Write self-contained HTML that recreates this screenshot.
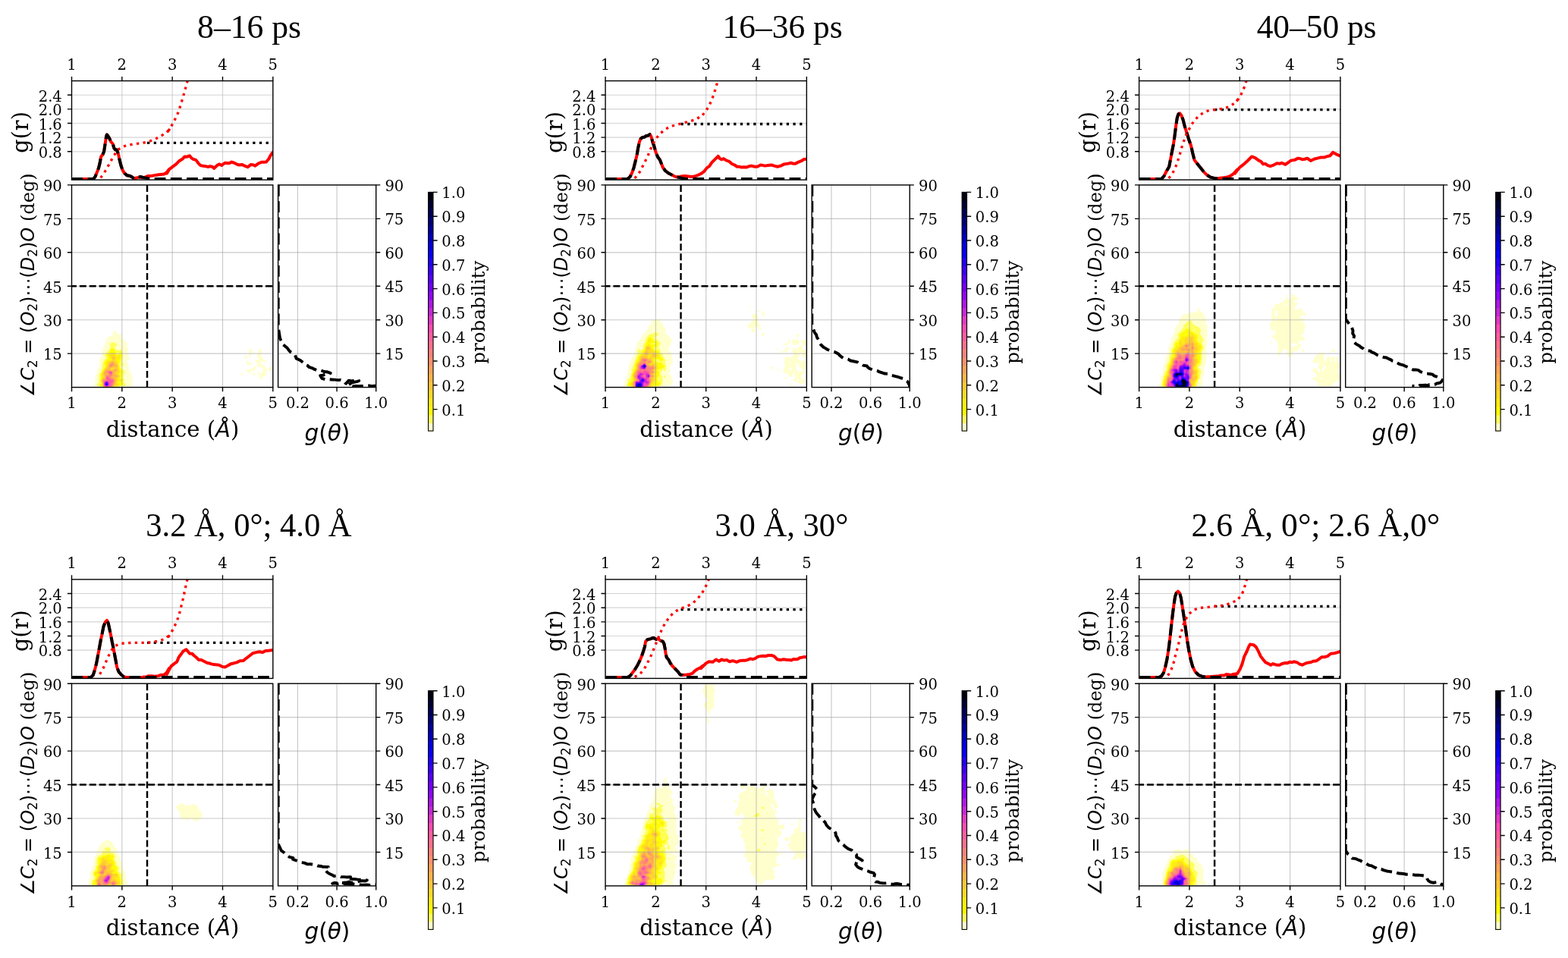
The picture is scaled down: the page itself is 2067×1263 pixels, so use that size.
<!DOCTYPE html><html><head><meta charset="utf-8"><style>html,body{margin:0;padding:0;background:#fff;}svg{display:block;}</style></head><body><svg width="2067" height="1263" viewBox="0 0 2067 1263"><rect width="100%" height="100%" fill="#fff"/><g transform="translate(0,0)"><clipPath id="ct00"><rect x="94.5" y="106.6" width="265.3" height="130.5"/></clipPath><clipPath id="cm00"><rect x="94.5" y="243.9" width="265.3" height="266.7"/></clipPath><clipPath id="cr00"><rect x="366.6" y="243.9" width="129.1" height="266.7"/></clipPath></g><g transform="translate(0,0)"><path d="M160.82 106.6V237.1M227.15 106.6V237.1M293.48 106.6V237.1" stroke="#b0b0b0" stroke-opacity="0.55" stroke-width="1.15" fill="none"/><path d="M94.5 199.81H359.8M94.5 181.17H359.8M94.5 162.53H359.8M94.5 143.89H359.8M94.5 125.24H359.8" stroke="#b0b0b0" stroke-opacity="0.55" stroke-width="1.15" fill="none"/><g clip-path="url(#ct00)" fill="none" stroke-linejoin="round"><polyline points="94.43,236.12 123.25,235.9 125.47,233.02 127.69,227.47 129.9,221.93 131.57,215.28 133.23,206.41 135.45,203.64 137.11,199.76 138.77,188.68 140.1,179.81 140.99,177.59 142.32,179.26 144.32,182.58 145.98,186.46 148.75,189.79 150.41,195.33 152.07,197.55 154.07,197.55 155.95,203.09 157.62,210.85 159.28,217.5 161.5,224.15 164.27,228.58 167.59,231.35 171.47,231.91 174.24,233.57 177.02,235.46 178.68,234.68 181.45,234.13 184.22,233.57 186.99,233.96 189.76,234.35 192.53,232.99 195.3,231.91 198.08,232.08 200.85,231.69 203.62,231.12 206.39,230.8 209.16,230.18 211.93,229.91 216.37,229.47 219.69,227.47 223.02,223.04 220,228.59 223.33,223.05 227.76,219.72 232.19,216.4 236.63,211.96 241.06,209.19 243.28,206.42 246.61,206.64 249.93,205.31 252.15,208.08 254.37,209.75 258.25,210.86 261.57,215.29 264.34,218.06 267.67,218.84 270.99,219.17 274.32,219.95 277.09,219.32 279.86,219.72 282.08,221.94 286.51,217.73 289.29,216.4 292.06,218.06 296.49,214.74 299.26,214.9 302.03,215.29 305.36,213.63 308.69,214.74 313.12,216.95 315.89,217.56 318.66,216.95 323.1,218.84 326.42,220.28 330.86,216.95 334.18,217.51 336.4,218.62 340.83,215.29 345.27,213.63 348.04,213.86 350.81,213.63 354.14,209.75 356.35,205.31 359.12,201.43 361.34,199.22" stroke="#ff0000" stroke-width="4.0"/><polyline points="94.43,236.12 123.25,235.9 125.47,233.02 127.69,227.47 129.9,221.93 131.57,215.28 133.23,206.41 135.45,203.64 137.11,199.76 138.77,188.68 140.1,179.81 140.99,177.59 142.32,179.26 144.32,182.58 145.98,186.46 148.75,189.79 150.41,195.33 152.07,197.55 154.07,197.55 155.95,203.09 157.62,210.85 159.28,217.5 161.5,224.15 164.27,228.58 167.59,231.35 171.47,231.91 174.24,233.57 177.02,235.46 182,233.57 185.33,233.02 189.76,234.13 195.3,235.23 200.85,236.12 362.8,236.12" stroke="#000" stroke-width="4.0" stroke-dasharray="14.8 6.4"/><line x1="193.99" y1="188.35" x2="361.8" y2="188.35" stroke="#000" stroke-width="3.3" stroke-dasharray="3.3 5.4"/><polyline points="132.68,234.35 137.66,227.47 142.1,219.71 145.98,212.51 150.41,204.75 155.4,197.55 162.05,193.11 170.92,190.89 178.68,189.56 187.55,188.68 196.41,186.46 204.17,183.69 211.93,179.26 219.14,175.38 224.68,168.73 220,175.38 224.43,168.73 228.87,160.97 232.75,153.21 236.07,145.45 238.29,137.47 241.06,129.04 243.28,120.51 245.72,112.19 247.16,106.65 248.27,102.22" stroke="#ff0000" stroke-width="3.3" stroke-dasharray="3.3 5.4"/></g><rect x="94.5" y="106.6" width="265.3" height="130.5" fill="none" stroke="#000" stroke-width="1.4"/><path d="M94.5 106.6v-5.6M160.82 106.6v-5.6M227.15 106.6v-5.6M293.48 106.6v-5.6M359.8 106.6v-5.6M94.5 199.81h-5.6M94.5 181.17h-5.6M94.5 162.53h-5.6M94.5 143.89h-5.6M94.5 125.24h-5.6" stroke="#000" stroke-width="1.4"/><text transform="translate(94.5,92) scale(0.94,1)" font-family="'DejaVu Serif', serif" font-size="20.8" text-anchor="middle">1</text><text transform="translate(160.82,92) scale(0.94,1)" font-family="'DejaVu Serif', serif" font-size="20.8" text-anchor="middle">2</text><text transform="translate(227.15,92) scale(0.94,1)" font-family="'DejaVu Serif', serif" font-size="20.8" text-anchor="middle">3</text><text transform="translate(293.48,92) scale(0.94,1)" font-family="'DejaVu Serif', serif" font-size="20.8" text-anchor="middle">4</text><text transform="translate(359.8,92) scale(0.94,1)" font-family="'DejaVu Serif', serif" font-size="20.8" text-anchor="middle">5</text><text transform="translate(81.8,208.11) scale(0.94,1)" font-family="'DejaVu Serif', serif" font-size="20.8" text-anchor="end">0.8</text><text transform="translate(81.8,189.47) scale(0.94,1)" font-family="'DejaVu Serif', serif" font-size="20.8" text-anchor="end">1.2</text><text transform="translate(81.8,170.83) scale(0.94,1)" font-family="'DejaVu Serif', serif" font-size="20.8" text-anchor="end">1.6</text><text transform="translate(81.8,152.19) scale(0.94,1)" font-family="'DejaVu Serif', serif" font-size="20.8" text-anchor="end">2.0</text><text transform="translate(81.8,133.54) scale(0.94,1)" font-family="'DejaVu Serif', serif" font-size="20.8" text-anchor="end">2.4</text><text transform="translate(37.0,174.5) rotate(-90)" font-family="'DejaVu Serif', serif" font-size="29" text-anchor="middle">g(r)</text><g clip-path="url(#cm00)"><path d="M125 509.3L127.7 509.3L130.3 509.3L133 509.3L135.6 509.3L138.3 509.3L140.9 509.3L143.6 509.3L146.2 509.3L148.9 509.3L151.5 509.3L154.2 509.3L156.8 509.3L159.5 509.3L162.2 509.3L164.8 509.3L167.5 509.3L170.1 509.3L172.8 509.3L175.4 509.3L175.5 509.3L175.4 509.1L174 506.6L174.5 503.9L174.6 501.3L174.5 498.6L173.8 495.9L173 493.3L172.8 491.4L172.4 490.6L170.1 488.4L170 487.9L169.8 485.3L170 482.6L168.5 479.9L167.8 477.3L167.5 474.6L170.1 474.2L172.5 471.9L170.1 470.8L169.3 469.3L169.1 466.6L168 463.9L169.3 461.3L168.6 458.6L167.5 456.4L166.8 455.9L167.5 454.7L168 453.3L167.5 452.6L165.9 450.6L164.8 448.6L162.9 447.9L162.2 447.7L160.4 445.3L160.7 442.6L159.5 440.7L156.8 440.6L154.2 440.2L153.6 439.9L153.8 437.3L151.5 435.5L149.8 437.3L148.9 439.1L148.2 439.9L148.2 442.6L146.2 442.7L143.6 443.1L141.8 445.3L140.9 447L140.3 447.9L139.3 450.6L138.6 453.3L138.3 454.4L137.2 455.9L135.7 458.6L135.6 459L135.3 461.3L135.1 463.9L133.4 466.6L133.6 469.3L133 470.7L132.2 471.9L130.9 474.6L131.6 477.3L131.1 479.9L131 482.6L130.3 484.3L129.3 485.3L127.9 487.9L127.9 490.6L127.7 491.8L126.9 493.3L126.4 495.9L125.3 498.6L125.3 501.3L125.3 503.9L125 505.3L124.2 506.6L124 509.3ZM331.9 509.3L332.9 509.3L331.9 509L331.7 509.3ZM334.6 501.1L334.9 498.6L334.6 497.3L334.2 498.6ZM342.6 500L345.2 499.6L346 498.6L347.7 495.9L347.9 495.4L350.5 495L351.6 493.3L351.5 490.6L352.4 487.9L351 485.3L350.5 485L349.2 482.6L347.9 480.2L345.2 481.5L343.8 479.9L343.9 477.3L345.2 476.1L347.8 477.3L347.9 477.6L350.5 478.3L351.5 477.3L350.5 474.7L347.9 475.9L347.8 474.6L346.6 471.9L345.2 470.6L343.6 469.3L344.1 466.6L345.1 463.9L344 461.3L342.6 459.1L340.3 461.3L340.3 463.9L340.9 466.6L339.9 466.7L338.1 469.3L339.9 471.2L341.2 471.9L340.3 474.6L339.9 475.3L339.2 474.6L337.2 473.7L336.3 474.6L337.1 477.3L337.2 477.6L339.9 479.6L340.1 479.9L339.9 480.3L337.4 482.6L339.9 483.5L342.6 484.6L345.2 484L346.9 485.3L345.7 487.9L347 490.6L345.2 492.2L342.6 491.4L341.4 490.6L339.9 490.3L339.4 490.6L339.9 492.4L340.5 493.3L342.1 495.9L341.7 498.6ZM318.7 495.9L320.2 493.3L318.7 490.7L317 493.3ZM334.6 495.6L337.2 493.4L338.6 493.3L337.2 493L334.6 491.6L333 493.3ZM326.6 492.2L329.3 492.5L330.8 490.6L331.9 489.1L334.6 489.3L335.9 487.9L337.2 485.7L337.7 485.3L337.2 483L334.6 483.2L333.2 485.3L331.9 486L329.3 486.5L326.6 487.2L325.5 487.9L325.4 490.6ZM355.8 489.5L358.4 487.9L357.8 485.3L355.8 483.6L354 485.3L354 487.9ZM326.6 481.4L329.3 480.1L331.9 481.8L333.5 479.9L331.9 478.8L329.3 479.6L328.7 477.3L326.6 475.1L324.8 477.3L325.3 479.9ZM324 473.4L326.3 471.9L324.9 469.3L324 467.9L323 469.3L322 471.9ZM329.3 471.2L331.1 469.3L330.7 466.6L331.9 465.5L333.7 463.9L331.9 461.4L331.8 461.3L329.3 459.3L327.4 461.3L327.9 463.9L328.3 466.6L328 469.3ZM318.7 462.4L320.8 461.3L318.7 460.8L318.1 461.3ZM337.2 459L337.5 458.6L337.2 458.3L337 458.6ZM353.2 459.4L354.4 458.6L353.2 458.2L352.7 458.6Z" fill="#ffffcd"/><path d="M127.7 507L128.4 509.3L130.3 509.3L133 509.3L135.6 509.3L138.3 509.3L140.9 509.3L143.6 509.3L146.2 509.3L148.9 509.3L151.5 509.3L154.2 509.3L156.8 509.3L159.5 509.3L162.2 509.3L164 509.3L164.8 508.6L166.4 506.6L164.8 505.5L163.5 503.9L163.8 501.3L163.1 498.6L162.4 495.9L163.6 493.3L164.8 491.1L165.1 490.6L164.8 489.9L163.6 487.9L162.2 487L159.8 485.3L159.5 483.1L159.5 482.6L159.5 482.4L162.2 482.2L164.2 479.9L162.2 479.4L161 477.3L161.6 474.6L161.7 471.9L162.2 469.7L162.4 469.3L162.2 468.8L161.6 466.6L161.5 463.9L160.1 461.3L159.5 460.6L158.6 461.3L156.8 461.8L154.6 461.3L154.2 461.1L151.5 458.9L151.3 458.6L151.5 457.8L153.6 455.9L154.2 453.8L154.3 453.3L154.2 453.2L151.5 451.9L148.9 451.2L146.2 452.3L144.9 453.3L144.8 455.9L145.6 458.6L143.9 461.3L143.6 462.2L140.9 463.7L140.8 463.9L138.5 466.6L138.3 469L138.3 469.3L138.3 469.3L139.8 471.9L138.3 473.7L136.8 474.6L135.9 477.3L135.6 477.8L134.5 479.9L134.9 482.6L134.2 485.3L133.5 487.9L133 490.2L132.8 490.6L130.7 493.3L130.7 495.9L130.3 498.3L130.2 498.6L130.3 499.4L130.4 501.3L130.6 503.9L130.3 504.5L127.7 506.4L127.5 506.6Z" fill="#ffff5c"/><path d="M133 509.3L135.6 509.3L138.3 509.3L140.9 509.3L143.6 509.3L146.2 509.3L148.9 509.3L151.5 509.3L154.2 509.3L156.8 509.3L157.9 509.3L159.5 507.5L162.2 506.6L162.2 506.6L162.2 506.6L160.8 503.9L162.2 501.3L159.7 498.6L159.8 495.9L159.8 493.3L161.9 490.6L160.6 487.9L159.5 487L158.1 485.3L157.5 482.6L156.8 480L156.8 479.9L156.8 479.9L158.4 477.3L159.1 474.6L159.5 473.2L159.8 471.9L160.6 469.3L159.7 466.6L160.1 463.9L159.5 463L157.2 463.9L159 466.6L156.8 467L154.2 467.9L153.3 466.6L153.1 463.9L151.5 462.5L150.8 461.3L148.9 458.9L146.2 459.8L145.1 461.3L144.6 463.9L143.6 465L141.7 466.6L141.1 469.3L142.7 471.9L140.9 473.8L140.2 474.6L138.3 476.7L137.9 477.3L137.1 479.9L138.3 481.3L138.8 482.6L138.3 483.9L137.2 485.3L135.7 487.9L135.6 488.2L134.3 490.6L133 492.7L132.5 493.3L132.7 495.9L133 498.6L132 501.3L133 503.7L133 503.9L133 505.4L132.7 506.6L131.2 509.3Z" fill="#fffc03"/><path d="M135.6 509.3L138.3 509.3L140.9 509.3L143.6 509.3L146.2 509.3L148.9 509.3L151.5 509.3L154.2 509.3L156.1 509.3L156.1 506.6L155.4 503.9L156.8 501.8L159.5 503.3L161.2 501.3L159.5 499.5L156.8 500.2L156.3 498.6L156.8 498.1L158.6 495.9L156.9 493.3L159.1 490.6L158.5 487.9L156.8 485.8L156.7 485.3L156.5 482.6L156 479.9L156.5 477.3L154.2 475.5L153.6 474.6L154.2 472.7L156.8 474.6L158.4 471.9L158.8 469.3L156.8 468.1L154.9 469.3L154.2 471.2L153.5 469.3L151.9 466.6L151.5 465.7L148.9 464.5L146.2 464.1L144 466.6L143.6 467.3L142.8 469.3L143.6 470.3L145.6 471.9L146.2 472.8L146.8 474.6L146.2 475L143.6 475.3L140.9 475.9L139.6 477.3L139.6 479.9L140.4 482.6L138.9 485.3L138.3 485.8L136.4 487.9L135.6 490.6L135.6 490.6L133.6 493.3L134.1 495.9L133.9 498.6L133.1 501.3L133.6 503.9L134 506.6L133 509.3ZM148.9 461.3L148.9 461.3L148.9 461.2L148.7 461.3Z" fill="#ffec13"/><path d="M135.6 509.3L138.3 509.3L140.9 509.3L143.6 509.3L146.2 509.3L148.9 509.3L151.5 509.3L154.2 509.3L154.7 509.3L154.8 506.6L154.2 504.4L154.1 503.9L154.2 503.5L155.2 501.3L154.8 498.6L156.8 496.9L157.6 495.9L156.8 494.8L154.9 493.3L156.8 491.1L157.2 490.6L156.8 489.3L156.6 487.9L155.7 485.3L155.9 482.6L155.1 479.9L154.2 477.9L153.5 477.3L152.1 474.6L153.2 471.9L151.7 469.3L151.5 469L149.6 466.6L148.9 466.1L146.8 466.6L146.2 466.9L144.7 469.3L146.2 470.6L146.9 471.9L147.9 474.6L146.2 476L143.6 476.8L141.9 477.3L141.5 479.9L141.4 482.6L140.9 483.6L139.9 485.3L138.3 486.6L137.1 487.9L136.2 490.6L135.6 491.8L134.5 493.3L135.5 495.9L134.8 498.6L133.6 501.3L134.1 503.9L135 506.6L133.8 509.3ZM148.8 485.3L148.9 485.2L149 485.3L148.9 485.3ZM159.5 502.2L160.2 501.3L159.5 500.5L158.2 501.3ZM156.8 472.3L157.1 471.9L156.9 469.3L156.8 469.2L156.8 469.3L156.4 471.9Z" fill="#ffda25"/><path d="M135.6 509.3L138.3 509.3L140.9 509.3L143.6 509.3L146.2 509.3L148.9 509.3L150.9 509.3L151.5 507L152.1 506.6L153 503.9L153.5 501.3L152.7 498.6L154.2 498.1L156.6 495.9L154.2 493.8L152.8 493.3L153.6 490.6L154.2 490.2L155.6 487.9L154.7 485.3L155.3 482.6L154.2 479.9L154.1 479.9L151.5 477.5L151.4 477.3L148.9 474.9L146.2 477L145.4 477.3L143.6 479.5L143.3 479.9L142.1 482.6L140.9 485.2L140.9 485.3L138.3 487.4L137.8 487.9L136.8 490.6L135.6 493L135.4 493.3L135.6 493.8L137.1 495.9L136.2 498.6L135.6 498.7L134 501.3L134.7 503.9L135.6 506L135.7 506.6L135.6 507.3L134.6 509.3ZM145.7 487.9L146.2 485.3L146.2 485.2L148.9 484.4L151.5 484.7L152.8 485.3L151.5 485.6L148.9 486.9L147.3 487.9L146.2 488.1ZM148.9 474.2L151.5 472.9L152 471.9L151.5 471.1L148.9 469.4L147.8 471.9Z" fill="#ffc837"/><path d="M135.6 509.3L138.3 509.3L140.9 509.3L143.6 509.3L146.2 509.3L148.9 509.3L150 509.3L150.9 506.6L151.5 504.7L151.9 503.9L152.2 501.3L151.5 500L150.6 498.6L151.5 497.8L154.2 497.1L155.5 495.9L154.2 494.7L151.5 493.9L150.8 493.3L151.3 490.6L151.5 490.5L154.2 488.6L154.6 487.9L154.2 486.8L151.5 486.2L149.2 487.9L148.9 488.5L146.2 488.4L144.5 487.9L144.7 485.3L146.2 484.7L148.9 483.6L151.5 483.5L154.2 484.3L154.7 482.6L154.2 481.3L151.5 480.7L151.3 479.9L149.8 477.3L148.9 476.4L147.7 477.3L146.2 477.9L144.3 479.9L143.6 481.1L142.8 482.6L142.4 485.3L140.9 486.7L139.1 487.9L138.3 488.5L137.4 490.6L136.8 493.3L138.3 495.4L138.4 495.9L138.4 498.6L138.3 499L135.6 499.4L134.4 501.3L135.3 503.9L135.6 504.7L136 506.6L135.6 508.9L135.4 509.3ZM140.7 493.3L140.9 493.2L141.1 493.3L140.9 493.3ZM148.9 472.3L149.5 471.9L148.9 471.5L148.7 471.9Z" fill="#ffb649"/><path d="M138.3 509.3L140.9 509.3L143.6 509.3L146.2 509.3L148.9 509.3L149.1 509.3L150.1 506.6L151.1 503.9L151.3 501.3L148.9 498.6L148.8 498.6L148.1 495.9L148.9 493.3L148.9 493.2L149.4 490.6L148.9 490.2L146.2 488.7L143.6 488L140.9 488.2L138.3 490L138 490.6L138.2 493.3L138.3 493.4L139 495.9L138.8 498.6L138.3 499.9L135.6 500.1L134.9 501.3L135.6 503.4L135.8 503.9L136.2 506.6L135.9 509.3ZM138.4 493.3L140.9 492.1L142.9 493.3L140.9 493.9ZM151.5 496.3L154.2 496.2L154.5 495.9L154.2 495.7L151.5 495.6L150.9 495.9ZM151.5 489.5L153.4 487.9L151.5 486.9L150.1 487.9ZM143.6 483.7L146.2 484.1L148.9 482.8L149.9 482.6L150.6 479.9L148.9 477.7L146.2 478.7L145.1 479.9L143.6 482.4L143.5 482.6Z" fill="#ffa45b"/><path d="M138.3 509.3L140.9 509.3L143.6 509.3L146.2 509.3L148.5 509.3L148.9 507.7L149.3 506.6L150.3 503.9L150.7 501.3L148.9 499.2L146.2 498.6L146.2 498.6L146.2 498.5L147 495.9L148.4 493.3L148.6 490.6L146.2 489L143.6 488.6L140.9 490L140 490.6L140.9 491L143.6 492.9L143.9 493.3L143.6 494.2L140.9 494.5L139.6 495.9L139.2 498.6L138.3 500.9L135.6 500.8L135.3 501.3L135.6 502.1L136.1 503.9L136.4 506.6L136.3 509.3ZM151.5 488.5L152.2 487.9L151.5 487.6L151 487.9ZM146.2 483.6L148.1 482.6L148.9 481.5L149.8 479.9L148.9 478.7L146.2 479.6L145.9 479.9L144.4 482.6Z" fill="#ff926d"/><path d="M138.3 509.3L140.9 509.3L143.6 509.3L146.2 509.3L147.9 509.3L148.4 506.6L148.9 505.8L149.6 503.9L150.1 501.3L148.9 499.9L146.2 499.4L145.3 498.6L144.5 495.9L146.2 495.7L147.9 493.3L148.1 490.6L146.2 489.3L143.6 489.1L141.5 490.6L143.6 492.3L144.4 493.3L143.6 495.7L140.9 495.2L140.2 495.9L139.5 498.6L139.9 501.3L138.3 501.5L136.4 503.9L136.6 506.6L136.7 509.3ZM146.2 483L147 482.6L146.2 481.1L145.5 482.6ZM148.9 480.2L149 479.9L148.9 479.7L148.2 479.9Z" fill="#ff827d"/><path d="M138.3 509.3L140.9 509.3L143.6 509.3L146.2 509.3L147.3 509.3L147.4 506.6L148.9 504L148.9 503.9L149.6 501.3L148.9 500.5L146.2 500.1L144.5 498.6L143.6 497.1L141.6 495.9L140.9 495.8L140.8 495.9L139.9 498.6L140.9 500.8L141.8 501.3L140.9 501.4L138.3 502L136.8 503.9L136.9 506.6L137.1 509.3ZM146.2 495L147.4 493.3L147.7 490.6L146.2 489.6L143.6 489.7L142.3 490.6L143.6 491.6L145 493.3Z" fill="#ff708f"/><path d="M138.3 509.3L140.9 509.3L143.6 509.3L146.2 509.3L146.7 509.3L146.3 506.6L147.7 503.9L148.9 501.7L149 501.3L148.9 501.2L146.2 500.8L143.6 498.6L143.6 498.6L140.9 496.7L140.3 498.6L140.9 500L143.3 501.3L140.9 501.8L138.3 502.4L137.1 503.9L137.1 506.6L137.5 509.3ZM146.2 494.3L146.9 493.3L147.3 490.6L146.2 489.9L143.6 490.3L143.1 490.6L143.6 491L145.5 493.3Z" fill="#ff5ea1"/><path d="M138.3 509.3L140.9 509.3L143.6 509.3L145.6 509.3L144.1 506.6L146.2 504.2L146.4 503.9L146.2 503.4L143.6 503.1L140.9 502.1L138.3 502.9L137.5 503.9L137.3 506.6L137.9 509.3ZM140.9 499.2L142 498.6L140.9 497.8L140.7 498.6ZM146.2 493.5L146.4 493.3L146.8 490.6L146.2 490.2L144.2 490.6L146 493.3Z" fill="#fe4cb3"/><path d="M138.3 509.3L140.9 509.3L143.2 509.3L143.4 506.6L143.3 503.9L140.9 502.4L138.3 503.3L137.8 503.9L137.5 506.6L138.3 509.3ZM146.2 491.5L146.4 490.6L146.2 490.5L145.7 490.6Z" fill="#e23ac5"/><path d="M138.3 508.5L139.4 509.3L140.9 509.3L142.3 509.3L143.2 506.6L142.8 503.9L140.9 502.7L138.3 503.8L138.2 503.9L137.8 506.6Z" fill="#c628d7"/><path d="M138.3 507.7L140.5 509.3L140.9 509.3L141.3 509.3L143 506.6L142.3 503.9L140.9 503L138.8 503.9L138.3 504.8L138 506.6Z" fill="#ad18e7"/><path d="M138.3 506.8L140.9 509.1L142.7 506.6L141.9 503.9L140.9 503.3L139.5 503.9L138.3 506.2L138.2 506.6Z" fill="#9106f9"/><path d="M140.9 508.8L142.5 506.6L141.4 503.9L140.9 503.6L140.2 503.9L138.5 506.6Z" fill="#7400ff"/><path d="M140.9 508.5L142.3 506.6L140.9 504L138.8 506.6Z" fill="#5800ff"/><path d="M140.9 508.2L142.1 506.6L140.9 504.4L139.2 506.6Z" fill="#3c00ff"/><path d="M140.9 507.9L141.8 506.6L140.9 504.8L139.5 506.6Z" fill="#2300ff"/><path d="M140.9 507.6L141.6 506.6L140.9 505.3L139.9 506.6Z" fill="#0700ff"/><path d="M140.9 507.2L141.4 506.6L140.9 505.7L140.2 506.6Z" fill="#0000e4"/><path d="M140.9 506.9L141.2 506.6L140.9 506.1L140.5 506.6Z" fill="#0000c0"/><path d="M140.9 506.6L141 506.6L140.9 506.5L140.9 506.6Z" fill="#00009c"/></g><path d="M160.82 243.9V510.6M227.15 243.9V510.6M293.48 243.9V510.6" stroke="#a8a8a8" stroke-opacity="0.62" stroke-width="1.15" fill="none"/><path d="M94.5 466.15H359.8M94.5 421.7H359.8M94.5 377.25H359.8M94.5 332.8H359.8M94.5 288.35H359.8" stroke="#a8a8a8" stroke-opacity="0.62" stroke-width="1.15" fill="none"/><g clip-path="url(#cm00)" stroke="#000" stroke-width="2.45" stroke-dasharray="9 3.9"><line x1="193.99" y1="243.9" x2="193.99" y2="510.6"/><line x1="94.5" y1="377.25" x2="359.8" y2="377.25" stroke-dashoffset="2.56"/></g><rect x="94.5" y="243.9" width="265.3" height="266.7" fill="none" stroke="#000" stroke-width="1.4"/><path d="M94.5 510.6v5.6M160.82 510.6v5.6M227.15 510.6v5.6M293.48 510.6v5.6M359.8 510.6v5.6M94.5 466.15h-5.6M94.5 421.7h-5.6M94.5 377.25h-5.6M94.5 332.8h-5.6M94.5 288.35h-5.6M94.5 243.9h-5.6" stroke="#000" stroke-width="1.4"/><text transform="translate(94.5,538.2) scale(0.94,1)" font-family="'DejaVu Serif', serif" font-size="20.8" text-anchor="middle">1</text><text transform="translate(160.82,538.2) scale(0.94,1)" font-family="'DejaVu Serif', serif" font-size="20.8" text-anchor="middle">2</text><text transform="translate(227.15,538.2) scale(0.94,1)" font-family="'DejaVu Serif', serif" font-size="20.8" text-anchor="middle">3</text><text transform="translate(293.48,538.2) scale(0.94,1)" font-family="'DejaVu Serif', serif" font-size="20.8" text-anchor="middle">4</text><text transform="translate(359.8,538.2) scale(0.94,1)" font-family="'DejaVu Serif', serif" font-size="20.8" text-anchor="middle">5</text><text transform="translate(81.8,474.45) scale(0.94,1)" font-family="'DejaVu Serif', serif" font-size="20.8" text-anchor="end">15</text><text transform="translate(81.8,430) scale(0.94,1)" font-family="'DejaVu Serif', serif" font-size="20.8" text-anchor="end">30</text><text transform="translate(81.8,385.55) scale(0.94,1)" font-family="'DejaVu Serif', serif" font-size="20.8" text-anchor="end">45</text><text transform="translate(81.8,341.1) scale(0.94,1)" font-family="'DejaVu Serif', serif" font-size="20.8" text-anchor="end">60</text><text transform="translate(81.8,296.65) scale(0.94,1)" font-family="'DejaVu Serif', serif" font-size="20.8" text-anchor="end">75</text><text transform="translate(81.8,252.2) scale(0.94,1)" font-family="'DejaVu Serif', serif" font-size="20.8" text-anchor="end">90</text><text x="227.5" y="575.5" font-family="'DejaVu Serif', serif" font-size="29" text-anchor="middle">distance (<tspan font-family="'DejaVu Sans', sans-serif" font-style="italic">Å</tspan>)</text><text transform="translate(44.6,523.3) rotate(-90)" font-family="'DejaVu Sans', sans-serif" font-size="24.5" textLength="295" lengthAdjust="spacingAndGlyphs">∠<tspan font-style="italic">C</tspan><tspan font-size="17" dy="4">2</tspan><tspan dy="-4"> = (</tspan><tspan font-style="italic">O</tspan><tspan font-size="17" dy="4">2</tspan><tspan dy="-4">)⋯(</tspan><tspan font-style="italic">D</tspan><tspan font-size="17" dy="4">2</tspan><tspan dy="-4">)</tspan><tspan font-style="italic">O</tspan><tspan font-family="'DejaVu Serif', serif" font-size="24.5"> (deg)</tspan></text><path d="M392.42 243.9V510.6M444.06 243.9V510.6" stroke="#a8a8a8" stroke-opacity="0.62" stroke-width="1.15" fill="none"/><path d="M366.6 466.15H495.7M366.6 421.7H495.7M366.6 377.25H495.7M366.6 332.8H495.7M366.6 288.35H495.7" stroke="#a8a8a8" stroke-opacity="0.62" stroke-width="1.15" fill="none"/><g clip-path="url(#cr00)"><polyline points="366.75,244 366.75,247.03 366.75,250.07 366.75,253.1 366.75,256.14 366.75,259.17 366.75,262.21 366.75,265.24 366.75,268.28 366.75,271.31 366.75,274.34 366.75,277.38 366.75,280.41 366.75,283.45 366.75,286.48 366.75,289.52 366.75,292.55 366.75,295.59 366.75,298.62 366.75,301.66 366.75,304.69 366.75,307.72 366.75,310.76 366.75,313.79 366.75,316.83 366.75,319.86 366.75,322.9 366.75,325.93 366.75,328.97 366.75,332 366.75,335.03 366.75,338.07 366.75,341.1 366.75,344.14 366.75,347.17 366.75,350.21 366.75,353.24 366.75,356.28 366.75,359.31 366.75,362.34 366.75,365.38 366.75,368.41 366.75,371.45 366.75,374.48 366.75,377.52 366.75,380.55 366.75,383.59 366.75,386.62 366.75,389.66 366.75,392.69 366.75,395.72 366.75,398.76 366.75,401.79 366.75,404.83 366.75,407.86 366.75,410.9 366.75,413.93 366.75,416.97 366.75,420 366.75,423.67 366.75,427.33 366.75,431 366.75,431.28 367.23,434.29 367.71,437.3 368.19,440.31 368.67,443.32 369.15,446.33 371.07,450.06 371.78,453.1 376.29,456.86 378.48,458.5 380.2,460.95 382.31,463.63 386.04,465.42 389.08,468.15 390.59,472.66 395.85,474.92 399.36,477.76 401.12,480.18 406.13,482.34 407.14,483.94 411.67,485.33 414.66,486.95 417.86,488.15 422.18,488.08 425.73,489.26 429.27,490.3 430.72,490.17 435.72,491.84 433.26,493.69 427.89,493.3 426.7,494.48 422.18,495.23 424.44,498.99 429.71,500.49 434.06,500.28 437.98,500.49 441.28,500.61 446.03,501.07 448.87,500.83 452.27,501.62 456.04,505.76 459.8,501.62 463.79,502.43 467.13,501.66 468.74,502.09 473.34,502 470.34,503.2 464.34,504.28 462.07,505.55 459.8,507.26 459.8,508.77 463.35,508.39 466.27,509.48 469.14,508.99 473.34,509.15 476.87,508.84 477.84,509.22 482.37,509.15 486.68,508.47 489.11,509.09 494.22,508.71 496.66,509.52" fill="none" stroke="#000" stroke-width="3.9" stroke-linejoin="round" stroke-dasharray="14.8 6.4"/></g><rect x="366.6" y="243.9" width="129.1" height="266.7" fill="none" stroke="#000" stroke-width="1.4"/><path d="M392.42 510.6v5.6M444.06 510.6v5.6M495.7 510.6v5.6M495.7 466.15h5.6M495.7 421.7h5.6M495.7 377.25h5.6M495.7 332.8h5.6M495.7 288.35h5.6M495.7 243.9h5.6" stroke="#000" stroke-width="1.4"/><text transform="translate(392.42,538.2) scale(0.94,1)" font-family="'DejaVu Serif', serif" font-size="20.8" text-anchor="middle">0.2</text><text transform="translate(444.06,538.2) scale(0.94,1)" font-family="'DejaVu Serif', serif" font-size="20.8" text-anchor="middle">0.6</text><text transform="translate(495.7,538.2) scale(0.94,1)" font-family="'DejaVu Serif', serif" font-size="20.8" text-anchor="middle">1.0</text><text transform="translate(507.4,474.25) scale(0.94,1)" font-family="'DejaVu Serif', serif" font-size="20.8" text-anchor="start">15</text><text transform="translate(507.4,429.8) scale(0.94,1)" font-family="'DejaVu Serif', serif" font-size="20.8" text-anchor="start">30</text><text transform="translate(507.4,385.35) scale(0.94,1)" font-family="'DejaVu Serif', serif" font-size="20.8" text-anchor="start">45</text><text transform="translate(507.4,340.9) scale(0.94,1)" font-family="'DejaVu Serif', serif" font-size="20.8" text-anchor="start">60</text><text transform="translate(507.4,296.45) scale(0.94,1)" font-family="'DejaVu Serif', serif" font-size="20.8" text-anchor="start">75</text><text transform="translate(507.4,252) scale(0.94,1)" font-family="'DejaVu Serif', serif" font-size="20.8" text-anchor="start">90</text><text x="431.4" y="581.2" font-family="'DejaVu Sans', sans-serif" font-size="29.5" text-anchor="middle"><tspan font-style="italic">g</tspan>(<tspan font-style="italic">θ</tspan>)</text><rect x="564.6" y="557.36" width="6.4" height="11.56" fill="#ffffcd"/><rect x="564.6" y="546.51" width="6.4" height="11.56" fill="#ffff5c"/><rect x="564.6" y="535.65" width="6.4" height="11.56" fill="#fffc03"/><rect x="564.6" y="524.8" width="6.4" height="11.56" fill="#ffec13"/><rect x="564.6" y="513.94" width="6.4" height="11.56" fill="#ffda25"/><rect x="564.6" y="503.08" width="6.4" height="11.56" fill="#ffc837"/><rect x="564.6" y="492.23" width="6.4" height="11.56" fill="#ffb649"/><rect x="564.6" y="481.37" width="6.4" height="11.56" fill="#ffa45b"/><rect x="564.6" y="470.52" width="6.4" height="11.56" fill="#ff926d"/><rect x="564.6" y="459.66" width="6.4" height="11.56" fill="#ff827d"/><rect x="564.6" y="448.81" width="6.4" height="11.56" fill="#ff708f"/><rect x="564.6" y="437.95" width="6.4" height="11.56" fill="#ff5ea1"/><rect x="564.6" y="427.09" width="6.4" height="11.56" fill="#fe4cb3"/><rect x="564.6" y="416.24" width="6.4" height="11.56" fill="#e23ac5"/><rect x="564.6" y="405.38" width="6.4" height="11.56" fill="#c628d7"/><rect x="564.6" y="394.53" width="6.4" height="11.56" fill="#ad18e7"/><rect x="564.6" y="383.67" width="6.4" height="11.56" fill="#9106f9"/><rect x="564.6" y="372.81" width="6.4" height="11.56" fill="#7400ff"/><rect x="564.6" y="361.96" width="6.4" height="11.56" fill="#5800ff"/><rect x="564.6" y="351.1" width="6.4" height="11.56" fill="#3c00ff"/><rect x="564.6" y="340.25" width="6.4" height="11.56" fill="#2300ff"/><rect x="564.6" y="329.39" width="6.4" height="11.56" fill="#0700ff"/><rect x="564.6" y="318.54" width="6.4" height="11.56" fill="#0000e4"/><rect x="564.6" y="307.68" width="6.4" height="11.56" fill="#0000c0"/><rect x="564.6" y="296.82" width="6.4" height="11.56" fill="#00009c"/><rect x="564.6" y="285.97" width="6.4" height="11.56" fill="#000078"/><rect x="564.6" y="275.11" width="6.4" height="11.56" fill="#000058"/><rect x="564.6" y="264.26" width="6.4" height="11.56" fill="#000034"/><rect x="564.6" y="253.4" width="6.4" height="11.56" fill="#000010"/><rect x="564.6" y="253.4" width="6.4" height="314.7" fill="none" stroke="#000" stroke-width="1.1"/><path d="M571 539.6h5.6M571 507.8h5.6M571 476h5.6M571 444.2h5.6M571 412.4h5.6M571 380.6h5.6M571 348.8h5.6M571 317h5.6M571 285.2h5.6M571 253.4h5.6" stroke="#000" stroke-width="1.4"/><text transform="translate(582.3,547.5) scale(0.94,1)" font-family="'DejaVu Serif', serif" font-size="20.8" text-anchor="start">0.1</text><text transform="translate(582.3,515.7) scale(0.94,1)" font-family="'DejaVu Serif', serif" font-size="20.8" text-anchor="start">0.2</text><text transform="translate(582.3,483.9) scale(0.94,1)" font-family="'DejaVu Serif', serif" font-size="20.8" text-anchor="start">0.3</text><text transform="translate(582.3,452.1) scale(0.94,1)" font-family="'DejaVu Serif', serif" font-size="20.8" text-anchor="start">0.4</text><text transform="translate(582.3,420.3) scale(0.94,1)" font-family="'DejaVu Serif', serif" font-size="20.8" text-anchor="start">0.5</text><text transform="translate(582.3,388.5) scale(0.94,1)" font-family="'DejaVu Serif', serif" font-size="20.8" text-anchor="start">0.6</text><text transform="translate(582.3,356.7) scale(0.94,1)" font-family="'DejaVu Serif', serif" font-size="20.8" text-anchor="start">0.7</text><text transform="translate(582.3,324.9) scale(0.94,1)" font-family="'DejaVu Serif', serif" font-size="20.8" text-anchor="start">0.8</text><text transform="translate(582.3,293.1) scale(0.94,1)" font-family="'DejaVu Serif', serif" font-size="20.8" text-anchor="start">0.9</text><text transform="translate(582.3,261.3) scale(0.94,1)" font-family="'DejaVu Serif', serif" font-size="20.8" text-anchor="start">1.0</text><text transform="translate(639.1,411.7) rotate(-90)" font-family="'DejaVu Serif', serif" font-size="24.7" text-anchor="middle">probability</text><text x="328.6" y="49.9" font-family="'Liberation Serif', serif" font-size="44" text-anchor="middle" textLength="137" lengthAdjust="spacingAndGlyphs">8–16 ps</text></g><g transform="translate(703.55,0)"><clipPath id="ct10"><rect x="94.5" y="106.6" width="265.3" height="130.5"/></clipPath><clipPath id="cm10"><rect x="94.5" y="243.9" width="265.3" height="266.7"/></clipPath><clipPath id="cr10"><rect x="366.6" y="243.9" width="129.1" height="266.7"/></clipPath></g><g transform="translate(703.55,0)"><path d="M160.82 106.6V237.1M227.15 106.6V237.1M293.48 106.6V237.1" stroke="#b0b0b0" stroke-opacity="0.55" stroke-width="1.15" fill="none"/><path d="M94.5 199.81H359.8M94.5 181.17H359.8M94.5 162.53H359.8M94.5 143.89H359.8M94.5 125.24H359.8" stroke="#b0b0b0" stroke-opacity="0.55" stroke-width="1.15" fill="none"/><g clip-path="url(#ct10)" fill="none" stroke-linejoin="round"><polyline points="94.88,236.12 123.7,235.9 127.03,233.02 129.8,227.47 132.02,220.82 134.23,211.96 135.9,205.3 137.56,195.33 139.22,187.57 140.89,183.14 143.66,180.92 145.87,180.7 148.09,179.26 150.86,178.7 153.08,177.04 154.74,179.81 156.96,187.57 159.18,194.22 161.39,201.98 163.61,206.97 166.38,210.85 168.6,216.39 170.26,220.82 173.59,225.26 178.02,228.58 182.45,230.8 186.89,233.02 190.21,233.57 194.65,232.46 199.08,231.91 203.51,232.46 207.95,233.02 212.38,232.46 216.82,230.8 221.25,228.58 220.45,229.15 224.88,225.82 228.21,221.39 231.54,219.17 234.86,214.18 238.19,210.86 240.96,208.08 243.18,205.87 244.84,208.64 247.61,210.3 250.38,209.19 253.71,211.41 258.14,213.07 260.91,215.84 264.79,217.51 268.12,219.72 270.89,219.64 273.66,220.61 276.99,220.36 280.31,220.61 283.64,219.28 286.96,218.62 291.4,219.72 294.72,219.72 299.16,217.51 301.93,217.89 304.7,218.62 309.14,218.06 313.57,217.51 316.89,218.62 321.33,219.72 325.76,218.62 330.2,216.4 334.63,215.84 339.07,214.74 341.84,215.69 344.61,215.84 349.04,213.63 353.48,211.96 356.25,209.91 359.02,209.75 361.79,208.64" stroke="#ff0000" stroke-width="4.0"/><polyline points="94.88,236.12 123.7,235.9 127.03,233.02 129.8,227.47 132.02,220.82 134.23,211.96 135.9,205.3 137.56,195.33 139.22,187.57 140.89,183.14 143.66,180.92 145.87,180.7 148.09,179.26 150.86,178.7 153.08,177.04 154.74,179.81 156.96,187.57 159.18,194.22 161.39,201.98 163.61,206.97 166.38,210.85 168.6,216.39 170.26,220.82 173.59,225.26 178.02,228.58 182.45,230.8 186.89,233.02 190.21,233.57 194.65,234.68 201.3,236.12 362.8,236.12" stroke="#000" stroke-width="4.0" stroke-dasharray="14.8 6.4"/><line x1="193.99" y1="163.52" x2="361.8" y2="163.52" stroke="#000" stroke-width="3.3" stroke-dasharray="3.3 5.4"/><polyline points="133.13,235.01 138.67,228.58 142.55,221.38 146.43,213.62 150.31,205.86 153.63,197.55 156.96,189.79 161.39,182.58 166.93,175.93 173.59,170.39 180.79,166.51 189.1,164.29 197.42,162.07 205.73,159.86 213.49,157.64 221.25,152.65 221.56,152.99 227.1,146.34 231.54,138.8 234.86,131.04 237.97,122.73 240.4,114.41 242.62,106.65 244.28,101.11" stroke="#ff0000" stroke-width="3.3" stroke-dasharray="3.3 5.4"/></g><rect x="94.5" y="106.6" width="265.3" height="130.5" fill="none" stroke="#000" stroke-width="1.4"/><path d="M94.5 106.6v-5.6M160.82 106.6v-5.6M227.15 106.6v-5.6M293.48 106.6v-5.6M359.8 106.6v-5.6M94.5 199.81h-5.6M94.5 181.17h-5.6M94.5 162.53h-5.6M94.5 143.89h-5.6M94.5 125.24h-5.6" stroke="#000" stroke-width="1.4"/><text transform="translate(94.5,92) scale(0.94,1)" font-family="'DejaVu Serif', serif" font-size="20.8" text-anchor="middle">1</text><text transform="translate(160.82,92) scale(0.94,1)" font-family="'DejaVu Serif', serif" font-size="20.8" text-anchor="middle">2</text><text transform="translate(227.15,92) scale(0.94,1)" font-family="'DejaVu Serif', serif" font-size="20.8" text-anchor="middle">3</text><text transform="translate(293.48,92) scale(0.94,1)" font-family="'DejaVu Serif', serif" font-size="20.8" text-anchor="middle">4</text><text transform="translate(359.8,92) scale(0.94,1)" font-family="'DejaVu Serif', serif" font-size="20.8" text-anchor="middle">5</text><text transform="translate(81.8,208.11) scale(0.94,1)" font-family="'DejaVu Serif', serif" font-size="20.8" text-anchor="end">0.8</text><text transform="translate(81.8,189.47) scale(0.94,1)" font-family="'DejaVu Serif', serif" font-size="20.8" text-anchor="end">1.2</text><text transform="translate(81.8,170.83) scale(0.94,1)" font-family="'DejaVu Serif', serif" font-size="20.8" text-anchor="end">1.6</text><text transform="translate(81.8,152.19) scale(0.94,1)" font-family="'DejaVu Serif', serif" font-size="20.8" text-anchor="end">2.0</text><text transform="translate(81.8,133.54) scale(0.94,1)" font-family="'DejaVu Serif', serif" font-size="20.8" text-anchor="end">2.4</text><text transform="translate(37.0,174.5) rotate(-90)" font-family="'DejaVu Serif', serif" font-size="29" text-anchor="middle">g(r)</text><g clip-path="url(#cm10)"><path d="M119.7 509.3L122.4 509.3L125 509.3L127.7 509.3L130.3 509.3L133 509.3L135.6 509.3L138.3 509.3L140.9 509.3L143.6 509.3L146.2 509.3L148.9 509.3L151.5 509.3L154.2 509.3L156.8 509.3L159.5 509.3L162.2 509.3L164.8 509.3L167.5 509.3L170.1 509.3L172.8 509.3L175.4 509.3L178.1 509.3L178.5 509.3L180.7 508.1L182.1 506.6L183.4 504.5L183.8 503.9L183.4 502L183.2 501.3L182.6 498.6L182.2 495.9L180.7 494.5L178.1 493.7L177.9 493.3L178.1 492.7L179.9 490.6L180.7 487.9L180.7 487.9L180.7 487.9L178.6 485.3L180.7 482.8L180.9 482.6L181.3 479.9L183.4 478L184.2 477.3L183.4 475.7L183.1 474.6L182.7 471.9L182.5 469.3L181.9 466.6L180.7 465.3L179 463.9L179.1 461.3L178.1 460L177.5 458.6L178.1 458L179.8 455.9L180.7 453.8L181.1 453.3L181.8 450.6L183.4 448.4L183.6 447.9L183.4 447.7L180.7 446.6L180.2 445.3L178.1 442.9L177.4 442.6L175.4 440.9L174.2 439.9L173.9 437.3L174.4 434.6L173.1 431.9L172.8 431.5L170.2 429.3L170.1 426.6L170.1 426.6L167.5 425L166.4 423.9L167.5 421.9L167.7 421.3L167.5 420L164.8 421.2L162.2 420.8L159.5 421.1L159.3 421.3L156.8 422.3L154.4 423.9L155.3 426.6L154.2 428.1L152.5 429.3L151.5 429.6L150.2 431.9L150 434.6L148.9 436.4L147.6 437.3L146.2 438.3L144.6 439.9L143.6 441.1L142.6 442.6L141.9 445.3L140.9 446.3L140.1 447.9L138.3 449.4L137 450.6L136.3 453.3L135.9 455.9L135.6 456.2L133.8 458.6L133.5 461.3L133.6 463.9L133 465.1L131.7 466.6L131 469.3L130.3 471L129.8 471.9L128.6 474.6L127.7 477.3L127.7 477.5L126.2 479.9L125.6 482.6L125.1 485.3L125 486.4L124.7 487.9L124.2 490.6L123.3 493.3L122.8 495.9L122.4 498.6L122.4 498.6L120.4 501.3L120.4 503.9L119.8 506.6L119.7 507.3L118.8 509.3ZM177.9 506.6L178.1 506.1L178.4 506.6L178.1 507.9ZM337.2 506.9L339.9 507.4L340.8 506.6L339.9 505.5L337.2 506.3L336.6 506.6ZM353.2 507.4L353.7 506.6L355.8 505.1L357.6 503.9L357.4 501.3L355.8 500.6L354 498.6L353.2 497L352.9 495.9L353.2 495.2L355.8 493.3L355.8 493.2L357.2 490.6L356.3 487.9L358.1 485.3L358.5 483.2L358.5 482.6L358.5 482L358.1 479.9L358.5 479.4L358.5 477.3L358.5 475.5L355.8 475.3L353.2 476.7L350.6 474.6L350.5 474.4L347.9 471.9L347.9 471.9L347.9 471.9L350.5 469.7L351.3 469.3L350.5 469L349 466.6L350.5 465.5L353.2 465.8L353.7 466.6L353.3 469.3L355.8 471.7L358.5 470.7L358.5 469.3L358.5 466.6L358.5 463.9L358.5 461.3L358.5 459.9L356.8 461.3L355.8 462.4L354.7 461.3L355.3 458.6L354.8 455.9L355.8 454.7L358.5 455.3L358.5 453.3L358.5 450.6L358.5 447.9L358.5 447.7L358.2 447.9L355.8 449.3L353.5 447.9L353.2 446.5L352.8 447.9L350.8 450.6L353.2 451.3L354.4 453.3L353.2 454.3L351.5 455.9L350.5 456.3L348.4 458.6L347.9 459.2L345.2 460.1L342.7 458.6L342.6 458.4L342.3 458.6L341 461.3L340 463.9L342.6 465.8L343.7 466.6L342.6 467.5L340.8 469.3L339.9 470.6L337.2 471.1L334.6 470.3L331.9 471.3L331.5 471.9L330.3 474.6L330.6 477.3L330.4 479.9L331.6 482.6L330.2 485.3L329.3 486.9L328.6 487.9L328.6 490.6L329.3 491.3L331.9 492.1L334.6 492.1L335.1 493.3L337 495.9L337.2 496.4L339.9 497.4L340.5 495.9L342.4 493.3L342.1 490.6L342.6 490.4L345.2 490.4L345.3 490.6L345.2 490.7L342.9 493.3L344.4 495.9L344.5 498.6L342.6 501L341.7 501.3L342.6 501.5L345.2 503.5L347.3 503.9L347.9 504.1L350.5 505.7L351.9 506.6ZM346.8 501.3L347.9 499.4L349.3 501.3L347.9 503.8ZM350.4 490.6L347.9 488.7L346.7 487.9L346 485.3L347.2 482.6L345.2 480.1L344.8 479.9L345.2 479.6L347.9 477.8L349 479.9L349.5 482.6L350.5 483.6L352 485.3L353.2 486.6L355.3 487.9L353.2 489.2L350.7 490.6L350.5 490.7ZM334.3 487.9L334.6 487.5L335.7 487.9L334.6 488.4ZM336.2 485.3L337.2 484.6L339.9 484.4L340.4 485.3L339.9 487.7L337.2 487.2ZM336.6 477.3L337.2 474.6L338.3 477.3L337.2 478.3ZM341.5 474.6L342.6 473L343.1 474.6L342.6 475.1ZM331.9 499.4L334.6 499.2L335.7 498.6L334.6 497.8L331.9 498.1L331.5 498.6ZM321.3 488.5L324 488.3L324.3 487.9L324 487.6L321.3 487.1L319.3 487.9ZM313.4 485.6L316 487.1L317.2 485.3L316 483.3L313.4 483.2L313 485.3ZM324 477.7L324.4 477.3L324 476.6L323.4 477.3ZM186 472.1L186.1 471.9L186 471.7L185.9 471.9ZM324 467L324.5 466.6L324 465.4L323.5 466.6ZM326.6 465L329.3 464.5L331.9 464.6L334.6 464.2L334.8 463.9L334.6 461.3L337.2 458.7L337.5 458.6L337.2 458.4L334.6 457.2L331.9 457.8L331.8 458.6L331.5 461.3L329.3 463.3L326.6 462.6L324.7 463.9ZM321.3 461.7L321.6 461.3L321.4 458.6L321.3 458.5L321.1 458.6L320.1 461.3ZM329.3 453.7L331.9 455.3L334.6 454.7L336 453.3L337.2 452L338.4 450.6L339 447.9L337.2 447.2L336.5 447.9L335.4 450.6L334.6 451.4L331.9 452.8L329.3 452.9L329 453.3ZM342.6 455L345.2 454.8L347.9 454.8L349.7 453.3L350.5 450.6L348.7 447.9L347.9 446.8L346.6 447.9L345.2 448.4L344.5 447.9L342.6 446.5L340.3 447.9L340.3 450.6L341.2 453.3ZM324 448.2L324.6 447.9L324 446L323.8 447.9ZM305.4 445.4L308.1 445.5L308.3 445.3L308.1 445L305.4 445.1L305.3 445.3ZM316 446.7L318.2 445.3L316 444.5L315.1 445.3ZM302.8 443L303.4 442.6L304.1 439.9L302.8 438.2L300.1 439.2L299.6 439.9L300.1 442.1L300.6 442.6ZM326.6 443.5L327.3 442.6L326.6 442L325.4 442.6ZM347.9 444.8L350.5 442.8L350.9 442.6L350.5 442.2L348.4 439.9L347.9 439.7L347.3 439.9L345.4 442.6ZM337.2 440.5L339.3 439.9L337.2 439.4L336.8 439.9ZM286.8 437.9L289.5 438.5L291.6 437.3L291.9 434.6L290.8 431.9L292.1 430.8L294.8 431.6L297.4 431.9L296.4 434.6L297.5 435.3L300.1 434.9L300.4 434.6L300.1 433.6L297.5 431.9L299.5 429.3L297.5 427.4L297.1 426.6L295.9 423.9L296.1 421.3L296.1 418.6L295.1 415.9L294.8 415.7L292.1 413.8L289.5 413.3L287.1 415.9L288 418.6L289.5 420.7L290 421.3L289.5 421.8L287 423.9L286.8 424.1L284.7 426.6L284.2 426.8L282 429.3L282.1 431.9L284.2 433.3L286.8 432.2L287.6 434.6L286.8 435.9L286 437.3ZM326.6 438.2L327.8 437.3L326.6 436.1L325.2 437.3ZM305.4 424.2L305.6 423.9L305.4 423.7L305.1 423.9ZM302.8 417.4L304.3 415.9L304.6 413.3L303.2 410.6L302.8 409.3L302.1 410.6L301.1 413.3L301.5 415.9ZM286.8 411.4L287.3 410.6L286.8 410.1L285.4 410.6ZM294.8 411.2L297.5 412.1L298.4 410.6L297.5 409.5L294.8 409.2L294 410.6ZM284.2 406.3L285.4 405.3L284.5 402.6L284.2 402.2L283.9 402.6L283.2 405.3ZM302.8 405.5L302.8 405.3L302.8 402.6L302.8 402.6L302.7 402.6L302.7 405.3Z" fill="#ffffcd"/><path d="M125 509.3L127.7 509.3L130.3 509.3L133 509.3L135.6 509.3L138.3 509.3L140.9 509.3L143.6 509.3L146.2 509.3L148.9 509.3L151.5 509.3L154.2 509.3L156.8 509.3L159.5 509.3L162.2 509.3L164.8 509.3L167.1 509.3L167.5 508.7L169 506.6L170 503.9L170 501.3L169.8 498.6L169.5 495.9L167.5 494L167.3 493.3L167.5 491.7L168.4 490.6L169.6 487.9L170.1 487.8L170.5 487.9L172.8 489.7L173.6 487.9L174.5 485.3L174.9 482.6L173.2 479.9L173.2 477.3L173.7 474.6L172.8 473.2L172.1 471.9L170.1 469.5L169.8 469.3L170.1 467.9L170.5 466.6L170.1 466.1L167.5 465.1L166.9 463.9L166.9 461.3L164.8 458.6L164.7 458.6L164.8 458.5L165.6 455.9L167.5 453.5L167.6 453.3L167.5 452.9L166 450.6L164.8 449.8L163.3 447.9L162.2 446.5L159.5 446.1L158.9 445.3L159.5 444.4L162.2 443.8L163.4 442.6L164.8 440.2L165.2 439.9L164.8 439.8L162.2 438.4L159.5 438L157.2 439.9L156.8 440.1L154.2 440.3L151.5 441.7L150.6 442.6L148.9 445.3L148.9 445.3L147.6 447.9L146.9 450.6L146.2 451.5L145 453.3L143.9 455.9L144.2 458.6L143.6 460.7L140.9 461.2L138.3 460.1L137.4 461.3L137 463.9L136.5 466.6L135.9 469.3L135.6 470L134.7 471.9L133.8 474.6L133 477.2L132.9 477.3L131.7 479.9L130.6 482.6L130.3 483.3L129.8 485.3L128.5 487.9L129.3 490.6L128.1 493.3L127.8 495.9L127.7 496.5L126.3 498.6L125 500.1L124.3 501.3L123.9 503.9L122.8 506.6L122.8 509.3ZM172.8 499.1L172.9 498.6L173.5 495.9L172.8 494.3L170.9 495.9L172.2 498.6ZM140.9 456.3L141.5 455.9L140.9 455.8L140.8 455.9Z" fill="#ffff5c"/><path d="M125 509.3L127.7 509.3L130.3 509.3L133 509.3L135.6 509.3L138.3 509.3L140.9 509.3L143.6 509.3L146.2 509.3L148.9 509.3L151.5 509.3L154.2 509.3L156.8 509.3L159.5 509.3L161.6 509.3L162.2 508.9L164.8 508.7L166.5 506.6L167.5 504.3L167.7 503.9L167.5 503.2L166.1 503.9L164.8 504.1L164.3 503.9L163.2 501.3L162.5 498.6L164.8 496.8L165.6 495.9L165.5 493.3L165.5 490.6L164.8 489.2L164.2 487.9L164.8 487.1L167.5 486.3L170.1 485.5L170.8 485.3L172.6 482.6L170.1 480.7L169.5 479.9L167.5 477.7L164.8 478.5L162.2 477.3L162 477.3L159.8 474.6L162.2 473.4L164.8 473.7L166.5 474.6L167.5 476.3L170.1 475.2L170.8 474.6L170.1 473L169.6 471.9L167.5 470.2L167 469.3L166.7 466.6L165.4 463.9L164.8 461.7L162.2 462.4L159.5 461.5L159.2 461.3L157.6 458.6L159.5 456.9L162.2 456.5L162.8 455.9L163.1 453.3L162.8 450.6L162.2 449.8L159.5 450.4L157.2 447.9L156.8 447.5L155.6 445.3L154.2 443.5L152.1 445.3L151.5 445.7L149.8 447.9L149.6 450.6L148.9 452.5L148.3 453.3L146.5 455.9L146.4 458.6L146.2 459.6L145.5 461.3L143.6 463.1L142.5 463.9L142 466.6L140.9 467.2L138.3 469.1L138.2 469.3L136.8 471.9L136.3 474.6L135.6 475.5L134.7 477.3L133.7 479.9L133.4 482.6L133.2 485.3L133 485.9L131.2 487.9L131 490.6L130.3 491.9L129.4 493.3L128.9 495.9L129.1 498.6L128.8 501.3L127.7 502.5L126.4 503.9L125 505.1L124.1 506.6L124.8 509.3ZM164.6 482.6L164.8 482.3L165.1 482.6L164.8 483ZM153.6 453.3L154.2 452.5L156.8 452.7L159.5 451.4L160.5 453.3L159.5 454.1L156.8 454L154.2 453.9Z" fill="#fffc03"/><path d="M127.7 507.3L128.1 509.3L130.3 509.3L133 509.3L135.6 509.3L138.3 509.3L140.9 509.3L143.6 509.3L146.2 509.3L148.9 509.3L151.5 509.3L154.2 509.3L156.8 509.3L158.5 509.3L158.8 506.6L159.5 505.3L159.7 503.9L161.4 501.3L160.5 498.6L162.2 495.9L162.2 495.9L162.2 495.8L161.5 493.3L162.2 493L163.3 490.6L162.2 488.5L161.9 487.9L162.2 487.7L164.2 485.3L163.1 482.6L164.1 479.9L162.2 478.8L159.5 477.8L159.1 477.3L157.9 474.6L159.5 473L161.2 471.9L162.2 471.4L164.5 471.9L164.8 472L165 471.9L165.5 469.3L165.3 466.6L164.8 465.6L162.2 464.5L161.8 463.9L159.5 462.6L157.7 461.3L156.8 460.1L155.8 458.6L154.2 456.2L153.9 455.9L151.5 453.3L149 455.9L148.9 456L147 458.6L146.8 461.3L146.2 462.2L144.5 463.9L143.7 466.6L143.6 466.8L140.9 468.4L139.7 469.3L138.4 471.9L138.5 474.6L138.3 475L136.4 477.3L135.6 478.4L134.8 479.9L134.3 482.6L134.7 485.3L133.3 487.9L133 488.9L132.1 490.6L130.5 493.3L130.3 494.8L130.1 495.9L130.3 496.8L130.7 498.6L130.8 501.3L130.3 502L128.4 503.9L127.7 505.9L126.7 506.6ZM164.8 506.7L164.9 506.6L164.8 506.5L163.6 506.6ZM151.5 452.8L151.9 450.6L154.2 449.2L154.9 447.9L154.2 446.7L151.5 447.9L151.5 447.9L151.4 450.6Z" fill="#ffec13"/><path d="M130.3 509.3L133 509.3L135.6 509.3L138.3 509.3L140.9 509.3L143.6 509.3L146.2 509.3L148.9 509.3L151.5 509.3L154.2 509.3L155.6 509.3L155.1 506.6L156.8 504L157 503.9L159.3 501.3L158.8 498.6L159.5 497.4L160.5 495.9L159.5 494.8L158.7 493.3L159.5 492.4L161.5 490.6L159.9 487.9L162.2 485.8L162.6 485.3L162.2 484.1L161.6 482.6L159.5 480L159.4 479.9L157.8 477.3L156.8 475.5L156.4 474.6L156.8 473.7L158.5 471.9L159.5 471.6L162.2 469.6L163 469.3L162.2 468.1L161.9 466.6L159.8 463.9L159.5 463.7L156.8 462.5L155.5 461.3L154.3 458.6L154.2 458.4L151.5 456L148.9 456.8L147.6 458.6L147.8 461.3L146.2 463.8L146.1 463.9L144.5 466.6L143.6 467.9L141.4 469.3L140.9 469.7L139.6 471.9L139.4 474.6L138.3 476.9L138 477.3L135.8 479.9L135.6 481.1L135.3 482.6L135.6 483.9L135.8 485.3L135.6 485.7L134 487.9L133 490.6L133 490.7L131.2 493.3L130.8 495.9L131.6 498.6L131.7 501.3L130.3 503.4L129.8 503.9L128.5 506.6L128.9 509.3ZM154.1 479.9L154.2 479.9L154.3 479.9L154.2 480ZM151.3 471.9L150.2 469.3L151.5 467.9L153.2 466.6L154.2 465L155.1 466.6L154.5 469.3L154.2 469.6L151.9 471.9L151.5 472.1Z" fill="#ffda25"/><path d="M130.3 509.3L133 509.3L135.6 509.3L138.3 509.3L140.9 509.3L143.6 509.3L146.2 509.3L148.9 509.3L151.5 509.3L153.8 509.3L154 506.6L154.2 506L156 503.9L156.8 502.4L157.9 501.3L157.4 498.6L159.2 495.9L157.7 493.3L159.5 491.2L160.2 490.6L159.5 489.5L158.6 487.9L159.5 487.3L161.5 485.3L160.2 482.6L159.5 481.7L156.8 480L154.2 481.4L152.7 479.9L154.2 479.3L156.6 477.3L155.2 474.6L155.4 471.9L154.2 471.5L153.8 471.9L151.5 473.1L150.3 471.9L148.9 469.5L146.2 470.2L144.2 469.3L143.6 469.1L143.2 469.3L140.9 471.6L140.7 471.9L140.2 474.6L138.9 477.3L138.3 477.9L136.5 479.9L136 482.6L136.3 485.3L135.6 486.6L134.7 487.9L133.6 490.6L133 491.6L131.8 493.3L131.3 495.9L132.4 498.6L132.7 501.3L130.7 503.9L130.3 505.2L129.6 506.6L129.7 509.3ZM156.8 471.1L159.5 470.7L161.3 469.3L160.8 466.6L159.5 465L156.8 466.4L156.8 466.6L156 469.3ZM146.2 468.4L148.9 469.1L151.5 466.6L150.9 463.9L150.4 461.3L151.5 461.2L153.3 458.6L151.5 456.9L148.9 457.6L148.2 458.6L148.9 461.3L147.3 463.9L146.2 465L145.3 466.6Z" fill="#ffc837"/><path d="M133 509.3L135.6 509.3L138.3 509.3L140.9 509.3L143.6 509.3L146.2 509.3L148.9 509.3L151.5 509.3L152.9 509.3L153.5 506.6L154.2 505L155.1 503.9L156.3 501.3L155.1 498.6L156.8 498L158.5 495.9L156.8 493.4L156.3 493.3L156.8 493.2L159.2 490.6L157.6 487.9L159.5 486.4L160.7 485.3L159.5 483.3L158.8 482.6L156.8 481.1L154.4 482.6L154.2 482.7L153.9 482.6L151.5 480.2L150.6 479.9L151.5 479.8L154.2 478.7L155.9 477.3L154.2 474.8L153.6 474.6L151.5 474.1L149.3 471.9L148.9 471.2L146.2 471.7L143.6 470.7L142.4 471.9L141.1 474.6L140.9 474.9L139.6 477.3L138.3 478.8L137.3 479.9L136.7 482.6L136.8 485.3L135.6 487.6L135.4 487.9L134.2 490.6L133 492.6L132.5 493.3L131.9 495.9L133 498.1L133.2 498.6L133.9 501.3L133 501.7L131.2 503.9L130.9 506.6L130.5 509.3ZM159.5 469.8L160.1 469.3L159.7 466.6L159.5 466.4L159.1 466.6L157.9 469.3ZM146.2 467L148.9 468.2L150.5 466.6L149.4 463.9L148.9 463.2L148.4 463.9L146.2 466.2L146 466.6ZM148.9 459.1L151.5 459.8L152.4 458.6L151.5 457.8L148.9 458.4L148.7 458.6Z" fill="#ffb649"/><path d="M133 509.3L135.6 509.3L138.3 509.3L140.9 509.3L143.6 509.3L146.2 509.3L148.9 509.3L151.5 509.3L152 509.3L153.1 506.6L154.2 503.9L154.2 503.7L154.7 501.3L154.2 500.5L153.8 498.6L154.2 497.7L156.8 497.1L157.8 495.9L156.8 494.5L154.2 494.1L154 493.3L154.2 492.3L156.8 492.5L158.6 490.6L156.8 488.2L156.3 487.9L156.8 487.7L159.5 485.6L159.8 485.3L159.5 484.7L157.3 482.6L156.8 482.2L156.2 482.6L154.2 483.4L151.8 482.6L151.5 482.3L148.9 480.4L148.6 479.9L148.5 477.3L148.9 476.9L149.2 477.3L151.5 479L154.2 478.1L155.2 477.3L154.2 475.8L151.5 475.1L151.1 474.6L148.9 472.5L146.2 472.3L143.6 472.3L141.9 474.6L140.9 476.3L140.4 477.3L138.3 479.6L138 479.9L137.4 482.6L137.3 485.3L136.4 487.9L135.6 488.7L134.8 490.6L133.5 493.3L133 493.8L132.5 495.9L133 497L133.9 498.6L135.3 501.3L133 502.4L131.7 503.9L132.5 506.6L131.5 509.3ZM148.9 467.2L149.5 466.6L148.9 465.2L147.6 466.6Z" fill="#ffa45b"/><path d="M133 509.3L135.6 509.3L138.3 509.3L140.9 509.3L143.6 509.3L146.2 509.3L148.9 509.3L151.3 509.3L151.5 508.9L152.7 506.6L153.8 503.9L153.7 501.3L153.3 498.6L154.2 496.3L156.8 496.2L157.1 495.9L156.8 495.6L154.2 495.6L153.6 493.3L154.2 490.6L156.8 491.9L158 490.6L156.8 489L154.6 487.9L156.8 486.9L158.9 485.3L156.8 483.2L154.2 484.1L151.5 483.6L150.9 482.6L148.9 481L148.3 479.9L147.3 477.3L148.9 475.8L150 474.6L148.9 473.5L146.2 472.8L143.6 473.4L142.7 474.6L142.7 477.3L140.9 478.1L139.5 479.9L138.3 481.6L138 482.6L137.8 485.3L137.7 487.9L135.6 490L135.3 490.6L135.6 492.8L135.7 493.3L135.6 493.4L133.1 495.9L134.6 498.6L135.6 500.3L136.6 501.3L135.6 501.5L133 503.1L132.3 503.9L133 505.6L133.1 506.6L133 508.3L132.5 509.3ZM151.5 478.2L154.2 477.5L154.5 477.3L154.2 476.9L151.5 476.1L150.3 477.3Z" fill="#ff926d"/><path d="M135.6 509.3L138.3 509.3L140.9 509.3L143.6 509.3L146.2 509.3L148.9 509.3L150.7 509.3L151.5 508.1L152.3 506.6L153.4 503.9L153 501.3L152.8 498.6L154 495.9L153.2 493.3L153.2 490.6L152.5 487.9L154.2 486.6L156.8 486.1L157.9 485.3L156.8 484.2L154.2 484.8L151.5 484.8L150.1 482.6L148.9 481.6L148 479.9L146.2 477.3L143.6 479.5L142.6 479.9L140.9 480.2L138.7 482.6L138.3 485.3L139.3 487.9L138.3 488.3L136 490.6L136.3 493.3L135.6 495L134.7 495.9L135.3 498.6L135.6 499.2L137.7 501.3L135.6 501.7L133 503.7L132.8 503.9L133 504.3L133.3 506.6L133.1 509.3ZM142.5 487.9L143.6 487.7L144.3 487.9L143.6 488.8ZM156.8 491.2L157.4 490.6L156.8 489.8L155.5 490.6ZM151.5 477.4L152.1 477.3L151.5 477.1L151.3 477.3ZM143.6 474.7L146.2 477.1L148.9 474.7L149 474.6L148.9 474.5L146.2 473.3L143.6 474.6L143.6 474.6Z" fill="#ff827d"/><path d="M135.6 509.3L138.3 509.3L140.9 509.3L143.6 509.3L146.2 509.3L148.9 509.3L150.2 509.3L151.5 507.3L151.9 506.6L153.1 503.9L152.3 501.3L152.3 498.6L153.7 495.9L152.8 493.3L152.3 490.6L151.5 489L149.2 487.9L148.9 487.7L148.7 485.3L148.9 483.8L149.3 482.6L148.9 482.2L147.7 479.9L146.2 477.8L144 479.9L143.6 480.2L140.9 480.9L139.4 482.6L138.9 485.3L140.9 487.9L143.6 487.4L145.6 487.9L143.6 490.1L140.9 488.1L138.3 489.1L136.7 490.6L136.9 493.3L135.7 495.9L135.8 498.6L138.3 501L138.5 501.3L138.3 501.5L135.6 502L133.2 503.9L133.5 506.6L133.3 509.3ZM145.3 495.9L146.2 495.2L146.7 495.9L146.2 496.6ZM156.8 485.4L157 485.3L156.8 485.1L156.1 485.3ZM146.2 476.2L148 474.6L146.2 473.8L144.5 474.6Z" fill="#ff708f"/><path d="M135.6 509.3L138.3 509.3L140.9 509.3L143.6 509.3L146.2 509.3L148.9 509.3L149.6 509.3L151.3 506.6L151.5 506.4L152.7 503.9L151.6 501.3L151.8 498.6L153.5 495.9L152.4 493.3L151.5 490.8L151.2 490.6L148.9 489L146.2 488.5L144.2 490.6L143.6 491.1L141.3 490.6L140.9 490.3L138.3 489.8L137.5 490.6L137.4 493.3L136.1 495.9L136.2 498.6L138.3 500.6L138.9 501.3L138.3 502L135.6 502.3L133.5 503.9L133.7 506.6L133.5 509.3ZM146.2 506.6L146.2 506.5L146.3 506.6L146.2 506.7ZM144.2 495.9L146.2 494.2L147.2 495.9L146.2 497.4ZM140.9 487.1L143.6 487.1L146.2 487.7L148.3 485.3L148.8 482.6L147.3 479.9L146.2 478.3L144.5 479.9L143.6 480.4L140.9 481.7L140.1 482.6L139.5 485.3ZM146.2 475.3L147 474.6L146.2 474.2L145.5 474.6Z" fill="#ff5ea1"/><path d="M135.6 509.3L138.3 509.3L140.9 509.3L143.6 509.3L146.2 509.3L148.9 509.3L149.1 509.3L150.3 506.6L151.5 505.6L152.3 503.9L151.5 502.1L149.9 501.3L150.7 498.6L151.5 498.4L153.2 495.9L152.1 493.3L151.5 491.9L149.6 490.6L148.9 490.1L146.2 489.5L145.2 490.6L143.6 491.8L140.9 491.1L138.5 490.6L138.3 490.5L138.2 490.6L138 493.3L136.4 495.9L136.7 498.6L138.3 500.2L139.3 501.3L138.3 502.5L135.6 502.6L133.9 503.9L133.9 506.6L133.7 509.3ZM145.6 506.6L146.2 505.5L147.4 506.6L146.2 507.8ZM143 495.9L143.6 495.5L146.2 493.3L147.7 495.9L146.2 498.2L143.6 496.2ZM140.9 486.4L143.6 486.7L146.2 487.4L148 485.3L148.7 482.6L147 479.9L146.2 478.8L145 479.9L143.6 480.7L140.9 482.5L140.9 482.6L140.1 485.3Z" fill="#fe4cb3"/><path d="M135.6 509.3L138.3 509.3L140.9 509.3L143.6 509.3L146.2 509.3L146.9 509.3L146.2 509L145 506.6L146.2 504.5L148.6 506.6L148.9 507.4L149.2 506.6L151.5 504.8L151.9 503.9L151.5 503L148.9 501.8L148.6 501.3L148.9 499.4L149.2 498.6L151.5 498L153 495.9L151.7 493.3L151.5 492.9L148.9 491.5L147.6 493.3L148.3 495.9L148.2 498.6L146.2 498.9L145.8 498.6L143.6 496.9L141.7 495.9L143.6 494.4L145 493.3L143.6 492.5L140.9 491.6L138.7 493.3L138.3 493.6L136.8 495.9L137.1 498.6L138.3 499.8L139.7 501.3L138.3 503L135.6 502.8L134.2 503.9L134.1 506.6L133.8 509.3ZM146.2 490.7L146.3 490.6L146.2 490.6L146.2 490.6ZM140.9 485.6L143.6 486.4L146.2 487L147.7 485.3L148.5 482.6L146.7 479.9L146.2 479.3L145.5 479.9L143.6 481L141.3 482.6L140.9 484.3L140.6 485.3Z" fill="#e23ac5"/><path d="M135.6 509.3L138.3 509.3L140.9 509.3L143.6 509.3L145.5 509.3L144.3 506.6L145.8 503.9L146.2 503.5L147.2 503.9L148.9 505.4L151.5 504L151.6 503.9L151.5 503.9L148.9 502.9L148 501.3L146.2 499.6L144.9 498.6L143.6 497.6L140.9 496.6L140.7 495.9L140.9 495.5L143.6 493.4L143.7 493.3L143.6 493.2L140.9 492.1L139.4 493.3L138.3 494.1L137.1 495.9L137.5 498.6L138.3 499.4L140.2 501.3L138.3 503.5L135.6 503.1L134.6 503.9L134.3 506.6L134 509.3ZM148.9 496.4L151.5 497.6L152.7 495.9L151.5 493.6L148.9 493.6L148.8 495.9ZM143.6 486.1L146.2 486.6L147.4 485.3L148.4 482.6L146.3 479.9L146.2 479.8L146.1 479.9L143.6 481.3L141.7 482.6L141.4 485.3Z" fill="#c628d7"/><path d="M135.6 509.3L138.3 509.3L140.9 509.3L143.6 509.3L144.4 509.3L143.7 506.6L144.9 503.9L146.2 502.7L147.3 501.3L146.2 500.2L144 498.6L143.6 498.3L140.9 498.5L140 495.9L138.3 494.7L137.5 495.9L137.9 498.6L138.3 499L140.6 501.3L138.5 503.9L138.3 504L138 503.9L135.6 503.4L134.9 503.9L134.5 506.6L134.2 509.3ZM151.5 497.2L152.4 495.9L151.5 494.1L149.4 495.9ZM140.9 494.5L142.4 493.3L140.9 492.7L140.1 493.3ZM143.6 485.7L146.2 486.3L147.1 485.3L148.2 482.6L146.2 480.1L143.6 481.6L142.1 482.6L142.3 485.3Z" fill="#ad18e7"/><path d="M135.6 509.3L138.3 509.3L140.9 509.3L143.5 509.3L143.3 506.6L143.6 504.9L144 503.9L146.2 501.8L146.7 501.3L146.2 500.8L143.6 498.8L141 501.3L140.9 501.5L139.6 503.9L138.3 504.3L136.9 503.9L135.6 503.6L135.3 503.9L134.7 506.6L134.4 509.3ZM138.3 498.4L139.2 495.9L138.3 495.2L137.8 495.9ZM151.5 496.9L152.2 495.9L151.5 494.6L150 495.9ZM140.9 493.4L141.1 493.3L140.9 493.2L140.9 493.3ZM143.6 485.4L146.2 485.9L146.8 485.3L148.1 482.6L146.2 480.3L143.6 481.9L142.5 482.6L143.3 485.3Z" fill="#9106f9"/><path d="M135.6 509.3L138.3 509.3L140.9 509.3L143.2 509.3L143 506.6L141.8 503.9L143.6 503.7L146.1 501.3L143.6 499.2L141.4 501.3L140.9 503.4L140.7 503.9L138.3 504.6L135.7 503.9L135.6 503.9L135.6 503.9L134.9 506.6L134.6 509.3ZM138.3 496.6L138.5 495.9L138.3 495.7L138.2 495.9ZM151.5 496.5L151.9 495.9L151.5 495.2L150.6 495.9ZM146.2 485.6L146.5 485.3L147.9 482.6L146.2 480.5L143.6 482.1L142.9 482.6L143.6 484.5L144.8 485.3Z" fill="#7400ff"/><path d="M135.6 509.3L138.3 509.3L140.9 509.3L142.8 509.3L142.6 506.6L140.9 504.3L138.3 504.9L135.6 504.7L135.2 506.6L134.8 509.3ZM143.6 503.3L145.6 501.3L143.6 499.5L141.8 501.3ZM151.5 496.1L151.7 495.9L151.5 495.7L151.2 495.9ZM143.6 483.3L146.2 485.2L147.7 482.6L146.2 480.7L143.6 482.4L143.3 482.6Z" fill="#5800ff"/><path d="M135.6 509.3L138.3 509.3L140.9 509.3L142.5 509.3L142.3 506.6L140.9 504.8L138.3 505.2L135.6 505.5L135.4 506.6L135 509.3ZM143.6 502.8L145.2 501.3L143.6 499.9L142.1 501.3ZM146.2 484.9L147.6 482.6L146.2 480.9L143.7 482.6Z" fill="#3c00ff"/><path d="M135.6 509.3L138.3 509.3L140.9 509.3L142.1 509.3L141.9 506.6L140.9 505.3L138.3 505.5L135.6 506.3L135.6 506.6L135.2 509.3ZM143.6 502.4L144.8 501.3L143.6 500.3L142.5 501.3ZM146.2 484.7L147.4 482.6L146.2 481.1L144 482.6Z" fill="#2300ff"/><path d="M135.6 509.3L138.3 509.3L140.9 509.3L141.8 509.3L141.6 506.6L140.9 505.7L138.3 505.7L136.1 506.6L135.6 507.6L135.4 509.3ZM143.6 502L144.3 501.3L143.6 500.6L142.9 501.3ZM146.2 484.4L147.3 482.6L146.2 481.3L144.3 482.6Z" fill="#0700ff"/><path d="M135.6 509.3L138.3 509.3L140.9 509.3L141.5 509.3L141.2 506.6L140.9 506.2L138.3 506L136.9 506.6L135.6 508.9L135.6 509.3ZM143.6 501.6L143.9 501.3L143.6 501L143.3 501.3ZM146.2 484.1L147.1 482.6L146.2 481.4L144.6 482.6Z" fill="#0000e4"/><path d="M138.3 509.3L140.9 509.3L141.1 509.3L140.9 507.4L140.4 506.6L138.3 506.3L137.6 506.6L136.5 509.3ZM146.2 483.9L147 482.6L146.2 481.6L144.9 482.6Z" fill="#0000c0"/><path d="M138.3 509.3L139.7 509.3L138.3 506.9L137.6 509.3ZM146.2 483.6L146.8 482.6L146.2 481.8L145.1 482.6Z" fill="#00009c"/><path d="M146.2 483.3L146.7 482.6L146.2 482L145.4 482.6Z" fill="#000078"/><path d="M146.2 483.1L146.5 482.6L146.2 482.2L145.7 482.6Z" fill="#000058"/><path d="M146.2 482.8L146.4 482.6L146.2 482.4L146 482.6Z" fill="#000034"/></g><path d="M160.82 243.9V510.6M227.15 243.9V510.6M293.48 243.9V510.6" stroke="#a8a8a8" stroke-opacity="0.62" stroke-width="1.15" fill="none"/><path d="M94.5 466.15H359.8M94.5 421.7H359.8M94.5 377.25H359.8M94.5 332.8H359.8M94.5 288.35H359.8" stroke="#a8a8a8" stroke-opacity="0.62" stroke-width="1.15" fill="none"/><g clip-path="url(#cm10)" stroke="#000" stroke-width="2.45" stroke-dasharray="9 3.9"><line x1="193.99" y1="243.9" x2="193.99" y2="510.6"/><line x1="94.5" y1="377.25" x2="359.8" y2="377.25" stroke-dashoffset="2.56"/></g><rect x="94.5" y="243.9" width="265.3" height="266.7" fill="none" stroke="#000" stroke-width="1.4"/><path d="M94.5 510.6v5.6M160.82 510.6v5.6M227.15 510.6v5.6M293.48 510.6v5.6M359.8 510.6v5.6M94.5 466.15h-5.6M94.5 421.7h-5.6M94.5 377.25h-5.6M94.5 332.8h-5.6M94.5 288.35h-5.6M94.5 243.9h-5.6" stroke="#000" stroke-width="1.4"/><text transform="translate(94.5,538.2) scale(0.94,1)" font-family="'DejaVu Serif', serif" font-size="20.8" text-anchor="middle">1</text><text transform="translate(160.82,538.2) scale(0.94,1)" font-family="'DejaVu Serif', serif" font-size="20.8" text-anchor="middle">2</text><text transform="translate(227.15,538.2) scale(0.94,1)" font-family="'DejaVu Serif', serif" font-size="20.8" text-anchor="middle">3</text><text transform="translate(293.48,538.2) scale(0.94,1)" font-family="'DejaVu Serif', serif" font-size="20.8" text-anchor="middle">4</text><text transform="translate(359.8,538.2) scale(0.94,1)" font-family="'DejaVu Serif', serif" font-size="20.8" text-anchor="middle">5</text><text transform="translate(81.8,474.45) scale(0.94,1)" font-family="'DejaVu Serif', serif" font-size="20.8" text-anchor="end">15</text><text transform="translate(81.8,430) scale(0.94,1)" font-family="'DejaVu Serif', serif" font-size="20.8" text-anchor="end">30</text><text transform="translate(81.8,385.55) scale(0.94,1)" font-family="'DejaVu Serif', serif" font-size="20.8" text-anchor="end">45</text><text transform="translate(81.8,341.1) scale(0.94,1)" font-family="'DejaVu Serif', serif" font-size="20.8" text-anchor="end">60</text><text transform="translate(81.8,296.65) scale(0.94,1)" font-family="'DejaVu Serif', serif" font-size="20.8" text-anchor="end">75</text><text transform="translate(81.8,252.2) scale(0.94,1)" font-family="'DejaVu Serif', serif" font-size="20.8" text-anchor="end">90</text><text x="227.5" y="575.5" font-family="'DejaVu Serif', serif" font-size="29" text-anchor="middle">distance (<tspan font-family="'DejaVu Sans', sans-serif" font-style="italic">Å</tspan>)</text><text transform="translate(44.6,523.3) rotate(-90)" font-family="'DejaVu Sans', sans-serif" font-size="24.5" textLength="295" lengthAdjust="spacingAndGlyphs">∠<tspan font-style="italic">C</tspan><tspan font-size="17" dy="4">2</tspan><tspan dy="-4"> = (</tspan><tspan font-style="italic">O</tspan><tspan font-size="17" dy="4">2</tspan><tspan dy="-4">)⋯(</tspan><tspan font-style="italic">D</tspan><tspan font-size="17" dy="4">2</tspan><tspan dy="-4">)</tspan><tspan font-style="italic">O</tspan><tspan font-family="'DejaVu Serif', serif" font-size="24.5"> (deg)</tspan></text><path d="M392.42 243.9V510.6M444.06 243.9V510.6" stroke="#a8a8a8" stroke-opacity="0.62" stroke-width="1.15" fill="none"/><path d="M366.6 466.15H495.7M366.6 421.7H495.7M366.6 377.25H495.7M366.6 332.8H495.7M366.6 288.35H495.7" stroke="#a8a8a8" stroke-opacity="0.62" stroke-width="1.15" fill="none"/><g clip-path="url(#cr10)"><polyline points="366.75,243.92 366.75,246.96 366.75,250 366.75,253.04 366.75,256.08 366.75,259.12 366.75,262.16 366.75,265.2 366.75,268.24 366.75,271.28 366.75,274.32 366.75,277.36 366.75,280.4 366.75,283.44 366.75,286.49 366.75,289.53 366.75,292.57 366.75,295.61 366.75,298.65 366.75,301.69 366.75,304.73 366.75,307.77 366.75,310.81 366.75,313.85 366.75,316.89 366.75,319.93 366.75,322.97 366.75,326.01 366.75,329.05 366.75,332.09 366.75,335.13 366.75,338.17 366.75,341.21 366.75,344.25 366.75,347.29 366.75,350.33 366.75,353.37 366.75,356.42 366.75,359.46 366.75,362.5 366.75,365.54 366.75,368.58 366.75,371.62 366.75,374.66 366.75,377.7 366.75,380.74 366.75,383.78 366.75,386.82 366.75,389.86 366.75,392.9 366.75,395.94 366.75,398.98 366.75,402.02 366.75,405.06 366.75,408.1 366.75,411.14 366.75,414.18 366.75,417.45 366.75,420.72 366.75,423.98 366.75,427.25 367.86,430.88 368.96,434.5 370.07,438.13 372.52,441.24 373.34,444.67 375.26,447.66 376.6,451.2 378.61,454.5 382.05,457.73 384.61,459.14 387.17,460.81 390.75,462.08 395.99,463.72 398.45,464.87 401.64,466.44 403.07,468.25 406,470.79 408.19,472.12 412.53,472.97 415.05,473.79 417.64,475.51 421.24,476.24 426.58,477.29 427.77,478.41 431.2,479.61 434.3,481.68 439.3,482.53 440.55,484.41 443.01,486.03 446.09,487.28 448.58,488.45 453.9,489.3 456,490.4 459.96,491.67 462.61,492.57 467.94,492.77 471.31,494.74 475.73,495.81 480.02,496.92 483.78,498.23 487.64,499.1 489.78,501.34 493.09,503.45 495.26,507.81 495.7,509.98" fill="none" stroke="#000" stroke-width="3.9" stroke-linejoin="round" stroke-dasharray="14.8 6.4"/></g><rect x="366.6" y="243.9" width="129.1" height="266.7" fill="none" stroke="#000" stroke-width="1.4"/><path d="M392.42 510.6v5.6M444.06 510.6v5.6M495.7 510.6v5.6M495.7 466.15h5.6M495.7 421.7h5.6M495.7 377.25h5.6M495.7 332.8h5.6M495.7 288.35h5.6M495.7 243.9h5.6" stroke="#000" stroke-width="1.4"/><text transform="translate(392.42,538.2) scale(0.94,1)" font-family="'DejaVu Serif', serif" font-size="20.8" text-anchor="middle">0.2</text><text transform="translate(444.06,538.2) scale(0.94,1)" font-family="'DejaVu Serif', serif" font-size="20.8" text-anchor="middle">0.6</text><text transform="translate(495.7,538.2) scale(0.94,1)" font-family="'DejaVu Serif', serif" font-size="20.8" text-anchor="middle">1.0</text><text transform="translate(507.4,474.25) scale(0.94,1)" font-family="'DejaVu Serif', serif" font-size="20.8" text-anchor="start">15</text><text transform="translate(507.4,429.8) scale(0.94,1)" font-family="'DejaVu Serif', serif" font-size="20.8" text-anchor="start">30</text><text transform="translate(507.4,385.35) scale(0.94,1)" font-family="'DejaVu Serif', serif" font-size="20.8" text-anchor="start">45</text><text transform="translate(507.4,340.9) scale(0.94,1)" font-family="'DejaVu Serif', serif" font-size="20.8" text-anchor="start">60</text><text transform="translate(507.4,296.45) scale(0.94,1)" font-family="'DejaVu Serif', serif" font-size="20.8" text-anchor="start">75</text><text transform="translate(507.4,252) scale(0.94,1)" font-family="'DejaVu Serif', serif" font-size="20.8" text-anchor="start">90</text><text x="431.4" y="581.2" font-family="'DejaVu Sans', sans-serif" font-size="29.5" text-anchor="middle"><tspan font-style="italic">g</tspan>(<tspan font-style="italic">θ</tspan>)</text><rect x="564.6" y="557.36" width="6.4" height="11.56" fill="#ffffcd"/><rect x="564.6" y="546.51" width="6.4" height="11.56" fill="#ffff5c"/><rect x="564.6" y="535.65" width="6.4" height="11.56" fill="#fffc03"/><rect x="564.6" y="524.8" width="6.4" height="11.56" fill="#ffec13"/><rect x="564.6" y="513.94" width="6.4" height="11.56" fill="#ffda25"/><rect x="564.6" y="503.08" width="6.4" height="11.56" fill="#ffc837"/><rect x="564.6" y="492.23" width="6.4" height="11.56" fill="#ffb649"/><rect x="564.6" y="481.37" width="6.4" height="11.56" fill="#ffa45b"/><rect x="564.6" y="470.52" width="6.4" height="11.56" fill="#ff926d"/><rect x="564.6" y="459.66" width="6.4" height="11.56" fill="#ff827d"/><rect x="564.6" y="448.81" width="6.4" height="11.56" fill="#ff708f"/><rect x="564.6" y="437.95" width="6.4" height="11.56" fill="#ff5ea1"/><rect x="564.6" y="427.09" width="6.4" height="11.56" fill="#fe4cb3"/><rect x="564.6" y="416.24" width="6.4" height="11.56" fill="#e23ac5"/><rect x="564.6" y="405.38" width="6.4" height="11.56" fill="#c628d7"/><rect x="564.6" y="394.53" width="6.4" height="11.56" fill="#ad18e7"/><rect x="564.6" y="383.67" width="6.4" height="11.56" fill="#9106f9"/><rect x="564.6" y="372.81" width="6.4" height="11.56" fill="#7400ff"/><rect x="564.6" y="361.96" width="6.4" height="11.56" fill="#5800ff"/><rect x="564.6" y="351.1" width="6.4" height="11.56" fill="#3c00ff"/><rect x="564.6" y="340.25" width="6.4" height="11.56" fill="#2300ff"/><rect x="564.6" y="329.39" width="6.4" height="11.56" fill="#0700ff"/><rect x="564.6" y="318.54" width="6.4" height="11.56" fill="#0000e4"/><rect x="564.6" y="307.68" width="6.4" height="11.56" fill="#0000c0"/><rect x="564.6" y="296.82" width="6.4" height="11.56" fill="#00009c"/><rect x="564.6" y="285.97" width="6.4" height="11.56" fill="#000078"/><rect x="564.6" y="275.11" width="6.4" height="11.56" fill="#000058"/><rect x="564.6" y="264.26" width="6.4" height="11.56" fill="#000034"/><rect x="564.6" y="253.4" width="6.4" height="11.56" fill="#000010"/><rect x="564.6" y="253.4" width="6.4" height="314.7" fill="none" stroke="#000" stroke-width="1.1"/><path d="M571 539.6h5.6M571 507.8h5.6M571 476h5.6M571 444.2h5.6M571 412.4h5.6M571 380.6h5.6M571 348.8h5.6M571 317h5.6M571 285.2h5.6M571 253.4h5.6" stroke="#000" stroke-width="1.4"/><text transform="translate(582.3,547.5) scale(0.94,1)" font-family="'DejaVu Serif', serif" font-size="20.8" text-anchor="start">0.1</text><text transform="translate(582.3,515.7) scale(0.94,1)" font-family="'DejaVu Serif', serif" font-size="20.8" text-anchor="start">0.2</text><text transform="translate(582.3,483.9) scale(0.94,1)" font-family="'DejaVu Serif', serif" font-size="20.8" text-anchor="start">0.3</text><text transform="translate(582.3,452.1) scale(0.94,1)" font-family="'DejaVu Serif', serif" font-size="20.8" text-anchor="start">0.4</text><text transform="translate(582.3,420.3) scale(0.94,1)" font-family="'DejaVu Serif', serif" font-size="20.8" text-anchor="start">0.5</text><text transform="translate(582.3,388.5) scale(0.94,1)" font-family="'DejaVu Serif', serif" font-size="20.8" text-anchor="start">0.6</text><text transform="translate(582.3,356.7) scale(0.94,1)" font-family="'DejaVu Serif', serif" font-size="20.8" text-anchor="start">0.7</text><text transform="translate(582.3,324.9) scale(0.94,1)" font-family="'DejaVu Serif', serif" font-size="20.8" text-anchor="start">0.8</text><text transform="translate(582.3,293.1) scale(0.94,1)" font-family="'DejaVu Serif', serif" font-size="20.8" text-anchor="start">0.9</text><text transform="translate(582.3,261.3) scale(0.94,1)" font-family="'DejaVu Serif', serif" font-size="20.8" text-anchor="start">1.0</text><text transform="translate(639.1,411.7) rotate(-90)" font-family="'DejaVu Serif', serif" font-size="24.7" text-anchor="middle">probability</text><text x="328.05" y="49.7" font-family="'Liberation Serif', serif" font-size="44" text-anchor="middle" textLength="158.1" lengthAdjust="spacingAndGlyphs">16–36 ps</text></g><g transform="translate(1407.1,0)"><clipPath id="ct20"><rect x="94.5" y="106.6" width="265.3" height="130.5"/></clipPath><clipPath id="cm20"><rect x="94.5" y="243.9" width="265.3" height="266.7"/></clipPath><clipPath id="cr20"><rect x="366.6" y="243.9" width="129.1" height="266.7"/></clipPath></g><g transform="translate(1407.1,0)"><path d="M160.82 106.6V237.1M227.15 106.6V237.1M293.48 106.6V237.1" stroke="#b0b0b0" stroke-opacity="0.55" stroke-width="1.15" fill="none"/><path d="M94.5 199.81H359.8M94.5 181.17H359.8M94.5 162.53H359.8M94.5 143.89H359.8M94.5 125.24H359.8" stroke="#b0b0b0" stroke-opacity="0.55" stroke-width="1.15" fill="none"/><g clip-path="url(#ct20)" fill="none" stroke-linejoin="round"><polyline points="94.78,236.12 124.15,235.9 127.48,231.91 130.8,225.26 134.13,219.71 135.79,210.85 137.46,201.98 139.67,190.89 141.34,179.81 143,166.51 144.66,155.42 146.32,150.44 147.99,149.33 150.2,152.1 152.42,157.64 154.64,166.51 157.41,175.38 160.18,184.24 162.95,192 165.17,201.98 167.38,210.85 170.71,215.28 175.14,220.82 179.58,226.37 184.01,230.8 188.45,233.57 192.88,234.68 197.31,235.46 201.75,234.68 206.18,234.13 210.61,233.57 215.05,231.91 219.48,228.58 223.92,223.59 220.9,228.59 224.23,224.16 227.55,220.28 231.99,216.95 236.42,213.07 239.75,209.75 243.07,206.42 247.51,208.08 251.94,211.41 255.27,213.07 258.04,216.4 260.81,215.84 264.13,218.06 267.46,219.17 271.89,217.51 276.33,215.29 279.65,215.84 282.43,214.74 287.41,216.95 291.85,213.63 295.17,211.41 299.61,210.86 304.04,208.64 307.37,209.19 309.59,210.3 312.91,209.75 316.24,208.64 320.67,211.96 325.1,209.75 329.54,208.64 333.97,207.53 338.41,207.53 341.73,206.42 346.17,205.31 350.05,200.88 353.93,203.1 358.92,205.31 362.24,205.87" stroke="#ff0000" stroke-width="4.0"/><polyline points="94.78,236.12 124.15,235.9 127.48,231.91 130.8,225.26 134.13,219.71 135.79,210.85 137.46,201.98 139.67,190.89 141.34,179.81 143,166.51 144.66,155.42 146.32,150.44 147.99,149.33 150.2,152.1 152.42,157.64 154.64,166.51 157.41,175.38 160.18,184.24 162.95,192 165.17,201.98 167.38,210.85 170.71,215.28 175.14,220.82 179.58,226.37 184.01,230.8 188.45,233.57 192.88,234.68 197.31,235.46 201.75,236.12 362.8,236.12" stroke="#000" stroke-width="4.0" stroke-dasharray="14.8 6.4"/><line x1="193.99" y1="144.67" x2="361.8" y2="144.67" stroke="#000" stroke-width="3.3" stroke-dasharray="3.3 5.4"/><polyline points="133.58,235.01 138.56,228.58 142.44,220.82 145.22,213.06 147.99,204.2 150.2,195.88 152.97,187.57 155.75,179.26 159.63,172.05 163.5,164.29 168.49,157.64 174.59,151.54 181.79,147.11 189.55,144.89 198.42,144.34 207.29,142.68 214.49,140.13 221.7,134.92 226.69,128.27 222.01,135.25 227,128.27 230.88,120.51 234.2,112.42 236.42,104.43 237.53,101.11" stroke="#ff0000" stroke-width="3.3" stroke-dasharray="3.3 5.4"/></g><rect x="94.5" y="106.6" width="265.3" height="130.5" fill="none" stroke="#000" stroke-width="1.4"/><path d="M94.5 106.6v-5.6M160.82 106.6v-5.6M227.15 106.6v-5.6M293.48 106.6v-5.6M359.8 106.6v-5.6M94.5 199.81h-5.6M94.5 181.17h-5.6M94.5 162.53h-5.6M94.5 143.89h-5.6M94.5 125.24h-5.6" stroke="#000" stroke-width="1.4"/><text transform="translate(94.5,92) scale(0.94,1)" font-family="'DejaVu Serif', serif" font-size="20.8" text-anchor="middle">1</text><text transform="translate(160.82,92) scale(0.94,1)" font-family="'DejaVu Serif', serif" font-size="20.8" text-anchor="middle">2</text><text transform="translate(227.15,92) scale(0.94,1)" font-family="'DejaVu Serif', serif" font-size="20.8" text-anchor="middle">3</text><text transform="translate(293.48,92) scale(0.94,1)" font-family="'DejaVu Serif', serif" font-size="20.8" text-anchor="middle">4</text><text transform="translate(359.8,92) scale(0.94,1)" font-family="'DejaVu Serif', serif" font-size="20.8" text-anchor="middle">5</text><text transform="translate(81.8,208.11) scale(0.94,1)" font-family="'DejaVu Serif', serif" font-size="20.8" text-anchor="end">0.8</text><text transform="translate(81.8,189.47) scale(0.94,1)" font-family="'DejaVu Serif', serif" font-size="20.8" text-anchor="end">1.2</text><text transform="translate(81.8,170.83) scale(0.94,1)" font-family="'DejaVu Serif', serif" font-size="20.8" text-anchor="end">1.6</text><text transform="translate(81.8,152.19) scale(0.94,1)" font-family="'DejaVu Serif', serif" font-size="20.8" text-anchor="end">2.0</text><text transform="translate(81.8,133.54) scale(0.94,1)" font-family="'DejaVu Serif', serif" font-size="20.8" text-anchor="end">2.4</text><text transform="translate(37.0,174.5) rotate(-90)" font-family="'DejaVu Serif', serif" font-size="29" text-anchor="middle">g(r)</text><g clip-path="url(#cm20)"><path d="M122.4 509.3L125 509.3L127.7 509.3L130.3 509.3L133 509.3L135.6 509.3L138.3 509.3L140.9 509.3L143.6 509.3L146.2 509.3L148.9 509.3L151.5 509.3L154.2 509.3L156.8 509.3L159.5 509.3L162.2 509.3L164.8 509.3L167.5 509.3L170.1 509.3L172.8 509.3L175.4 509.3L177.5 509.3L178.1 508.2L178.9 506.6L178.9 503.9L178.1 502.1L177.8 501.3L178.1 500.2L178.9 498.6L178.9 495.9L180.1 493.3L180.3 490.6L180 487.9L180.2 485.3L180.7 482.6L180.7 482.6L182.5 479.9L182.6 477.3L183.4 474.6L183 471.9L183.4 471.5L184.4 469.3L183.6 466.6L183.4 465.8L183.1 463.9L183.4 462.3L183.7 461.3L183.6 458.6L184.1 455.9L184.6 453.3L184.7 450.6L184.7 447.9L183.4 445.9L183.1 445.3L183.4 444.9L184.8 442.6L184.5 439.9L184.6 437.3L183.8 434.6L185.4 431.9L185 429.3L183.4 427.6L180.7 426.6L180.7 426.6L180.7 426.6L183.2 423.9L182.9 421.3L182.3 418.6L180.7 416.6L178.9 415.9L180.1 413.3L178.1 412.1L175.9 410.6L175.4 410.1L174 407.9L172.8 406.2L170.1 407.4L169.8 407.9L170.1 409.1L172.8 410.4L173.3 410.6L172.8 410.9L170.1 410.9L167.5 411.8L164.8 412.6L162.2 411.3L159.6 413.3L159.5 413.3L156.8 414.3L154.2 413.6L151.5 415.2L151.3 415.9L150.1 418.6L148.9 419.3L147 421.3L147 423.9L146.9 426.6L146.2 427.2L144 429.3L143.6 430.3L142.6 431.9L142.2 434.6L140.9 437L140.7 437.3L140.2 439.9L139.1 442.6L138.3 444.6L137.9 445.3L136.4 447.9L136.2 450.6L135.6 453.3L135.6 453.3L134.1 455.9L133.2 458.6L133 460.9L132.9 461.3L133 461.7L133.1 463.9L133 464.3L131.4 466.6L130.4 469.3L130.3 469.9L129.1 471.9L129.3 474.6L128.8 477.3L127.7 479.6L127.5 479.9L126.1 482.6L125.9 485.3L126.2 487.9L125.3 490.6L125 493.1L124.9 493.3L123.3 495.9L122.9 498.6L122.5 501.3L122.4 503.5L122.3 503.9L120.7 506.6L120.2 509.3ZM331.9 509.3L334.6 509.3L337.2 509.3L339.9 509.3L342.6 509.3L345.2 509.3L347.9 509.3L350.1 509.3L349 506.6L350.5 505.6L353.2 504.4L354.8 503.9L355.8 501.3L355.8 501.1L358.5 500.8L358.5 498.6L358.5 495.9L358.5 493.3L358.5 492.1L355.8 490.7L353.2 490.7L352.6 490.6L353.2 490.5L355.8 490.2L356.6 487.9L357.6 485.3L358.5 484L358.5 482.6L358.5 479.9L358.5 479.1L357.3 477.3L356.5 474.6L357.3 471.9L355.8 470.8L353.2 471.4L350.5 469.9L348.1 471.9L349.2 474.6L348.1 477.3L347.9 477.5L347.6 477.3L346.7 474.6L347.6 471.9L345.6 469.3L345.2 469.1L345 469.3L342.6 471.1L340.9 471.9L341.9 474.6L339.9 476.4L338.1 474.6L338.9 471.9L337.2 469.4L336.6 469.3L337.2 469.2L338.9 466.6L337.2 464.4L334.6 465.5L331.9 465.3L330 466.6L329.3 467.8L327.8 469.3L326.6 470L325.6 471.9L324.8 474.6L324 475.7L322.6 477.3L324 478.3L326.6 479L329.3 477.4L331.9 479L332.5 479.9L331.9 480.2L330.7 482.6L330.4 485.3L331.9 486.6L333.7 487.9L332.5 490.6L331.9 490.9L331.4 490.6L329.7 487.9L329.3 487.4L327.3 485.3L326.6 484.9L325.5 485.3L324 486.1L323 487.9L324 490.5L324 490.6L326.6 492.3L328.1 493.3L328.8 495.9L326.6 497.8L324 497.5L322 498.6L324 500.3L325.4 501.3L326.6 501.8L329.3 503.2L330 503.9L329.7 506.6L331.2 509.3ZM331.6 498.6L331.9 498.3L334.6 497.9L335.8 498.6L334.6 500L331.9 498.7ZM336.6 490.6L336 487.9L337 485.3L337.2 484.4L339.3 482.6L339.9 481.3L340.4 482.6L340.4 485.3L339.9 485.5L337.7 487.9L337.5 490.6L337.2 490.9ZM353 477.3L351.7 474.6L353.2 473.1L355 474.6L353.5 477.3L353.2 477.4ZM328.9 474.6L329.3 474.3L330 474.6L329.3 476.6ZM358.5 509.3L358.5 506.6L358.5 506.4L358.3 506.6L356 509.3ZM292.1 472.6L292.6 471.9L294 469.3L294.6 466.6L294.8 466.3L297.5 464.6L298 463.9L300.1 462.8L302.8 463L305.1 461.3L305.4 459.3L305.6 458.6L308.1 456.6L308.8 455.9L308.1 454.8L306.9 453.3L305.4 452.4L303.7 450.6L305.4 449.3L308.1 449.6L310.7 449.7L312.1 447.9L312.4 445.3L310.7 443.8L308.1 443.4L306.5 442.6L308.1 442L310.7 440.4L311.7 439.9L312.3 437.3L312.1 434.6L313.4 432.3L313.7 431.9L313.5 429.3L313.4 429.1L312 426.6L311.2 423.9L311.8 421.3L310.7 418.9L308.1 420.1L306.9 418.6L307.2 415.9L308.1 415.6L310.7 415.6L312 415.9L313.4 417.1L313.5 415.9L314.2 413.3L313.4 412.1L310.7 411.8L310.3 410.6L309.3 407.9L308.1 406.6L305.4 406.4L303.9 407.9L302.8 408.3L300.1 408.3L299.6 407.9L299.6 405.3L300.1 404.5L302.3 402.6L302.8 401.1L303.1 399.9L302.8 398.8L300.1 398.3L298.7 397.3L300.1 395.3L302.8 396.7L303.7 394.6L303.1 391.9L302.8 391.7L300.1 390.7L299.2 389.3L297.5 386.9L294.8 388.9L294.3 389.3L294.8 389.8L295.9 391.9L294.8 392.6L292.4 394.6L292.1 394.9L291.4 394.6L289.6 391.9L290.7 389.3L289.5 388.4L288.2 389.3L289 391.9L287.3 394.6L286.8 394.7L284.6 397.3L284.2 397.7L281.5 399.1L279.5 399.9L278.9 400.3L276.2 401.1L273.6 401.9L272.7 402.6L273.3 405.3L270.9 406.1L268.4 407.9L269.8 410.6L268.5 413.3L268.6 415.9L269.4 418.6L269.2 421.3L270.8 423.9L268.3 424.8L266.5 426.6L266.6 429.3L268.1 431.9L268.3 433.8L268.3 434.6L270.9 436.7L273.1 434.6L273.1 431.9L273.6 430.1L274.2 431.9L273.8 434.6L273.8 437.3L274.1 439.9L273.6 440.7L270.9 441.7L269.6 442.6L270 445.3L270.9 445.7L273.6 447.6L274.1 447.9L276.2 449.6L276.7 450.6L276.8 453.3L278.5 455.9L276.7 458.6L277.2 461.3L278 463.9L277.6 466.6L277.7 469.3L278.9 470.1L280.1 469.3L280 466.6L281.5 465L282.9 463.9L283.8 461.3L284.2 460.7L286.8 459.9L289.5 461L290.1 461.3L289.5 463.9L289.5 463.9L288.6 466.6L289.5 467.2L291.3 469.3L291.7 471.9ZM294.6 455.9L294.8 454.4L295.2 453.3L297.5 452.3L300.1 453L302.6 453.3L302.8 453.4L303 455.9L302.8 456.3L301.5 455.9L300.1 454.3L299.9 455.9L297.5 458L294.8 456.2ZM278.9 426.6L278.9 426.5L278.9 426.6L278.9 426.7ZM307.7 423.9L308.1 422.3L309.8 423.9L308.1 424.9ZM273.4 421.3L273.6 420.8L276.2 420.5L276.8 421.3L276.2 422.3L273.6 421.9ZM273 415.9L273.6 413.4L273.6 413.3L273.6 413.2L273 410.6L273.6 410.2L276.2 408.9L276.7 410.6L276.8 413.3L276.9 415.9L276.2 417.1L273.6 416.7ZM284.6 402.6L286.8 402L289.5 402.2L290.7 402.6L289.5 402.9L286.8 403.2ZM293.7 399.9L294.8 399.3L295.6 399.9L294.8 400.7ZM297.5 470.1L299.1 469.3L297.5 467.8L295.8 469.3ZM310.7 464.7L311.6 463.9L312 461.3L310.7 459.8L309.2 461.3L309.3 463.9ZM350.5 463.9L353.2 464L353.2 463.9L353.2 463.9L351.7 461.3L350.5 460.5L347.9 460.3L347.1 461.3L347.9 462.8L350.5 463.9ZM268.3 454L269 453.3L269 450.6L268.3 450L267 450.6L267.8 453.3ZM268.3 440.5L268.6 439.9L268.3 438.6L267.7 439.9ZM281.5 395.4L283 394.6L281.5 392.9L280.6 394.6Z" fill="#ffffcd"/><path d="M125 509.3L127.7 509.3L130.3 509.3L133 509.3L135.6 509.3L138.3 509.3L140.9 509.3L143.6 509.3L146.2 509.3L148.9 509.3L151.5 509.3L154.2 509.3L156.8 509.3L159.5 509.3L162.2 509.3L164.8 509.3L167.5 509.3L170.1 509.3L171 509.3L170.8 506.6L172.1 503.9L172.4 501.3L172.8 500.7L175 498.6L174.9 495.9L175.3 493.3L175.4 493.1L176.3 490.6L175.6 487.9L175.4 487.4L172.9 485.3L173.4 482.6L175.4 481.8L176.7 479.9L176.7 477.3L177 474.6L177.1 471.9L177.2 469.3L177.6 466.6L177.7 463.9L178.1 461.6L178.2 461.3L180.2 458.6L179.4 455.9L178.1 454.3L177.5 453.3L178.1 451.6L178.6 450.6L179.6 447.9L178.4 445.3L178.1 444.8L176.4 442.6L175.4 441L174.8 439.9L175.4 437.9L175.7 437.3L175.8 434.6L175.4 434.1L173.7 431.9L172.8 430.8L170.1 430.3L168.7 429.3L167.5 428.4L165.2 426.6L164.8 425.9L164 423.9L162.2 422.1L159.5 423.1L158.5 423.9L156.8 425.7L156.1 426.6L154.2 428.1L152.5 429.3L153 431.9L151.5 433.6L150.2 434.6L149.1 437.3L148.9 437.3L146.2 439.1L145.5 439.9L144.6 442.6L146 445.3L143.6 447L142.7 447.9L141.5 450.6L140.9 450.9L139.3 453.3L140 455.9L138.5 458.6L138.3 458.9L136.2 461.3L136.7 463.9L135.6 465.8L135.1 466.6L134.9 469.3L134.2 471.9L134.1 474.6L133.4 477.3L133 477.8L131.3 479.9L130.3 482.5L130.3 482.6L130.3 482.7L131 485.3L130.6 487.9L130.3 488.7L128.6 490.6L128.2 493.3L127.7 493.9L126.4 495.9L126.3 498.6L125.4 501.3L125.3 503.9L125 505.3L124.4 506.6L123.9 509.3ZM165.5 434.6L167.5 434.1L167.8 434.6L167.5 435.6ZM292.1 408L292.2 407.9L292.1 407.9L292.1 407.9Z" fill="#ffff5c"/><path d="M127.7 509.3L130.3 509.3L133 509.3L135.6 509.3L138.3 509.3L140.9 509.3L143.6 509.3L146.2 509.3L148.9 509.3L151.5 509.3L154.2 509.3L156.8 509.3L159.5 509.3L162.2 509.3L164.8 509.3L167.5 509.3L169 509.3L169.1 506.6L169.9 503.9L170.1 503.4L171.2 501.3L172.7 498.6L172.7 495.9L172.3 493.3L172.6 490.6L172.4 487.9L171.1 485.3L171.3 482.6L172.3 479.9L172.8 479.5L174.9 477.3L175.3 474.6L175.4 474.3L175.7 471.9L175.4 469.3L175.7 466.6L175.6 463.9L176.1 461.3L177.6 458.6L177.3 455.9L175.7 453.3L175.4 452.2L172.8 451.8L172 450.6L171 447.9L171.6 445.3L172.2 442.6L170.1 440.5L169.3 439.9L167.5 439.1L164.8 437.8L163.9 437.3L162.2 434.6L162.2 434.4L159.5 433.5L156.8 433.2L156 434.6L154.2 436.4L153.5 437.3L151.5 438.4L148.9 439.6L148.5 439.9L148.3 442.6L148.7 445.3L146.7 447.9L146.3 450.6L146.2 450.7L143.6 451.6L141.4 453.3L142 455.9L141.2 458.6L140.9 458.8L138.8 461.3L138.7 463.9L138.3 466.1L138.1 466.6L138.3 467.8L138.6 469.3L138.3 469.4L136.4 471.9L136 474.6L135.7 477.3L135.6 477.4L133.7 479.9L133.1 482.6L133 483.6L132.7 485.3L131.8 487.9L130.6 490.6L130.4 493.3L130.3 493.5L128.2 495.9L128.2 498.6L127.7 499.4L126.5 501.3L126.4 503.9L126 506.6L125.7 509.3Z" fill="#fffc03"/><path d="M127.7 509.3L130.3 509.3L133 509.3L135.6 509.3L138.3 509.3L140.9 509.3L143.6 509.3L146.2 509.3L148.9 509.3L151.5 509.3L154.2 509.3L156.8 509.3L159.5 509.3L162.2 509.3L164.8 509.3L167.5 509.3L167.7 509.3L167.9 506.6L168.6 503.9L170 501.3L170.1 501.1L171.9 498.6L171.8 495.9L171.5 493.3L171.8 490.6L171.2 487.9L170.1 486.1L168 485.3L169.9 482.6L170.1 481.7L170.7 479.9L172.8 478.1L173.5 477.3L172.8 475.4L172.4 474.6L171.3 471.9L171.3 469.3L172.6 466.6L171.8 463.9L172.8 463.2L174.5 461.3L175.4 459.5L176 458.6L175.9 455.9L175.4 455.2L172.8 454.2L172.1 453.3L170.2 450.6L170.1 450.4L168.6 447.9L169.6 445.3L168.8 442.6L167.5 441.6L166.2 439.9L164.8 439L162.2 437.8L160.6 437.3L159.5 436.7L158.9 437.3L159.5 439.8L159.5 439.9L159.5 440.2L159.1 442.6L156.8 443.4L154.2 443.7L151.5 443.6L151 445.3L148.9 446.9L148.1 447.9L147.2 450.6L146.8 453.3L146.4 455.9L146.2 456L145.5 455.9L143.6 454.4L143.4 455.9L142.9 458.6L140.9 460.3L140.1 461.3L140.2 463.9L140.1 466.6L140.9 468L141.3 469.3L140.9 469.9L138.3 471.5L138 471.9L136.8 474.6L136.5 477.3L135.7 479.9L135.6 480.1L134.2 482.6L133.7 485.3L133 487.9L133 487.9L131.5 490.6L131.5 493.3L130.3 495.4L129.9 495.9L129.4 498.6L127.7 501.2L127.6 501.3L127.6 503.9L127.2 506.6L126.9 509.3ZM151.5 450.6L151.5 450.5L151.6 450.6L151.5 450.7Z" fill="#ffec13"/><path d="M130.3 509.3L133 509.3L135.6 509.3L138.3 509.3L140.9 509.3L143.6 509.3L146.2 509.3L148.9 509.3L151.5 509.3L154.2 509.3L156.8 509.3L159.5 509.3L162.2 509.3L164.8 509.3L166.4 509.3L166.4 506.6L167.3 503.9L167.5 503.8L169.1 501.3L170.1 500L171.1 498.6L171 495.9L170.6 493.3L171.1 490.6L170.1 488.2L169.7 487.9L167.5 486.8L166.8 485.3L167.5 484.2L168.8 482.6L169.5 479.9L170.1 478.9L171.9 477.3L170.9 474.6L170.1 473.3L168.9 471.9L169.9 469.3L170.1 468.6L171 466.6L170.1 464.7L167.7 463.9L170.1 463.5L172.8 461.6L173.1 461.3L172.8 460.1L172.3 458.6L172.3 455.9L170.6 453.3L170.1 452.5L167.6 450.6L167.5 450.4L166.5 447.9L167.5 446.2L167.9 445.3L167.5 444.5L165.3 442.6L164.8 441.7L162.9 442.6L162.2 442.7L159.5 444L156.8 444.6L155.3 445.3L154.2 447.6L153.8 447.9L154.2 448.2L155 450.6L154.2 452.5L153.5 453.3L151.5 455L150.6 453.3L150.1 450.6L148.9 448.8L148.1 450.6L148 453.3L148.9 455.3L150.3 455.9L148.9 456.2L146.3 458.6L146.2 458.8L143.6 460.9L143.1 461.3L141.7 463.9L141.5 466.6L142.1 469.3L140.9 471.4L140.1 471.9L138.3 473.3L137.6 474.6L137.3 477.3L136.7 479.9L135.6 482L135.3 482.6L134.5 485.3L133.4 487.9L133 489.4L132.3 490.6L132.6 493.3L131 495.9L130.4 498.6L130.3 499.5L129.4 501.3L128.7 503.9L128.1 506.6L127.9 509.3ZM159.5 447.9L159.5 447.9L159.5 447.9L159.5 447.9Z" fill="#ffda25"/><path d="M130.3 509.3L133 509.3L135.6 509.3L138.3 509.3L140.9 509.3L143.6 509.3L146.2 509.3L148.9 509.3L151.5 509.3L154.2 509.3L156.8 509.3L159.5 509.3L162.2 509.3L164.8 509.3L165.2 509.3L164.8 507L164.8 506.6L164.7 503.9L164.8 503.9L167.5 502.4L168.2 501.3L170.1 498.9L170.3 498.6L170.1 496.3L167.5 497.2L166.8 495.9L167.5 494.8L168.5 493.3L170.1 491.5L170.3 490.6L170.1 490.2L167.5 489.1L167.1 487.9L166 485.3L167.5 482.9L167.8 482.6L168.4 479.9L169.8 477.3L169.4 474.6L167.5 472.5L167.1 471.9L167.5 471.4L168.8 469.3L169.4 466.6L167.5 465.1L166.6 463.9L167.2 461.3L167.5 460.7L169.3 461.3L170.1 461.5L170.5 461.3L170.5 458.6L170.1 458L167.5 457.1L166.9 455.9L167.5 453.3L167.5 453.3L167.5 453.3L165.8 450.6L164.8 448L164.7 447.9L164.8 447.6L165.4 445.3L164.8 444.7L162.2 444.9L160.8 445.3L161.2 447.9L160.1 450.6L159.5 451L156.8 451.1L155.7 453.3L154.2 454L152.3 455.9L151.5 456.8L148.9 457.5L147.7 458.6L147 461.3L146.2 461.8L143.6 463.4L143.2 463.9L142.5 466.6L143 469.3L141.4 471.9L140.9 472.5L138.5 474.6L138.3 475.9L138.1 477.3L137.7 479.9L136.1 482.6L135.6 484.4L135.4 485.3L133.8 487.9L133.1 490.6L133.4 493.3L133 494.3L132 495.9L130.8 498.6L130.5 501.3L130.3 502.7L129.9 503.9L128.9 506.6L128.4 509.3ZM153.2 463.9L154.2 463.6L156.8 463.6L157.2 463.9L156.8 464.1L154.2 464.3ZM162.1 463.9L162.2 463.9L162.2 463.9L162.2 464ZM156.8 449.5L157.3 447.9L156.8 447.2L156.4 447.9Z" fill="#ffc837"/><path d="M130.3 509.3L133 509.3L135.6 509.3L138.3 509.3L140.9 509.3L143.6 509.3L146.2 509.3L148.9 509.3L151.5 509.3L154.2 509.3L156.8 509.3L159.5 509.3L162.2 509.3L164.5 509.3L164.3 506.6L162.2 504.3L162 503.9L162 501.3L162.2 501L164.1 501.3L164.8 501.6L166 501.3L165.7 498.6L164.8 497.3L164.6 495.9L164.8 495.2L166.4 493.3L167 490.6L166.1 487.9L165.3 485.3L166.2 482.6L167.4 479.9L167.1 477.3L167.5 475.8L167.8 474.6L167.5 474.2L166.1 471.9L167.5 469.7L167.7 469.3L167.7 466.6L167.5 466.4L165.8 463.9L166.4 461.3L167.5 458.6L166.1 455.9L166.6 453.3L164.8 451L162.2 452.4L160.8 453.3L159.5 453.5L156.8 453.4L154.2 455L153.2 455.9L151.5 457.8L149.4 458.6L149.3 461.3L151.5 463.3L154.2 462.6L156.8 462.7L158.4 463.9L156.8 464.5L154.2 465.5L151.5 465.7L148.9 464.5L147.3 463.9L146.2 463.6L145.7 463.9L143.6 466.2L143.5 466.6L143.6 467.4L143.8 469.3L143.6 469.6L142.2 471.9L140.9 473.4L139.5 474.6L138.7 477.3L138.6 479.9L138.3 480.4L136.8 482.6L136 485.3L135.6 485.7L134.2 487.9L133.7 490.6L134 493.3L133.2 495.9L133 496L131.3 498.6L131 501.3L130.6 503.9L130.3 504.9L129.6 506.6L128.9 509.3ZM160.8 463.9L162.2 462.2L163.4 463.9L162.2 465.9ZM159 458.6L159.5 458.3L161.8 455.9L162.2 454.4L162.6 455.9L162.6 458.6L162.2 460.2L159.5 458.8Z" fill="#ffb649"/><path d="M130.3 509.3L133 509.3L135.6 509.3L138.3 509.3L140.9 509.3L143.6 509.3L146.2 509.3L148.9 509.3L151.5 509.3L154.2 509.3L156.8 509.3L159.5 509.3L162.2 509.3L164.1 509.3L163.7 506.6L162.2 504.8L161.9 503.9L161.7 501.3L162.2 500.5L164.4 498.6L164.1 495.9L164.8 493.4L164.9 493.3L166.2 490.6L165.1 487.9L164.8 486.6L164.6 485.3L164.6 482.6L164.8 482.1L166.2 479.9L165.6 477.3L166.5 474.6L165.1 471.9L166.8 469.3L166.5 466.6L164.9 463.9L165.6 461.3L166.9 458.6L165.4 455.9L165.7 453.3L164.8 452.1L163.3 453.3L163.8 455.9L163.1 458.6L162.9 461.3L164.6 463.9L163 466.6L162.2 467.8L161.9 466.6L159.5 463.9L156.8 465L154.2 466.6L154.2 466.6L151.5 467.5L149.5 466.6L148.9 466.2L146.2 464.7L144.4 466.6L144.5 469.3L143.6 470.8L142.9 471.9L140.9 474.3L140.6 474.6L139.2 477.3L139.3 479.9L138.3 481.5L137.5 482.6L136.6 485.3L135.6 486.4L134.7 487.9L134.2 490.6L134.6 493.3L135.6 495.5L135.8 495.9L135.6 496.3L133 496.6L131.7 498.6L131.5 501.3L131 503.9L130.3 506.6L130.3 506.6L129.5 509.3ZM151.5 461.9L154.2 461.7L156.8 461.7L159.5 463.9L161.7 461.3L159.5 459.5L156.8 459L154.2 460.2L151.5 459.6L150.8 461.3ZM154.2 456L156.8 458.5L159.5 457.1L160.6 455.9L159.5 454.8L156.8 453.9L154.2 455.9L154.2 455.9Z" fill="#ffa45b"/><path d="M130.3 509.3L133 509.3L135.6 509.3L138.3 509.3L140.9 509.3L143.6 509.3L146.2 509.3L148.9 509.3L151.5 509.3L154.2 509.3L156.8 509.3L159.5 509.3L162.2 509.3L163.6 509.3L163.2 506.6L162.2 505.4L161.7 503.9L161.4 501.3L162.2 500L163.8 498.6L163.7 495.9L164.2 493.3L164.8 491.6L165.3 490.6L164.8 489.4L163.5 487.9L164.1 485.3L164 482.6L164.8 480.2L165 479.9L164.8 479.2L164.3 477.3L164.8 475.7L165.2 474.6L164.8 473.8L163.5 471.9L164.8 470.9L165.9 469.3L165.4 466.6L164.8 465.6L164.2 466.6L162.4 469.3L162.2 469.7L162 469.3L161.6 466.6L159.5 464.3L156.8 465.5L155 466.6L154.2 468.2L151.5 468.7L148.9 467.4L147.7 466.6L146.2 465.6L145.3 466.6L145.3 469.3L143.7 471.9L143.6 472L141.4 474.6L140.9 475.1L139.6 477.3L140 479.9L138.3 482.6L138.3 482.6L137.1 485.3L135.6 487.1L135.1 487.9L134.8 490.6L135.2 493.3L135.6 494.3L136.3 495.9L135.6 497.6L133 497.2L132.1 498.6L131.9 501.3L131.4 503.9L130.7 506.6L130.3 508.3L130 509.3ZM151.3 474.6L151.5 472.6L151.7 474.6L151.5 474.7ZM159.5 462.7L160.8 461.3L159.5 460.3L157.6 461.3ZM164.8 461.2L166.3 458.6L164.8 456.1L163.6 458.6ZM156.8 458L159.4 455.9L156.8 454.4L154.8 455.9ZM164.8 453.7L164.8 453.3L164.8 453.2L164.8 453.3Z" fill="#ff926d"/><path d="M133 509.3L135.6 509.3L138.3 509.3L140.9 509.3L143.6 509.3L146.2 509.3L148.9 509.3L151.5 509.3L154.2 509.3L156.8 509.3L159.5 509.3L162.2 509.3L163.2 509.3L162.7 506.6L162.2 506L161.5 503.9L161.1 501.3L162.2 499.5L163.2 498.6L163.2 495.9L163.5 493.3L162.2 491.3L161.8 490.6L162 487.9L162.2 487.6L163.6 485.3L163.3 482.6L162.2 480.1L162 479.9L162.2 479.6L163.2 477.3L163.9 474.6L162.2 472.3L162 471.9L161.3 469.3L161.2 466.6L159.5 464.7L156.8 465.9L155.7 466.6L154.4 469.3L154.2 470L153 471.9L153 474.6L151.5 475.2L149.5 474.6L150.9 471.9L150.4 469.3L148.9 468.6L146.2 466.6L146.2 466.6L146.2 466.6L146 469.3L144.8 471.9L143.6 473L142.3 474.6L140.9 475.9L140.1 477.3L140.7 479.9L138.8 482.6L138.3 483.9L137.7 485.3L135.6 487.7L135.5 487.9L135.4 490.6L135.6 492.2L135.8 493.3L136.8 495.9L135.9 498.6L135.6 500.1L135.1 498.6L133 497.9L132.5 498.6L132.4 501.3L131.8 503.9L131.1 506.6L130.5 509.3ZM145.4 474.6L146.2 473.6L148.1 474.6L146.2 475.6ZM164.8 469.5L165 469.3L164.8 468.5L164.4 469.3ZM159.5 461.6L159.8 461.3L159.5 461.1L159.1 461.3ZM164.8 460.1L165.7 458.6L164.8 457.1L164.1 458.6ZM156.8 457.4L158.7 455.9L156.8 454.8L155.4 455.9Z" fill="#ff827d"/><path d="M133 509.3L135.6 509.3L138.3 509.3L140.9 509.3L143.6 509.3L146.2 509.3L148.9 509.3L151.5 509.3L154.2 509.3L156.8 509.3L159.5 509.3L162.2 509.3L162.8 509.3L162.2 506.6L162.2 506.5L161.3 503.9L160.8 501.3L162.2 499L162.6 498.6L162.8 495.9L162.8 493.3L162.2 492.2L161.3 490.6L161.6 487.9L162.2 486.8L163.1 485.3L162.7 482.6L162.2 481.5L160.9 479.9L161.9 477.3L162.2 476.5L162.6 474.6L162.2 474L161.3 471.9L160.5 469.3L160.8 466.6L159.5 465.1L156.8 466.4L156.5 466.6L155.1 469.3L154.3 471.9L154.2 474.6L154.2 474.7L151.5 475.7L148.9 475.1L146.2 476.9L144.3 474.6L143.6 474L143.1 474.6L140.9 476.7L140.6 477.3L140.9 478.5L141.6 479.9L140.9 480.4L139.3 482.6L138.3 485.3L138.3 485.3L136 487.9L136.3 490.6L136.5 493.3L137.3 495.9L137.1 498.6L136.1 501.3L135.6 501.8L133.7 501.3L133.2 498.6L133 498.5L132.9 498.6L132.8 501.3L132.2 503.9L131.6 506.6L130.9 509.3ZM146.2 472.2L148.9 473.9L150.1 471.9L148.9 469.7L146.2 471.2L146 471.9ZM164.8 459.1L165.1 458.6L164.8 458.2L164.6 458.6ZM156.8 456.8L157.9 455.9L156.8 455.3L156 455.9Z" fill="#ff708f"/><path d="M133 509.3L135.6 509.3L138.3 509.3L140.9 509.3L143.6 509.3L146.2 509.3L148.9 509.3L151.5 509.3L154.2 509.3L156.8 509.3L159.5 509.3L162.2 509.3L162.3 509.3L162.2 508.4L161.9 506.6L161.2 503.9L160.5 501.3L162.1 498.6L162.2 497.3L162.3 495.9L162.2 493.3L162.2 493.2L160.8 490.6L161.1 487.9L162.2 486L162.6 485.3L162.2 483.1L162 482.6L159.7 479.9L160 477.3L161.8 474.6L160.6 471.9L159.8 469.3L160.5 466.6L159.5 465.5L157.3 466.6L156.8 467.3L155.8 469.3L154.8 471.9L154.5 474.6L154.2 475.8L151.5 476.3L148.9 476L147.1 477.3L148.9 479.2L149.6 479.9L148.9 480.2L146.2 481.9L145.2 479.9L145.8 477.3L143.6 474.8L141.2 477.3L142.4 479.9L140.9 481.1L139.8 482.6L139.1 485.3L138.3 485.9L136.6 487.9L137.3 490.6L137.3 493.3L137.8 495.9L138.3 498.6L136.8 501.3L135.6 502.4L133 502.4L132.6 503.9L132 506.6L131.4 509.3ZM145.8 485.3L146.2 483.9L146.3 485.3L146.2 485.6ZM148.9 472.7L149.4 471.9L148.9 471L147.6 471.9ZM156.8 456.2L157.2 455.9L156.8 455.7L156.6 455.9Z" fill="#ff5ea1"/><path d="M133 509.3L135.6 509.3L138.3 509.3L140.9 509.3L143.6 509.3L146.2 509.3L148.9 509.3L151.5 509.3L154.2 509.3L156.8 509.3L159.5 509.3L161.9 509.3L161.6 506.6L161 503.9L160.2 501.3L161.8 498.6L161.9 495.9L161.3 493.3L160.3 490.6L160.7 487.9L162.1 485.3L161.5 482.6L159.5 480.4L158 479.9L158.7 477.3L159.5 476.7L161.2 474.6L159.9 471.9L159.5 470.7L158 469.3L156.8 468.7L156.5 469.3L155.3 471.9L154.7 474.6L154.2 476.9L151.5 476.8L148.9 476.8L148.3 477.3L148.9 477.9L150.9 479.9L148.9 480.7L146.7 482.6L146.7 485.3L146.2 486.5L144.5 485.3L144.8 482.6L144 479.9L145.2 477.3L143.6 475.5L141.8 477.3L143.3 479.9L140.9 481.7L140.3 482.6L139.9 485.3L138.3 486.6L137.1 487.9L138.3 490.5L138.4 490.6L138.3 491.1L138 493.3L138.3 495.8L138.3 495.9L138.7 498.6L138.3 499.7L137.4 501.3L135.6 503.1L133.1 503.9L133 504.1L132.4 506.6L131.8 509.3ZM159.5 468.5L160.1 466.6L159.5 465.9L158.1 466.6Z" fill="#fe4cb3"/><path d="M133 509.3L135.6 509.3L138.3 509.3L140.9 509.3L143.6 509.3L146.2 509.3L148.9 509.3L151.5 509.3L154.2 509.3L156.8 509.3L159.5 509.3L161.5 509.3L161.3 506.6L160.8 503.9L159.9 501.3L161.5 498.6L161.5 495.9L160.4 493.3L159.8 490.6L160.2 487.9L161.9 485.3L161 482.6L159.5 480.9L156.8 480.3L156.6 479.9L156.8 479L157.6 477.3L159.5 476L160.6 474.6L159.5 472.4L159.1 471.9L156.8 469.8L155.8 471.9L155 474.6L155.4 477.3L154.2 477.7L151.9 479.9L151.5 480.3L148.9 481.3L147.3 482.6L147 485.3L146.2 487.5L143.6 485.4L142.2 485.3L142.1 482.6L140.9 482.4L140.8 482.6L140.7 485.3L138.3 487.3L137.7 487.9L138.3 489.2L139.6 490.6L138.5 493.3L138.6 495.9L139.2 498.6L138.3 500.9L138.1 501.3L135.6 503.7L134.9 503.9L135.6 505.1L136.9 506.6L135.6 507.9L134.1 506.6L133 506L132.8 506.6L132.2 509.3ZM143.6 479.1L144.6 477.3L143.6 476.2L142.5 477.3ZM159.5 467.4L159.8 466.6L159.5 466.3L158.9 466.6Z" fill="#e23ac5"/><path d="M133 509.3L134.6 509.3L133 507.9L132.7 509.3ZM138.3 509.3L140.9 509.3L143.6 509.3L146.2 509.3L148.9 509.3L151.5 509.3L154.2 509.3L156.8 509.3L159.5 509.3L161 509.3L161 506.6L160.6 503.9L159.6 501.3L161.2 498.6L161.1 495.9L159.5 493.3L159.5 493L158 490.6L159.5 489.5L159.8 487.9L161.7 485.3L160.5 482.6L159.5 481.5L156.8 481.2L155.8 479.9L154.2 478.4L152.6 479.9L151.5 481.1L148.9 481.8L147.9 482.6L147.3 485.3L146.4 487.9L146.2 489.4L145.9 487.9L143.6 486L140.9 485.9L138.3 487.9L140.9 490.6L138.8 493.3L138.9 495.9L139.7 498.6L138.5 501.3L138.3 501.6L135.9 503.9L138.3 506.4L138.7 506.6L138.3 508.2L137.2 509.3ZM143.5 501.3L143.6 501.1L143.8 501.3L143.6 501.4ZM148.4 498.6L148.9 497.4L149.2 498.6L148.9 499.4ZM154 495.9L154.2 495L154.6 495.9L154.2 496.2ZM154 490.6L153.8 487.9L154.2 487.6L156.3 487.9L155.9 490.6L154.2 491.9ZM143.6 478L144 477.3L143.6 476.9L143.2 477.3ZM156.8 477.1L159.5 475.2L160 474.6L159.5 473.6L158.1 471.9L156.8 470.8L156.3 471.9L155.2 474.6Z" fill="#c628d7"/><path d="M140.9 509.3L143.6 509.3L146.2 509.3L148.9 509.3L151.5 509.3L154.2 509.3L156.8 509.3L159.5 509.3L160.6 509.3L160.7 506.6L160.5 503.9L159.5 501.6L159 501.3L159.5 500.9L161 498.6L160.8 495.9L159.5 493.8L158.6 493.3L156.8 491.3L154.5 493.3L155.5 495.9L154.2 496.7L153.5 495.9L154.1 493.3L153.6 490.6L153.3 487.9L154.2 487.3L156.8 487.6L159.5 487.8L161.5 485.3L160 482.6L159.5 482L156.8 482.2L155.1 479.9L154.2 479.1L153.4 479.9L151.5 481.8L148.9 482.3L148.5 482.6L147.6 485.3L146.9 487.9L146.5 490.6L146.2 490.7L145.9 490.6L145.3 487.9L143.6 486.5L140.9 486.8L139.4 487.9L140.9 489.5L141.5 490.6L140.9 491L139.2 493.3L139.2 495.9L140.1 498.6L138.8 501.3L138.3 502.1L136.4 503.9L138.3 505.9L139.6 506.6L140.5 509.3ZM143.1 501.3L143.6 500.7L144.3 501.3L143.6 502ZM147.9 498.6L148.9 496.1L149.5 498.6L148.9 500.3ZM156.8 476.7L159.4 474.6L157 471.9L156.8 471.7L156.7 471.9L155.5 474.6Z" fill="#ad18e7"/><path d="M140.9 507.7L141.1 509.3L143.6 509.3L146.2 509.3L148.9 509.3L151.5 509.3L154.2 509.3L156.8 509.3L159.5 509.3L160.1 509.3L160.4 506.6L160.3 503.9L159.5 502L158.3 501.3L159.5 500.5L160.7 498.6L160.4 495.9L159.5 494.5L157.7 493.3L156.8 492.3L155.7 493.3L156.5 495.9L154.2 497.3L153.1 495.9L153.9 493.3L153.2 490.6L152.9 487.9L154.2 486.9L156.8 487.1L159.5 487.6L161.3 485.3L159.5 482.6L159.5 482.6L159.3 482.6L156.8 482.9L156.1 482.6L154.3 479.9L154.2 479.8L154.1 479.9L151.5 482.6L151.5 482.6L148.9 482.9L148 485.3L147.3 487.9L147 490.6L146.2 490.9L145.3 490.6L144.6 487.9L143.6 487.1L140.9 487.7L140.6 487.9L140.9 488.3L142 490.6L140.9 491.5L139.6 493.3L139.5 495.9L140.6 498.6L139.2 501.3L138.3 502.5L136.9 503.9L138.3 505.4L140.4 506.6ZM142.7 501.3L143.6 500.2L144.8 501.3L143.6 502.5ZM147.3 498.6L148.2 495.9L148.9 495.8L149.4 495.9L149.9 498.6L148.9 501.1ZM156.8 476.3L158.9 474.6L156.8 472.3L155.7 474.6Z" fill="#9106f9"/><path d="M143.6 509.3L146.2 509.3L148.9 509.3L151.5 509.3L154.2 509.3L156.8 509.3L159.5 509.3L159.7 509.3L160.1 506.6L160.1 503.9L159.5 502.4L157.7 501.3L159.5 500L160.4 498.6L160 495.9L159.5 495.1L157.6 495.9L157 498.6L156.8 498.9L156.5 498.6L154.2 497.9L152.6 495.9L153.6 493.3L152.9 490.6L152.5 487.9L154.2 486.6L156.8 486.7L159.5 487.3L161.2 485.3L159.5 482.9L156.8 483.5L154.9 482.6L154.2 481.5L153.2 482.6L151.5 483.8L148.9 483.8L148.3 485.3L147.7 487.9L147.4 490.6L146.2 491.1L144.7 490.6L144 487.9L143.6 487.6L142.3 487.9L142.6 490.6L140.9 491.9L139.9 493.3L139.8 495.9L140.9 498.4L141.2 498.6L140.9 498.8L139.5 501.3L138.3 503L137.4 503.9L138.3 504.9L140.9 506.4L141 506.6L141.3 509.3ZM142.4 501.3L143.6 499.7L145.3 501.3L143.6 503ZM148.1 501.3L146.8 498.6L147.3 495.9L148.9 495.6L150.1 495.9L150.2 498.6L149.1 501.3L148.9 501.7ZM156.8 475.9L158.4 474.6L156.8 472.9L156 474.6Z" fill="#7400ff"/><path d="M143.6 509.3L146.2 509.3L148.9 509.3L151.5 509.3L154.2 509.3L156.8 509.3L159.3 509.3L159.5 508.2L159.8 506.6L159.9 503.9L159.5 502.9L157 501.3L156.8 500.7L154.7 498.6L154.2 498.4L152.2 495.9L153.4 493.3L152.5 490.6L152 487.9L154.2 486.3L156.8 486.3L159.5 487.1L161 485.3L159.5 483.1L156.8 484L154.2 482.9L151.5 485.1L148.9 484.6L148.6 485.3L148.1 487.9L147.9 490.6L146.2 491.3L144.1 490.6L143.6 488.8L143.1 490.6L140.9 492.4L140.3 493.3L140.1 495.9L140.9 497.8L142.1 498.6L143.6 499.3L145.8 501.3L143.6 503.6L142 501.3L140.9 499.4L139.9 501.3L138.3 503.5L137.8 503.9L138.3 504.4L140.9 506L141.2 506.6L141.5 509.3ZM147.1 501.3L146.2 498.6L146.5 495.9L148.9 495.4L150.7 495.9L150.5 498.6L149.3 501.3L148.9 502.2ZM159.5 499.6L160.1 498.6L159.7 495.9L159.5 495.7L158.9 495.9L157.7 498.6ZM156.8 475.5L158 474.6L156.8 473.4L156.3 474.6Z" fill="#5800ff"/><path d="M143.6 509.3L146.2 509.3L148.9 509.3L151.5 509.3L154.2 509.3L156.8 509.3L159 509.3L159.5 506.6L159.5 506.5L159.8 503.9L159.5 503.3L156.8 501.5L156.7 501.3L154.2 498.8L153.5 498.6L151.7 495.9L153.1 493.3L152.1 490.6L151.6 487.9L151.5 487.5L148.9 485.7L148.6 487.9L148.3 490.6L146.2 491.5L143.6 490.7L140.9 492.9L140.6 493.3L140.4 495.9L140.9 497.1L143.1 498.6L143.6 498.8L144.5 498.6L146 495.9L146.2 495.7L148.9 495.2L151.3 495.9L150.9 498.6L149.5 501.3L148.9 502.8L146.2 501.3L143.8 503.9L143.6 504L143.4 503.9L141.7 501.3L140.9 500L140.2 501.3L138.3 503.9L140.9 505.6L141.5 506.6L141.7 509.3ZM159.5 499.2L159.9 498.6L159.5 496.7L158.5 498.6ZM154.2 485.9L156.8 485.8L159.5 486.9L160.8 485.3L159.5 483.4L156.8 484.6L154.2 483.7L152.3 485.3ZM156.8 475.1L157.5 474.6L156.8 473.9L156.5 474.6Z" fill="#3c00ff"/><path d="M143.6 509.3L146.2 509.3L148.9 509.3L151.5 509.3L154.2 509.3L156.8 509.3L158.7 509.3L159.1 506.6L159.5 504.8L159.6 503.9L159.5 503.7L156.8 501.8L156.4 501.3L154.2 499L152.5 498.6L151.5 496.9L151.2 498.6L149.7 501.3L148.9 503.3L146.2 501.9L144.3 503.9L143.6 504.3L142.8 503.9L141.3 501.3L140.9 500.6L140.5 501.3L138.9 503.9L140.9 505.2L141.7 506.6L141.9 509.3ZM148.5 506.6L148.9 505.7L149.2 506.6L148.9 506.8ZM159.5 498.7L159.6 498.6L159.5 498.2L159.3 498.6ZM140.9 496.4L143.6 498.4L145.7 495.9L146.2 495.5L148.9 495L151.5 495.7L152.9 493.3L151.8 490.6L151.5 489.5L148.9 489.4L148.8 490.6L146.2 491.7L143.6 490.9L141 493.3L140.9 493.6L140.7 495.9ZM154.2 485.6L156.8 485.4L159.5 486.6L160.6 485.3L159.5 483.7L156.8 485.1L154.2 484.5L153.2 485.3ZM156.8 474.7L157 474.6L156.8 474.4L156.8 474.6Z" fill="#2300ff"/><path d="M143.6 509.3L146.2 509.3L148.9 509.3L151.5 509.3L154.2 509.3L156.8 509.3L158.4 509.3L158.7 506.6L159.3 503.9L156.8 502.1L156.2 501.3L154.2 499.3L151.6 498.6L151.5 498.6L151.5 498.6L149.9 501.3L148.9 503.8L146.2 502.4L144.8 503.9L143.6 504.6L142.2 503.9L141 501.3L140.9 501.2L140.9 501.3L139.6 503.9L140.9 504.8L141.9 506.6L142.1 509.3ZM147.9 506.6L148.9 504.2L149.7 506.6L148.9 507ZM143.6 498.1L145.4 495.9L146.2 495.2L148.9 494.7L151.5 495.2L152.6 493.3L151.5 490.8L148.9 490.9L146.2 491.9L143.6 491.2L141.3 493.3L141 495.9ZM154.2 485.3L154.3 485.3L154.2 485.2L154.2 485.3ZM159.5 486.4L160.4 485.3L159.5 484L157.2 485.3Z" fill="#0700ff"/><path d="M143.6 509.3L146.2 509.3L148.9 509.3L151.5 509.3L154.2 509.3L156.8 509.3L158.1 509.3L158.3 506.6L158.9 503.9L156.8 502.4L155.9 501.3L154.2 499.5L151.5 498.9L150.1 501.3L149.2 503.9L150.2 506.6L148.9 507.3L147.3 506.6L148.1 503.9L146.2 503L145.3 503.9L143.6 504.9L142.2 506.6L142.2 509.3ZM140.9 504.4L141.6 503.9L140.9 502.4L140.2 503.9ZM143.6 497.7L145.1 495.9L146.2 494.9L148.9 494.5L151.5 494.8L152.4 493.3L151.5 491.4L148.9 491.2L146.2 492.1L143.6 491.4L141.5 493.3L141.4 495.9ZM159.5 486.1L160.2 485.3L159.5 484.3L157.7 485.3Z" fill="#0000e4"/><path d="M143.6 509.3L146.2 509.3L148.9 509.3L151.5 509.3L154.2 509.3L156.8 509.3L157.8 509.3L157.9 506.6L158.5 503.9L156.8 502.7L155.7 501.3L154.2 499.8L151.5 499.3L150.3 501.3L149.5 503.9L150.8 506.6L148.9 507.6L146.7 506.6L147 503.9L146.2 503.5L145.9 503.9L143.6 505.2L142.4 506.6L142.4 509.3ZM140.9 504L141.1 503.9L140.9 503.7L140.8 503.9ZM143.6 497.4L144.8 495.9L146.2 494.6L148.9 494.3L151.5 494.3L152.1 493.3L151.5 491.9L148.9 491.5L146.2 492.3L143.6 491.7L141.8 493.3L141.9 495.9ZM159.5 485.9L160 485.3L159.5 484.5L158.2 485.3Z" fill="#0000c0"/><path d="M143.6 509.3L146.2 509.3L148.9 509.3L151.5 509.3L154.2 509.3L156.8 509.3L157.5 509.3L157.5 506.6L158.1 503.9L156.8 503L155.4 501.3L154.2 500L151.5 499.6L150.5 501.3L149.9 503.9L151.3 506.6L148.9 507.9L146.2 506.7L146.1 506.6L143.6 505.4L142.6 506.6L142.6 509.3ZM143.6 497L144.5 495.9L146.2 494.3L148.9 494.1L151.5 493.9L151.9 493.3L151.5 492.5L148.9 491.8L146.2 492.5L143.6 492L142.1 493.3L142.3 495.9ZM159.5 485.6L159.8 485.3L159.5 484.8L158.7 485.3Z" fill="#00009c"/><path d="M143.6 509.3L146.2 509.3L148.9 509.3L151.5 509.3L154.2 509.3L156.8 509.3L157.2 509.3L157.2 506.6L157.8 503.9L156.8 503.2L155.2 501.3L154.2 500.3L151.5 499.9L150.7 501.3L150.2 503.9L151.5 506.3L151.9 506.6L151.5 506.9L148.9 508.2L146.2 507.4L145.5 506.6L143.6 505.7L142.9 506.6L142.8 509.3ZM143.6 496.7L144.2 495.9L146.2 494L148.9 493.9L151.5 493.4L151.6 493.3L151.5 493.1L148.9 492.2L146.2 492.7L143.6 492.2L142.4 493.3L142.7 495.9ZM159.5 485.4L159.6 485.3L159.5 485.1L159.2 485.3Z" fill="#000078"/><path d="M143.6 509.3L146.2 509.3L148.9 509.3L151.5 509.3L154.2 509.3L156.8 509.3L156.9 509.3L156.8 507.6L156.7 506.6L156.8 506.2L157.4 503.9L156.8 503.5L154.9 501.3L154.2 500.5L151.5 500.3L150.9 501.3L150.6 503.9L151.5 505.6L152.4 506.6L151.5 507.5L148.9 508.4L146.2 508.1L144.9 506.6L143.6 506L143.1 506.6L143 509.3ZM143.6 496.3L143.9 495.9L146.2 493.8L148.9 493.7L151 493.3L148.9 492.5L146.2 492.9L143.6 492.5L142.7 493.3L143.1 495.9Z" fill="#000058"/><path d="M143.6 509.3L146.2 509.3L148.9 509.3L151.5 509.3L154.2 509.3L156.2 509.3L155.8 506.6L156.8 504.5L157 503.9L156.8 503.8L154.7 501.3L154.2 500.8L151.5 500.6L151.1 501.3L150.9 503.9L151.5 505L153 506.6L151.5 508.1L148.9 508.7L146.2 508.8L144.3 506.6L143.6 506.3L143.3 506.6L143.2 509.3ZM143.6 496L143.6 495.9L146.2 493.5L148.9 493.5L150.1 493.3L148.9 492.8L146.2 493.1L143.6 492.7L143 493.3L143.5 495.9Z" fill="#000034"/><path d="M143.6 509.3L145.6 509.3L143.7 506.6L143.6 506.6L143.5 506.6L143.4 509.3ZM148.9 509.3L151.5 509.3L154.2 509.3L155.2 509.3L155 506.6L155.7 503.9L154.4 501.3L154.2 501L151.5 500.9L151.3 501.3L151.3 503.9L151.5 504.4L153.6 506.6L151.5 508.7L148.9 509L146.8 509.3ZM143.6 494.7L145.7 493.3L143.6 493L143.3 493.3ZM148.9 493.3L149.2 493.3L148.9 493.1L147.3 493.3Z" fill="#000010"/></g><path d="M160.82 243.9V510.6M227.15 243.9V510.6M293.48 243.9V510.6" stroke="#a8a8a8" stroke-opacity="0.62" stroke-width="1.15" fill="none"/><path d="M94.5 466.15H359.8M94.5 421.7H359.8M94.5 377.25H359.8M94.5 332.8H359.8M94.5 288.35H359.8" stroke="#a8a8a8" stroke-opacity="0.62" stroke-width="1.15" fill="none"/><g clip-path="url(#cm20)" stroke="#000" stroke-width="2.45" stroke-dasharray="9 3.9"><line x1="193.99" y1="243.9" x2="193.99" y2="510.6"/><line x1="94.5" y1="377.25" x2="359.8" y2="377.25" stroke-dashoffset="2.56"/></g><rect x="94.5" y="243.9" width="265.3" height="266.7" fill="none" stroke="#000" stroke-width="1.4"/><path d="M94.5 510.6v5.6M160.82 510.6v5.6M227.15 510.6v5.6M293.48 510.6v5.6M359.8 510.6v5.6M94.5 466.15h-5.6M94.5 421.7h-5.6M94.5 377.25h-5.6M94.5 332.8h-5.6M94.5 288.35h-5.6M94.5 243.9h-5.6" stroke="#000" stroke-width="1.4"/><text transform="translate(94.5,538.2) scale(0.94,1)" font-family="'DejaVu Serif', serif" font-size="20.8" text-anchor="middle">1</text><text transform="translate(160.82,538.2) scale(0.94,1)" font-family="'DejaVu Serif', serif" font-size="20.8" text-anchor="middle">2</text><text transform="translate(227.15,538.2) scale(0.94,1)" font-family="'DejaVu Serif', serif" font-size="20.8" text-anchor="middle">3</text><text transform="translate(293.48,538.2) scale(0.94,1)" font-family="'DejaVu Serif', serif" font-size="20.8" text-anchor="middle">4</text><text transform="translate(359.8,538.2) scale(0.94,1)" font-family="'DejaVu Serif', serif" font-size="20.8" text-anchor="middle">5</text><text transform="translate(81.8,474.45) scale(0.94,1)" font-family="'DejaVu Serif', serif" font-size="20.8" text-anchor="end">15</text><text transform="translate(81.8,430) scale(0.94,1)" font-family="'DejaVu Serif', serif" font-size="20.8" text-anchor="end">30</text><text transform="translate(81.8,385.55) scale(0.94,1)" font-family="'DejaVu Serif', serif" font-size="20.8" text-anchor="end">45</text><text transform="translate(81.8,341.1) scale(0.94,1)" font-family="'DejaVu Serif', serif" font-size="20.8" text-anchor="end">60</text><text transform="translate(81.8,296.65) scale(0.94,1)" font-family="'DejaVu Serif', serif" font-size="20.8" text-anchor="end">75</text><text transform="translate(81.8,252.2) scale(0.94,1)" font-family="'DejaVu Serif', serif" font-size="20.8" text-anchor="end">90</text><text x="227.5" y="575.5" font-family="'DejaVu Serif', serif" font-size="29" text-anchor="middle">distance (<tspan font-family="'DejaVu Sans', sans-serif" font-style="italic">Å</tspan>)</text><text transform="translate(44.6,523.3) rotate(-90)" font-family="'DejaVu Sans', sans-serif" font-size="24.5" textLength="295" lengthAdjust="spacingAndGlyphs">∠<tspan font-style="italic">C</tspan><tspan font-size="17" dy="4">2</tspan><tspan dy="-4"> = (</tspan><tspan font-style="italic">O</tspan><tspan font-size="17" dy="4">2</tspan><tspan dy="-4">)⋯(</tspan><tspan font-style="italic">D</tspan><tspan font-size="17" dy="4">2</tspan><tspan dy="-4">)</tspan><tspan font-style="italic">O</tspan><tspan font-family="'DejaVu Serif', serif" font-size="24.5"> (deg)</tspan></text><path d="M392.42 243.9V510.6M444.06 243.9V510.6" stroke="#a8a8a8" stroke-opacity="0.62" stroke-width="1.15" fill="none"/><path d="M366.6 466.15H495.7M366.6 421.7H495.7M366.6 377.25H495.7M366.6 332.8H495.7M366.6 288.35H495.7" stroke="#a8a8a8" stroke-opacity="0.62" stroke-width="1.15" fill="none"/><g clip-path="url(#cr20)"><polyline points="366.75,243.92 366.75,246.94 366.75,249.95 366.75,252.97 366.75,255.99 366.75,259 366.75,262.02 366.75,265.03 366.75,268.05 366.75,271.07 366.75,274.08 366.75,277.1 366.75,280.12 366.75,283.13 366.75,286.15 366.75,289.17 366.75,292.18 366.75,295.2 366.75,298.22 366.75,301.23 366.75,304.25 366.75,307.27 366.75,310.28 366.75,313.3 366.75,316.32 366.75,319.33 366.75,322.35 366.75,325.37 366.75,328.38 366.75,331.4 366.75,334.42 366.75,337.43 366.75,340.45 366.75,343.47 366.75,346.48 366.75,349.5 366.75,352.51 366.75,355.53 366.75,358.55 366.75,361.56 366.75,364.58 366.75,367.6 366.75,370.61 366.75,373.63 366.75,376.65 366.75,379.66 366.75,382.68 366.75,385.7 366.75,388.71 366.75,391.73 366.75,394.75 366.75,397.76 366.75,400.78 366.75,403.8 366.75,406.81 366.75,409.83 366.75,413.46 366.75,417.09 366.75,420.72 369.18,423.98 371.61,427.25 374.88,431.6 376.4,435.96 376.04,439.56 378.06,443.05 377.05,446.84 376.88,449.6 380.32,453.37 384.93,455.94 386.85,457.73 389.87,459.48 392.02,461.22 395.56,462.08 399.78,462.95 401.17,464.45 404.27,465.35 407.03,467.07 409,468.25 412.98,469.7 416.7,470.97 420.52,471.45 424.27,473.42 426.04,474.06 428.1,475.63 432.31,476.39 434.75,478.41 436.84,479.66 438.92,480.38 443.46,481.68 446.26,482.97 450.1,484.65 452.17,486.03 455.42,487.43 459.04,487.35 463.06,488.21 464.92,489.91 468.17,491.15 471.76,492.57 474.76,492.63 479.17,493.28 481.56,493.65 483.2,495.28 488.09,496.92 490.21,499.79 494.63,501.28 491.36,504.54 487.03,505.47 484.83,506.72 481.63,507.35 476.66,507.14 476.02,508.17 471.76,507.81 468.61,507.95 464.39,508.01 463.32,509.1 457.84,509.09 454.35,508.9" fill="none" stroke="#000" stroke-width="3.9" stroke-linejoin="round" stroke-dasharray="14.8 6.4"/></g><rect x="366.6" y="243.9" width="129.1" height="266.7" fill="none" stroke="#000" stroke-width="1.4"/><path d="M392.42 510.6v5.6M444.06 510.6v5.6M495.7 510.6v5.6M495.7 466.15h5.6M495.7 421.7h5.6M495.7 377.25h5.6M495.7 332.8h5.6M495.7 288.35h5.6M495.7 243.9h5.6" stroke="#000" stroke-width="1.4"/><text transform="translate(392.42,538.2) scale(0.94,1)" font-family="'DejaVu Serif', serif" font-size="20.8" text-anchor="middle">0.2</text><text transform="translate(444.06,538.2) scale(0.94,1)" font-family="'DejaVu Serif', serif" font-size="20.8" text-anchor="middle">0.6</text><text transform="translate(495.7,538.2) scale(0.94,1)" font-family="'DejaVu Serif', serif" font-size="20.8" text-anchor="middle">1.0</text><text transform="translate(507.4,474.25) scale(0.94,1)" font-family="'DejaVu Serif', serif" font-size="20.8" text-anchor="start">15</text><text transform="translate(507.4,429.8) scale(0.94,1)" font-family="'DejaVu Serif', serif" font-size="20.8" text-anchor="start">30</text><text transform="translate(507.4,385.35) scale(0.94,1)" font-family="'DejaVu Serif', serif" font-size="20.8" text-anchor="start">45</text><text transform="translate(507.4,340.9) scale(0.94,1)" font-family="'DejaVu Serif', serif" font-size="20.8" text-anchor="start">60</text><text transform="translate(507.4,296.45) scale(0.94,1)" font-family="'DejaVu Serif', serif" font-size="20.8" text-anchor="start">75</text><text transform="translate(507.4,252) scale(0.94,1)" font-family="'DejaVu Serif', serif" font-size="20.8" text-anchor="start">90</text><text x="431.4" y="581.2" font-family="'DejaVu Sans', sans-serif" font-size="29.5" text-anchor="middle"><tspan font-style="italic">g</tspan>(<tspan font-style="italic">θ</tspan>)</text><rect x="564.6" y="557.36" width="6.4" height="11.56" fill="#ffffcd"/><rect x="564.6" y="546.51" width="6.4" height="11.56" fill="#ffff5c"/><rect x="564.6" y="535.65" width="6.4" height="11.56" fill="#fffc03"/><rect x="564.6" y="524.8" width="6.4" height="11.56" fill="#ffec13"/><rect x="564.6" y="513.94" width="6.4" height="11.56" fill="#ffda25"/><rect x="564.6" y="503.08" width="6.4" height="11.56" fill="#ffc837"/><rect x="564.6" y="492.23" width="6.4" height="11.56" fill="#ffb649"/><rect x="564.6" y="481.37" width="6.4" height="11.56" fill="#ffa45b"/><rect x="564.6" y="470.52" width="6.4" height="11.56" fill="#ff926d"/><rect x="564.6" y="459.66" width="6.4" height="11.56" fill="#ff827d"/><rect x="564.6" y="448.81" width="6.4" height="11.56" fill="#ff708f"/><rect x="564.6" y="437.95" width="6.4" height="11.56" fill="#ff5ea1"/><rect x="564.6" y="427.09" width="6.4" height="11.56" fill="#fe4cb3"/><rect x="564.6" y="416.24" width="6.4" height="11.56" fill="#e23ac5"/><rect x="564.6" y="405.38" width="6.4" height="11.56" fill="#c628d7"/><rect x="564.6" y="394.53" width="6.4" height="11.56" fill="#ad18e7"/><rect x="564.6" y="383.67" width="6.4" height="11.56" fill="#9106f9"/><rect x="564.6" y="372.81" width="6.4" height="11.56" fill="#7400ff"/><rect x="564.6" y="361.96" width="6.4" height="11.56" fill="#5800ff"/><rect x="564.6" y="351.1" width="6.4" height="11.56" fill="#3c00ff"/><rect x="564.6" y="340.25" width="6.4" height="11.56" fill="#2300ff"/><rect x="564.6" y="329.39" width="6.4" height="11.56" fill="#0700ff"/><rect x="564.6" y="318.54" width="6.4" height="11.56" fill="#0000e4"/><rect x="564.6" y="307.68" width="6.4" height="11.56" fill="#0000c0"/><rect x="564.6" y="296.82" width="6.4" height="11.56" fill="#00009c"/><rect x="564.6" y="285.97" width="6.4" height="11.56" fill="#000078"/><rect x="564.6" y="275.11" width="6.4" height="11.56" fill="#000058"/><rect x="564.6" y="264.26" width="6.4" height="11.56" fill="#000034"/><rect x="564.6" y="253.4" width="6.4" height="11.56" fill="#000010"/><rect x="564.6" y="253.4" width="6.4" height="314.7" fill="none" stroke="#000" stroke-width="1.1"/><path d="M571 539.6h5.6M571 507.8h5.6M571 476h5.6M571 444.2h5.6M571 412.4h5.6M571 380.6h5.6M571 348.8h5.6M571 317h5.6M571 285.2h5.6M571 253.4h5.6" stroke="#000" stroke-width="1.4"/><text transform="translate(582.3,547.5) scale(0.94,1)" font-family="'DejaVu Serif', serif" font-size="20.8" text-anchor="start">0.1</text><text transform="translate(582.3,515.7) scale(0.94,1)" font-family="'DejaVu Serif', serif" font-size="20.8" text-anchor="start">0.2</text><text transform="translate(582.3,483.9) scale(0.94,1)" font-family="'DejaVu Serif', serif" font-size="20.8" text-anchor="start">0.3</text><text transform="translate(582.3,452.1) scale(0.94,1)" font-family="'DejaVu Serif', serif" font-size="20.8" text-anchor="start">0.4</text><text transform="translate(582.3,420.3) scale(0.94,1)" font-family="'DejaVu Serif', serif" font-size="20.8" text-anchor="start">0.5</text><text transform="translate(582.3,388.5) scale(0.94,1)" font-family="'DejaVu Serif', serif" font-size="20.8" text-anchor="start">0.6</text><text transform="translate(582.3,356.7) scale(0.94,1)" font-family="'DejaVu Serif', serif" font-size="20.8" text-anchor="start">0.7</text><text transform="translate(582.3,324.9) scale(0.94,1)" font-family="'DejaVu Serif', serif" font-size="20.8" text-anchor="start">0.8</text><text transform="translate(582.3,293.1) scale(0.94,1)" font-family="'DejaVu Serif', serif" font-size="20.8" text-anchor="start">0.9</text><text transform="translate(582.3,261.3) scale(0.94,1)" font-family="'DejaVu Serif', serif" font-size="20.8" text-anchor="start">1.0</text><text transform="translate(639.1,411.7) rotate(-90)" font-family="'DejaVu Serif', serif" font-size="24.7" text-anchor="middle">probability</text><text x="328.5" y="49.7" font-family="'Liberation Serif', serif" font-size="44" text-anchor="middle" textLength="157.8" lengthAdjust="spacingAndGlyphs">40–50 ps</text></g><g transform="translate(0,657.3)"><clipPath id="ct01"><rect x="94.5" y="106.6" width="265.3" height="130.5"/></clipPath><clipPath id="cm01"><rect x="94.5" y="243.9" width="265.3" height="266.7"/></clipPath><clipPath id="cr01"><rect x="366.6" y="243.9" width="129.1" height="266.7"/></clipPath></g><g transform="translate(0,657.3)"><path d="M160.82 106.6V237.1M227.15 106.6V237.1M293.48 106.6V237.1" stroke="#b0b0b0" stroke-opacity="0.55" stroke-width="1.15" fill="none"/><path d="M94.5 199.81H359.8M94.5 181.17H359.8M94.5 162.53H359.8M94.5 143.89H359.8M94.5 125.24H359.8" stroke="#b0b0b0" stroke-opacity="0.55" stroke-width="1.15" fill="none"/><g clip-path="url(#ct01)" fill="none" stroke-linejoin="round"><polyline points="94.43,235.82 119.93,235.6 122.7,232.72 124.92,226.07 127.13,217.2 128.8,208.33 130.46,199.46 132.68,187.27 134.34,179.51 136.56,168.43 138.77,162.88 140.99,160.67 142.65,163.99 144.32,171.75 145.98,179.51 147.64,188.38 149.3,196.14 150.97,205 152.63,213.87 154.29,222.74 156.51,228.28 159.83,232.16 163.16,234.93 167.59,235.82 170.36,235.82 173.14,235.82 175.91,235.82 178.68,235.82 181.45,235.82 184.22,235.82 186.99,235.83 189.76,235.16 192.53,235.34 195.3,234.05 199.74,233.83 204.17,234.38 208.61,233.83 211.93,232.72 216.37,232.16 219.69,229.39 223.02,223.85 220,231.62 222.77,226.08 225.54,221.09 228.87,218.32 233.3,214.99 235.52,209.45 238.85,205.01 241.62,201.13 245.5,198.92 248.27,202.24 250.49,204.46 253.26,204.46 256.03,207.23 258.8,209.45 262.13,212.77 265.45,212.77 268.78,214.44 273.21,216.65 275.98,217.19 278.75,218.09 281.53,218.8 284.3,218.87 288.73,219.42 293.17,221.64 296.49,222.2 300.93,219.98 304.25,217.95 307.58,217.21 312.01,216.1 316.44,213.88 320.88,213.66 325.31,210 329.75,206.68 333.07,203.9 337.51,202.8 341.94,201.91 346.38,202.8 350.26,200.58 354.14,200.36 358.02,200.02 361.34,199.8" stroke="#ff0000" stroke-width="4.0"/><polyline points="94.43,235.82 119.93,235.6 122.7,232.72 124.92,226.07 127.13,217.2 128.8,208.33 130.46,199.46 132.68,187.27 134.34,179.51 136.56,168.43 138.77,162.88 140.99,160.67 142.65,163.99 144.32,171.75 145.98,179.51 147.64,188.38 149.3,196.14 150.97,205 152.63,213.87 154.29,222.74 156.51,228.28 159.83,232.16 163.16,234.93 167.59,235.82 178.68,235.82 362.8,235.82" stroke="#000" stroke-width="4.0" stroke-dasharray="14.8 6.4"/><line x1="193.99" y1="190.04" x2="361.8" y2="190.04" stroke="#000" stroke-width="3.3" stroke-dasharray="3.3 5.4"/><polyline points="131.57,231.61 136,223.85 139.33,216.09 142.65,208.33 146.53,200.57 150.97,194.47 158.73,191.15 167.59,190.37 176.46,190.04 185.33,190.04 194.2,190.04 201.96,189.26 210.82,187.27 218.58,184.5 224.68,178.4 220,185.06 224.99,178.19 228.87,170.65 232.75,162.89 235.52,154.91 237.74,146.81 239.73,138.28 241.95,129.85 243.5,121.32 245.5,113 247.16,105.24 247.94,100.81" stroke="#ff0000" stroke-width="3.3" stroke-dasharray="3.3 5.4"/></g><rect x="94.5" y="106.6" width="265.3" height="130.5" fill="none" stroke="#000" stroke-width="1.4"/><path d="M94.5 106.6v-5.6M160.82 106.6v-5.6M227.15 106.6v-5.6M293.48 106.6v-5.6M359.8 106.6v-5.6M94.5 199.81h-5.6M94.5 181.17h-5.6M94.5 162.53h-5.6M94.5 143.89h-5.6M94.5 125.24h-5.6" stroke="#000" stroke-width="1.4"/><text transform="translate(94.5,92) scale(0.94,1)" font-family="'DejaVu Serif', serif" font-size="20.8" text-anchor="middle">1</text><text transform="translate(160.82,92) scale(0.94,1)" font-family="'DejaVu Serif', serif" font-size="20.8" text-anchor="middle">2</text><text transform="translate(227.15,92) scale(0.94,1)" font-family="'DejaVu Serif', serif" font-size="20.8" text-anchor="middle">3</text><text transform="translate(293.48,92) scale(0.94,1)" font-family="'DejaVu Serif', serif" font-size="20.8" text-anchor="middle">4</text><text transform="translate(359.8,92) scale(0.94,1)" font-family="'DejaVu Serif', serif" font-size="20.8" text-anchor="middle">5</text><text transform="translate(81.8,208.11) scale(0.94,1)" font-family="'DejaVu Serif', serif" font-size="20.8" text-anchor="end">0.8</text><text transform="translate(81.8,189.47) scale(0.94,1)" font-family="'DejaVu Serif', serif" font-size="20.8" text-anchor="end">1.2</text><text transform="translate(81.8,170.83) scale(0.94,1)" font-family="'DejaVu Serif', serif" font-size="20.8" text-anchor="end">1.6</text><text transform="translate(81.8,152.19) scale(0.94,1)" font-family="'DejaVu Serif', serif" font-size="20.8" text-anchor="end">2.0</text><text transform="translate(81.8,133.54) scale(0.94,1)" font-family="'DejaVu Serif', serif" font-size="20.8" text-anchor="end">2.4</text><text transform="translate(37.0,174.5) rotate(-90)" font-family="'DejaVu Serif', serif" font-size="29" text-anchor="middle">g(r)</text><g clip-path="url(#cm01)"><path d="M117.1 509.3L119.7 509.3L122.4 509.3L125 509.3L127.7 509.3L130.3 509.3L133 509.3L135.6 509.3L138.3 509.3L140.9 509.3L143.6 509.3L146.2 509.3L148.9 509.3L151.5 509.3L154.2 509.3L156.8 509.3L159.5 509.3L162.2 509.3L164.8 509.3L167.5 509.3L167.8 509.3L168.1 506.6L167.5 505.7L166.7 503.9L166 501.3L165.8 498.6L165.8 495.9L164.8 494.1L164.4 493.3L164.8 490.6L162.2 488L162.1 487.9L162.2 487.1L162.3 485.3L162.2 485.1L160.9 482.6L160.9 479.9L159.5 478.2L158.6 477.3L159.4 474.6L158.2 471.9L156.8 470L156.6 469.3L154.7 466.6L154.2 464.8L154 463.9L153.4 461.3L151.5 460.4L150.1 458.6L149.7 455.9L148.9 454.1L148.1 453.3L146.2 452L144.3 450.6L143.6 450L140.9 449.4L139.5 450.6L138.3 452.5L135.6 452.8L134.8 453.3L133 454.6L132.5 455.9L131.2 458.6L130.3 459.1L129.2 461.3L128.4 463.9L128.3 466.6L127.7 467.2L126.1 469.3L125.2 471.9L125 472.8L124.1 474.6L123.8 477.3L123 479.9L122.9 482.6L122.4 483.9L121.6 485.3L121.4 487.9L119.7 489.8L119.2 490.6L118.2 493.3L119.2 495.9L119.6 498.6L117.1 501L116.9 501.3L116.4 503.9L117.1 506.4L117.1 506.6L117.1 506.7L115.6 509.3ZM247 425.3L248.6 423.9L249.7 422.1L250.8 421.3L252.4 420.7L252.9 421.3L254.4 423.9L255 424.5L257.7 424.9L260.3 425.1L262.1 423.9L263 422.8L264.6 421.3L265.6 420.3L266.7 418.6L266.7 415.9L265.6 414L264.7 413.3L263 410.7L262.9 410.6L261.2 407.9L261.1 405.3L260.3 404.5L257.7 403.9L255.1 402.6L255 402.5L254.9 402.6L252.4 403.4L249.7 404.5L247 403.8L244.6 405.3L244.4 405.3L244.2 405.3L241.8 402.6L241.7 402.5L239.1 401.4L237.3 402.6L236.4 402.9L233.8 405.1L233.3 405.3L231.1 407.2L230.8 407.9L231.1 408.3L233.8 409.1L234.8 410.6L236.4 413.2L236.4 413.3L237.3 415.9L238 418.6L237.3 421.3L239.1 421.9L241.7 422.4L244.4 422.3L245.5 423.9ZM246.3 421.3L247 420.7L247.9 421.3L247 421.6Z" fill="#ffffcd"/><path d="M122.4 509.3L125 509.3L127.7 509.3L130.3 509.3L133 509.3L135.6 509.3L138.3 509.3L140.9 509.3L143.6 509.3L146.2 509.3L148.9 509.3L151.5 509.3L154.2 509.3L156.8 509.3L159.5 509.3L162.2 509.3L162.9 509.3L162.2 506.8L162.1 506.6L162.2 506.1L162.4 503.9L162.2 503.3L161.1 501.3L161.5 498.6L161.7 495.9L159.5 493.8L158.4 493.3L156.8 491.4L156.5 490.6L156.8 489.7L157.5 487.9L156.8 485.5L156.8 485.3L154.2 483.4L153.4 482.6L154.1 479.9L151.8 477.3L151.5 475.9L151.4 474.6L151.5 473.5L152.9 471.9L151.5 471L151.2 469.3L148.9 466.6L148.9 466.5L148.6 466.6L146.2 466.8L145.7 466.6L146.1 463.9L144.6 461.3L143.6 460L140.9 459.6L138.3 460.7L137.4 461.3L138.3 463.1L140.9 463.8L141 463.9L140.9 464.1L138.3 464.6L135.6 464.1L134.8 466.6L133.4 469.3L133 470.2L130.3 470.6L129.2 471.9L127.7 474.1L127.4 474.6L127.7 477.2L127.7 477.3L127.7 477.3L126.8 479.9L127.7 481.7L127.9 482.6L127.7 483L125.9 485.3L126.1 487.9L125 490.1L124.5 490.6L122.5 493.3L122.6 495.9L124.1 498.6L124.4 501.3L122.4 502.5L121 503.9L120.9 506.6L120.1 509.3Z" fill="#ffff5c"/><path d="M122.4 509.3L125 509.3L127.7 509.3L130.3 509.3L133 509.3L135.6 509.3L138.3 509.3L140.9 509.3L143.6 509.3L146.2 509.3L148.9 509.3L151.5 509.3L154.2 509.3L156.8 509.3L159.5 509.3L160 509.3L159.5 506.6L159.5 506.6L159.4 503.9L158.5 501.3L158.4 498.6L156.8 496L156.8 495.9L155.4 493.3L154.2 491.4L153.7 490.6L154.2 488.8L154.6 487.9L154.2 486.8L153.8 485.3L151.5 483L151.3 482.6L151.4 479.9L149.9 477.3L148.9 474.8L148.7 474.6L148.9 474.5L150 471.9L148.9 469.8L146.2 469.6L145.4 469.3L143.6 468.5L142 469.3L140.9 469.6L138.3 470.6L135.6 470.1L134.4 471.9L133 472.8L130.3 473.5L129.4 474.6L129.8 477.3L129.8 479.9L129.8 482.6L127.9 485.3L127.9 487.9L127.7 490.1L127.5 490.6L125 491.7L123.6 493.3L123.7 495.9L125 497.6L126.3 498.6L125.9 501.3L125 502.6L123.2 503.9L123.8 506.6L122.4 506.9L121.2 509.3Z" fill="#fffc03"/><path d="M122.4 509.3L123.9 509.3L122.4 509L122.2 509.3ZM127.7 509.3L130.3 509.3L133 509.3L135.6 509.3L138.3 509.3L140.9 509.3L143.6 509.3L146.2 509.3L148.9 509.3L151.5 509.3L154.2 509.3L156.8 509.3L158.4 509.3L158.6 506.6L158.1 503.9L156.8 501.5L156.4 501.3L156.5 498.6L156.1 495.9L154.2 493.6L151.5 493.5L148.9 493.5L148.7 493.3L148.9 493L151.5 492L151.9 490.6L151.5 489.3L148.9 488.9L146.6 487.9L148.4 485.3L148.9 484.3L149.8 482.6L149.6 479.9L148.9 478.7L147.9 477.3L146.2 475.7L143.6 475.7L141.2 474.6L143.6 473.2L146.1 471.9L143.6 470.8L140.9 471.2L139.6 471.9L138.3 473.3L135.6 472.4L133 474L131.7 474.6L133 476.5L133.3 477.3L133 478.2L132.1 479.9L130.9 482.6L130.3 483.6L129 485.3L129.1 487.9L128.8 490.6L127.7 491.8L125 492.9L124.7 493.3L124.9 495.9L125 496.1L127.2 495.9L127.7 495.9L130.3 495.7L130.5 495.9L130.3 496.2L127.9 498.6L127.7 499.3L127 501.3L125.1 503.9L126.2 506.6L125.1 509.3ZM151.5 485.5L151.6 485.3L151.5 485.2L151.4 485.3Z" fill="#ffec13"/><path d="M127.7 509.3L130.3 509.3L133 509.3L135.6 509.3L138.3 509.3L140.9 509.3L143.6 509.3L146.2 509.3L148.9 509.3L151.5 509.3L154.2 509.3L156.8 509.3L157 509.3L157.7 506.6L156.9 503.9L156.8 503.9L156.6 503.9L154.2 504.5L153.9 503.9L151.5 501.5L150.7 501.3L151.5 500.5L154.2 499.7L154.8 498.6L155.3 495.9L154.2 494.6L151.5 494.6L148.9 494.6L147.6 493.3L148.9 491.5L150 490.6L148.9 490L146.2 489.1L145.3 487.9L146.2 486.3L147 485.3L148.2 482.6L146.2 480.6L143.6 480.9L141.1 479.9L142.9 477.3L140.9 476.5L138.3 475.8L137.2 474.6L135.6 473.6L134 474.6L135.1 477.3L133.8 479.9L133 480.7L131.7 482.6L130.3 484.9L130 485.3L130.2 487.9L129.9 490.6L127.7 493L127.1 493.3L127.7 493.7L130.3 494.7L131.6 495.9L130.3 497.2L129 498.6L128 501.3L127.7 501.6L125.8 503.9L127.5 506.6L126 509.3ZM140.9 482.6L140.9 481.6L141 482.6L140.9 482.6Z" fill="#ffda25"/><path d="M127.7 509.3L130.3 509.3L133 509.3L135.6 509.3L138.3 509.3L140.9 509.3L143.6 509.3L146.2 509.3L148.9 509.3L151.5 509.3L153.7 509.3L154.2 507.6L156.6 506.6L154.2 506.1L153 503.9L151.5 502.5L148.9 502L147.8 501.3L148.3 498.6L148.9 496.7L151.5 496.7L154.2 497L154.5 495.9L154.2 495.5L151.5 495.7L148.9 495.7L146.5 493.3L146.7 490.6L146.2 490.5L145.7 490.6L143.6 491.9L140.9 490.9L140.7 490.6L140.9 490.4L143.6 489.7L144.2 487.9L145.1 485.3L146.2 483.1L146.4 482.6L146.2 482.4L143.6 482.3L143.1 482.6L140.9 484.6L138.9 482.6L139.7 479.9L138.3 477.8L135.6 479.3L135.3 479.9L133 482L132.6 482.6L131 485.3L133 487.9L133 487.9L133 488.1L131.4 490.6L130.3 492.1L129.3 493.3L130.3 493.7L132.6 495.9L130.3 498.3L130 498.6L128.8 501.3L127.7 502.5L126.5 503.9L127.7 505.7L128.1 506.6L127.7 508.1L127 509.3ZM137 495.9L138.3 493.7L139.1 495.9L138.3 496.5Z" fill="#ffc837"/><path d="M130.3 509.3L133 509.3L135.6 509.3L138.3 509.3L140.9 509.3L142.9 509.3L143.6 508.7L145.1 509.3L146.2 509.3L148.9 509.3L151.5 509.3L152.9 509.3L153.6 506.6L152 503.9L151.5 503.4L148.9 503.7L148.5 503.9L146.2 505.2L145.8 503.9L146.1 501.3L146.2 500.7L147.3 498.6L147.7 495.9L146.2 494.4L143.6 493.8L140.9 493.6L140 495.9L138.3 497L135.6 496.2L133 496.6L131 498.6L130.3 499.8L129.6 501.3L127.7 503.3L127.1 503.9L127.7 504.7L128.6 506.6L127.8 509.3ZM133 495.6L135.6 495.9L137.9 493.3L138.3 490.7L138.4 490.6L140.9 487.9L140.5 485.3L138.3 483.1L135.6 483L133 483.5L132.1 485.3L133 486.5L134.1 487.9L133 490.6L133 490.6L130.6 493.3ZM138.3 480.2L138.4 479.9L138.3 479.8L138.1 479.9Z" fill="#ffb649"/><path d="M130.3 509.3L133 509.3L135.6 509.3L138.3 509.3L140.9 509.3L141.7 509.3L143.6 507.9L146.2 506.6L145.2 503.9L145.8 501.3L146.2 498.8L146.3 498.6L146.2 496.2L146.2 495.9L143.6 494.6L140.9 495.9L140.9 495.9L138.3 497.6L135.9 498.6L135.6 499L135.3 498.6L133 497.5L131.9 498.6L131.2 501.3L130.3 501.5L128 503.9L129.2 506.6L128.1 509.3ZM132.4 506.6L132.8 503.9L133 503.2L133.2 503.9L134.1 506.6L133 507.1ZM148.9 509.3L151.5 509.3L152.1 509.3L152.8 506.6L151.5 504.6L148.9 504.4L146.2 506.6L146.5 509.3ZM133 495.1L135.6 495.4L137.4 493.3L137.5 490.6L138.3 489.8L140.1 487.9L139.7 485.3L138.3 483.8L135.6 484.2L133.2 485.3L135.1 487.9L133.8 490.6L133 491.2L131.1 493.3Z" fill="#ffa45b"/><path d="M130.3 509.3L133 509.3L135.5 509.3L133 508L131.4 506.6L131.1 503.9L130.3 503.1L129.6 503.9L129.7 506.6L128.4 509.3ZM138.3 509.3L140.3 509.3L140.9 509.1L143.6 507L144.4 506.6L144.7 503.9L145.6 501.3L146 498.6L144.7 495.9L143.6 495.4L142.4 495.9L140.9 496.4L138.3 498.2L137.3 498.6L135.6 501.1L135.4 501.3L134.8 503.9L135.6 505.8L135.8 506.6L135.8 509.3ZM148.9 509.3L151.4 509.3L151.5 508.4L152 506.6L151.5 505.9L148.9 505L146.9 506.6L147.1 509.3ZM133 499.1L133.3 498.6L133 498.4L132.8 498.6ZM133 494.6L135.6 494.9L137 493.3L136.7 490.6L138.3 489L139.3 487.9L139 485.3L138.3 484.5L135.8 485.3L136.4 487.9L135.6 488.7L134.5 490.6L133 491.8L131.6 493.3Z" fill="#ff926d"/><path d="M130.3 509.3L133 509.3L133.7 509.3L133 508.9L130.4 506.6L130.3 506.1L130.2 506.6L128.7 509.3ZM138.3 509.3L140.9 508.6L143.2 506.6L143.6 505.6L144.1 503.9L145.3 501.3L145.6 498.6L143.6 496L140.9 496.8L138.5 498.6L138.3 498.9L136.3 501.3L135.8 503.9L136.8 506.6ZM148.9 509.3L150.6 509.3L151 506.6L148.9 505.6L147.6 506.6L147.6 509.3ZM133 494.1L135.6 494.3L136.5 493.3L135.9 490.6L135.6 490L135.3 490.6L133 492.3L132.1 493.3ZM138.3 488.2L138.6 487.9L138.3 485.3L138.3 485.2L138.2 485.3L137.8 487.9Z" fill="#ff827d"/><path d="M130.3 509.3L132.6 509.3L130.3 507L129 509.3ZM138.3 507.6L140.9 508L142.6 506.6L143.6 503.9L143.6 503.9L145 501.3L145.3 498.6L143.6 496.4L140.9 497.3L139.1 498.6L138.3 499.7L137 501.3L136.2 503.9L137.7 506.6ZM148.9 509.3L149.9 509.3L149.8 506.6L148.9 506.1L148.3 506.6L148.2 509.3ZM133 493.6L135.6 493.8L136.1 493.3L135.6 491.6L133 492.9L132.6 493.3Z" fill="#ff708f"/><path d="M130.3 509.3L132.1 509.3L130.3 507.6L129.3 509.3ZM140.9 507.5L142 506.6L143.1 503.9L143.6 503.4L144.7 501.3L145 498.6L143.6 496.8L140.9 497.8L139.8 498.6L138.3 500.5L137.7 501.3L136.6 503.9L138.3 506.4L138.8 506.6ZM148.9 509.3L149.1 509.3L148.9 507.7L148.7 509.3ZM135.6 493.3L135.6 493.3L135.6 493.2L135.3 493.3Z" fill="#ff5ea1"/><path d="M130.3 509.3L131.6 509.3L130.3 508.1L129.6 509.3ZM140.9 507L141.3 506.6L142.6 503.9L143.6 502.8L144.4 501.3L144.7 498.6L143.6 497.2L140.9 498.2L140.4 498.6L138.4 501.3L138.3 501.4L137 503.9L138.3 505.8L140.1 506.6Z" fill="#fe4cb3"/><path d="M130.3 509.3L131 509.3L130.3 508.6L129.9 509.3ZM138.3 505.2L140.9 506.3L142.2 503.9L143.6 502.3L144.1 501.3L144.4 498.6L143.6 497.6L141.1 498.6L140.9 498.9L139.4 501.3L138.3 502.2L137.4 503.9Z" fill="#e23ac5"/><path d="M130.3 509.3L130.5 509.3L130.3 509.1L130.2 509.3ZM138.3 504.6L140.9 505.4L141.7 503.9L143.6 501.7L143.8 501.3L144.1 498.6L143.6 498L142.1 498.6L140.9 500.4L140.4 501.3L138.3 503L137.8 503.9Z" fill="#c628d7"/><path d="M138.3 504L140.9 504.5L141.3 503.9L140.9 502.3L138.3 503.8L138.2 503.9ZM143.6 500.6L143.8 498.6L143.6 498.3L143 498.6Z" fill="#ad18e7"/></g><path d="M160.82 243.9V510.6M227.15 243.9V510.6M293.48 243.9V510.6" stroke="#a8a8a8" stroke-opacity="0.62" stroke-width="1.15" fill="none"/><path d="M94.5 466.15H359.8M94.5 421.7H359.8M94.5 377.25H359.8M94.5 332.8H359.8M94.5 288.35H359.8" stroke="#a8a8a8" stroke-opacity="0.62" stroke-width="1.15" fill="none"/><g clip-path="url(#cm01)" stroke="#000" stroke-width="2.45" stroke-dasharray="9 3.9"><line x1="193.99" y1="243.9" x2="193.99" y2="510.6"/><line x1="94.5" y1="377.25" x2="359.8" y2="377.25" stroke-dashoffset="2.56"/></g><rect x="94.5" y="243.9" width="265.3" height="266.7" fill="none" stroke="#000" stroke-width="1.4"/><path d="M94.5 510.6v5.6M160.82 510.6v5.6M227.15 510.6v5.6M293.48 510.6v5.6M359.8 510.6v5.6M94.5 466.15h-5.6M94.5 421.7h-5.6M94.5 377.25h-5.6M94.5 332.8h-5.6M94.5 288.35h-5.6M94.5 243.9h-5.6" stroke="#000" stroke-width="1.4"/><text transform="translate(94.5,538.2) scale(0.94,1)" font-family="'DejaVu Serif', serif" font-size="20.8" text-anchor="middle">1</text><text transform="translate(160.82,538.2) scale(0.94,1)" font-family="'DejaVu Serif', serif" font-size="20.8" text-anchor="middle">2</text><text transform="translate(227.15,538.2) scale(0.94,1)" font-family="'DejaVu Serif', serif" font-size="20.8" text-anchor="middle">3</text><text transform="translate(293.48,538.2) scale(0.94,1)" font-family="'DejaVu Serif', serif" font-size="20.8" text-anchor="middle">4</text><text transform="translate(359.8,538.2) scale(0.94,1)" font-family="'DejaVu Serif', serif" font-size="20.8" text-anchor="middle">5</text><text transform="translate(81.8,474.45) scale(0.94,1)" font-family="'DejaVu Serif', serif" font-size="20.8" text-anchor="end">15</text><text transform="translate(81.8,430) scale(0.94,1)" font-family="'DejaVu Serif', serif" font-size="20.8" text-anchor="end">30</text><text transform="translate(81.8,385.55) scale(0.94,1)" font-family="'DejaVu Serif', serif" font-size="20.8" text-anchor="end">45</text><text transform="translate(81.8,341.1) scale(0.94,1)" font-family="'DejaVu Serif', serif" font-size="20.8" text-anchor="end">60</text><text transform="translate(81.8,296.65) scale(0.94,1)" font-family="'DejaVu Serif', serif" font-size="20.8" text-anchor="end">75</text><text transform="translate(81.8,252.2) scale(0.94,1)" font-family="'DejaVu Serif', serif" font-size="20.8" text-anchor="end">90</text><text x="227.5" y="575.5" font-family="'DejaVu Serif', serif" font-size="29" text-anchor="middle">distance (<tspan font-family="'DejaVu Sans', sans-serif" font-style="italic">Å</tspan>)</text><text transform="translate(44.6,523.3) rotate(-90)" font-family="'DejaVu Sans', sans-serif" font-size="24.5" textLength="295" lengthAdjust="spacingAndGlyphs">∠<tspan font-style="italic">C</tspan><tspan font-size="17" dy="4">2</tspan><tspan dy="-4"> = (</tspan><tspan font-style="italic">O</tspan><tspan font-size="17" dy="4">2</tspan><tspan dy="-4">)⋯(</tspan><tspan font-style="italic">D</tspan><tspan font-size="17" dy="4">2</tspan><tspan dy="-4">)</tspan><tspan font-style="italic">O</tspan><tspan font-family="'DejaVu Serif', serif" font-size="24.5"> (deg)</tspan></text><path d="M392.42 243.9V510.6M444.06 243.9V510.6" stroke="#a8a8a8" stroke-opacity="0.62" stroke-width="1.15" fill="none"/><path d="M366.6 466.15H495.7M366.6 421.7H495.7M366.6 377.25H495.7M366.6 332.8H495.7M366.6 288.35H495.7" stroke="#a8a8a8" stroke-opacity="0.62" stroke-width="1.15" fill="none"/><g clip-path="url(#cr01)"><polyline points="366.75,243.62 366.75,246.62 366.75,249.62 366.75,252.62 366.75,255.62 366.75,258.62 366.75,261.62 366.75,264.62 366.75,267.62 366.75,270.62 366.75,273.62 366.75,276.63 366.75,279.63 366.75,282.63 366.75,285.63 366.75,288.63 366.75,291.63 366.75,294.63 366.75,297.63 366.75,300.63 366.75,303.63 366.75,306.63 366.75,309.63 366.75,312.63 366.75,315.63 366.75,318.63 366.75,321.63 366.75,324.63 366.75,327.64 366.75,330.64 366.75,333.64 366.75,336.64 366.75,339.64 366.75,342.64 366.75,345.64 366.75,348.64 366.75,351.64 366.75,354.64 366.75,357.64 366.75,360.64 366.75,363.64 366.75,366.64 366.75,369.64 366.75,372.64 366.75,375.64 366.75,378.65 366.75,381.65 366.75,384.65 366.75,387.65 366.75,390.65 366.75,393.65 366.75,396.65 366.75,399.65 366.75,402.65 366.75,405.65 366.75,408.65 366.75,411.65 366.75,414.65 366.75,417.65 366.75,420.65 366.75,423.65 366.75,426.65 366.75,429.66 366.75,432.66 366.75,435.66 366.75,439.29 366.75,442.91 366.75,446.54 366.75,450.9 366.75,455.25 368.07,458.16 369.39,461.06 370.71,463.96 375.06,467.23 377.81,469.82 381.6,472.67 386.49,473.93 386.1,475.69 390.3,477.03 394.07,478.39 397.23,479.8 401.19,480.29 405.38,482.05 408.98,481.85 412.08,482.47 417.02,483.56 418.66,484.26 422.96,484.65 425.64,485.51 428.99,485.53 432.76,485.73 429.5,490.09 430.98,492.41 433.85,494.44 438.4,496.55 440.38,497.71 443.08,497.45 447.58,497.98 449.5,498.81 453.45,498.8 456.7,499.13 462.16,498.8 457.8,500.98 462.07,501.27 463.52,501.44 468.99,501.88 470.86,502.06 475.29,502.37 477.53,502.7 480.8,503.01 483.93,503.15 481.46,504.19 477.28,503.86 473.54,504.41 470.86,505.33 465.54,505.56 463.21,506.51 459.92,505.42 457.31,506.21 453.45,506.42 451.21,506.71 449.08,506.58 444.54,506.9 440.83,506.63 438.21,507.51 441.9,506.91 444.79,507.83 447.93,507.06 451.41,507.48 454.14,507.68 458.67,507.66 459.98,507.94 463.43,508.29 465.92,508.19 470.86,508.6 473.73,508.79 476.66,509.49 481.79,509.35 483.06,509.19 488.04,509.73 489.8,508.88 493.28,509.5 495.25,509.25" fill="none" stroke="#000" stroke-width="3.9" stroke-linejoin="round" stroke-dasharray="14.8 6.4"/></g><rect x="366.6" y="243.9" width="129.1" height="266.7" fill="none" stroke="#000" stroke-width="1.4"/><path d="M392.42 510.6v5.6M444.06 510.6v5.6M495.7 510.6v5.6M495.7 466.15h5.6M495.7 421.7h5.6M495.7 377.25h5.6M495.7 332.8h5.6M495.7 288.35h5.6M495.7 243.9h5.6" stroke="#000" stroke-width="1.4"/><text transform="translate(392.42,538.2) scale(0.94,1)" font-family="'DejaVu Serif', serif" font-size="20.8" text-anchor="middle">0.2</text><text transform="translate(444.06,538.2) scale(0.94,1)" font-family="'DejaVu Serif', serif" font-size="20.8" text-anchor="middle">0.6</text><text transform="translate(495.7,538.2) scale(0.94,1)" font-family="'DejaVu Serif', serif" font-size="20.8" text-anchor="middle">1.0</text><text transform="translate(507.4,474.25) scale(0.94,1)" font-family="'DejaVu Serif', serif" font-size="20.8" text-anchor="start">15</text><text transform="translate(507.4,429.8) scale(0.94,1)" font-family="'DejaVu Serif', serif" font-size="20.8" text-anchor="start">30</text><text transform="translate(507.4,385.35) scale(0.94,1)" font-family="'DejaVu Serif', serif" font-size="20.8" text-anchor="start">45</text><text transform="translate(507.4,340.9) scale(0.94,1)" font-family="'DejaVu Serif', serif" font-size="20.8" text-anchor="start">60</text><text transform="translate(507.4,296.45) scale(0.94,1)" font-family="'DejaVu Serif', serif" font-size="20.8" text-anchor="start">75</text><text transform="translate(507.4,252) scale(0.94,1)" font-family="'DejaVu Serif', serif" font-size="20.8" text-anchor="start">90</text><text x="431.4" y="581.2" font-family="'DejaVu Sans', sans-serif" font-size="29.5" text-anchor="middle"><tspan font-style="italic">g</tspan>(<tspan font-style="italic">θ</tspan>)</text><rect x="564.6" y="557.36" width="6.4" height="11.56" fill="#ffffcd"/><rect x="564.6" y="546.51" width="6.4" height="11.56" fill="#ffff5c"/><rect x="564.6" y="535.65" width="6.4" height="11.56" fill="#fffc03"/><rect x="564.6" y="524.8" width="6.4" height="11.56" fill="#ffec13"/><rect x="564.6" y="513.94" width="6.4" height="11.56" fill="#ffda25"/><rect x="564.6" y="503.08" width="6.4" height="11.56" fill="#ffc837"/><rect x="564.6" y="492.23" width="6.4" height="11.56" fill="#ffb649"/><rect x="564.6" y="481.37" width="6.4" height="11.56" fill="#ffa45b"/><rect x="564.6" y="470.52" width="6.4" height="11.56" fill="#ff926d"/><rect x="564.6" y="459.66" width="6.4" height="11.56" fill="#ff827d"/><rect x="564.6" y="448.81" width="6.4" height="11.56" fill="#ff708f"/><rect x="564.6" y="437.95" width="6.4" height="11.56" fill="#ff5ea1"/><rect x="564.6" y="427.09" width="6.4" height="11.56" fill="#fe4cb3"/><rect x="564.6" y="416.24" width="6.4" height="11.56" fill="#e23ac5"/><rect x="564.6" y="405.38" width="6.4" height="11.56" fill="#c628d7"/><rect x="564.6" y="394.53" width="6.4" height="11.56" fill="#ad18e7"/><rect x="564.6" y="383.67" width="6.4" height="11.56" fill="#9106f9"/><rect x="564.6" y="372.81" width="6.4" height="11.56" fill="#7400ff"/><rect x="564.6" y="361.96" width="6.4" height="11.56" fill="#5800ff"/><rect x="564.6" y="351.1" width="6.4" height="11.56" fill="#3c00ff"/><rect x="564.6" y="340.25" width="6.4" height="11.56" fill="#2300ff"/><rect x="564.6" y="329.39" width="6.4" height="11.56" fill="#0700ff"/><rect x="564.6" y="318.54" width="6.4" height="11.56" fill="#0000e4"/><rect x="564.6" y="307.68" width="6.4" height="11.56" fill="#0000c0"/><rect x="564.6" y="296.82" width="6.4" height="11.56" fill="#00009c"/><rect x="564.6" y="285.97" width="6.4" height="11.56" fill="#000078"/><rect x="564.6" y="275.11" width="6.4" height="11.56" fill="#000058"/><rect x="564.6" y="264.26" width="6.4" height="11.56" fill="#000034"/><rect x="564.6" y="253.4" width="6.4" height="11.56" fill="#000010"/><rect x="564.6" y="253.4" width="6.4" height="314.7" fill="none" stroke="#000" stroke-width="1.1"/><path d="M571 539.6h5.6M571 507.8h5.6M571 476h5.6M571 444.2h5.6M571 412.4h5.6M571 380.6h5.6M571 348.8h5.6M571 317h5.6M571 285.2h5.6M571 253.4h5.6" stroke="#000" stroke-width="1.4"/><text transform="translate(582.3,547.5) scale(0.94,1)" font-family="'DejaVu Serif', serif" font-size="20.8" text-anchor="start">0.1</text><text transform="translate(582.3,515.7) scale(0.94,1)" font-family="'DejaVu Serif', serif" font-size="20.8" text-anchor="start">0.2</text><text transform="translate(582.3,483.9) scale(0.94,1)" font-family="'DejaVu Serif', serif" font-size="20.8" text-anchor="start">0.3</text><text transform="translate(582.3,452.1) scale(0.94,1)" font-family="'DejaVu Serif', serif" font-size="20.8" text-anchor="start">0.4</text><text transform="translate(582.3,420.3) scale(0.94,1)" font-family="'DejaVu Serif', serif" font-size="20.8" text-anchor="start">0.5</text><text transform="translate(582.3,388.5) scale(0.94,1)" font-family="'DejaVu Serif', serif" font-size="20.8" text-anchor="start">0.6</text><text transform="translate(582.3,356.7) scale(0.94,1)" font-family="'DejaVu Serif', serif" font-size="20.8" text-anchor="start">0.7</text><text transform="translate(582.3,324.9) scale(0.94,1)" font-family="'DejaVu Serif', serif" font-size="20.8" text-anchor="start">0.8</text><text transform="translate(582.3,293.1) scale(0.94,1)" font-family="'DejaVu Serif', serif" font-size="20.8" text-anchor="start">0.9</text><text transform="translate(582.3,261.3) scale(0.94,1)" font-family="'DejaVu Serif', serif" font-size="20.8" text-anchor="start">1.0</text><text transform="translate(639.1,411.7) rotate(-90)" font-family="'DejaVu Serif', serif" font-size="24.7" text-anchor="middle">probability</text><text x="327.9" y="49.9" font-family="'Liberation Serif', serif" font-size="44" text-anchor="middle" textLength="271.4" lengthAdjust="spacingAndGlyphs">3.2 Å, 0°; 4.0 Å</text></g><g transform="translate(703.55,657.3)"><clipPath id="ct11"><rect x="94.5" y="106.6" width="265.3" height="130.5"/></clipPath><clipPath id="cm11"><rect x="94.5" y="243.9" width="265.3" height="266.7"/></clipPath><clipPath id="cr11"><rect x="366.6" y="243.9" width="129.1" height="266.7"/></clipPath></g><g transform="translate(703.55,657.3)"><path d="M160.82 106.6V237.1M227.15 106.6V237.1M293.48 106.6V237.1" stroke="#b0b0b0" stroke-opacity="0.55" stroke-width="1.15" fill="none"/><path d="M94.5 199.81H359.8M94.5 181.17H359.8M94.5 162.53H359.8M94.5 143.89H359.8M94.5 125.24H359.8" stroke="#b0b0b0" stroke-opacity="0.55" stroke-width="1.15" fill="none"/><g clip-path="url(#ct11)" fill="none" stroke-linejoin="round"><polyline points="94.88,235.82 123.7,235.6 127.03,233.83 130.35,229.39 133.68,224.96 137.01,219.41 139.78,213.87 142.55,207.22 144.77,200.57 146.43,195.03 147.54,188.38 150.31,185.61 153.63,185.05 156.96,183.72 158.62,183.94 161.39,185.61 164.72,185.05 166.93,187.27 170.26,188.38 171.92,191.7 173.03,197.25 174.14,205 175.25,209.44 178.02,212.76 180.24,217.2 183.56,221.63 188,226.07 190.21,228.28 192.98,232.16 195.75,232.72 198.53,232.44 201.3,232.16 205.73,231.61 209.06,230.5 212.38,227.17 215.71,224.96 220.14,222.74 223.47,219.97 220.45,223.86 223.78,220.53 227.1,217.21 230.98,214.99 235.97,215.54 240.4,212.22 244.28,214.44 247.61,212.22 250.94,213.33 254.82,212.77 258.14,214.99 262.58,213.88 267.56,215.54 271.44,213.88 275.88,213.33 278.65,213.48 281.42,212.77 285.86,211.11 288.63,211.83 291.4,211.11 295.83,208.34 300.27,207.78 303.04,207.37 305.81,207.78 309.14,206.68 313.57,206.68 316.89,207.78 321.33,212.22 325.76,212.77 328.53,212.03 331.31,212.22 334.08,212.7 336.85,212.77 339.62,213.17 342.39,211.66 345.16,211.9 347.93,211.66 350.71,209.94 353.48,209.45 356.25,208.77 359.02,208.89 361.79,208.67" stroke="#ff0000" stroke-width="4.0"/><polyline points="94.88,235.82 123.7,235.6 127.03,233.83 130.35,229.39 133.68,224.96 137.01,219.41 139.78,213.87 142.55,207.22 144.77,200.57 146.43,195.03 147.54,188.38 150.31,185.61 153.63,185.05 156.96,183.72 158.62,183.94 161.39,185.61 164.72,185.05 166.93,187.27 170.26,188.38 171.92,191.7 173.03,197.25 174.14,205 175.25,209.44 178.02,212.76 180.24,217.2 183.56,221.63 188,226.07 190.21,228.28 192.98,232.16 195.75,232.72 198.53,235.82 201.3,235.82 362.8,235.82" stroke="#000" stroke-width="4.0" stroke-dasharray="14.8 6.4"/><line x1="193.99" y1="146.26" x2="361.8" y2="146.26" stroke="#000" stroke-width="3.3" stroke-dasharray="3.3 5.4"/><polyline points="133.13,235.16 140.33,231.05 145.87,224.4 149.75,217.2 153.63,209.44 156.96,201.68 160.28,193.37 163.61,185.05 166.93,177.29 170.26,169.53 174.69,162.33 179.68,155.12 185.78,149.36 192.98,145.37 201.3,142.38 209.06,138.5 215.71,132.4 220.7,126.3 221,126.08 225.44,118.55 229.1,110.79 231.54,104.13 232.64,100.81" stroke="#ff0000" stroke-width="3.3" stroke-dasharray="3.3 5.4"/></g><rect x="94.5" y="106.6" width="265.3" height="130.5" fill="none" stroke="#000" stroke-width="1.4"/><path d="M94.5 106.6v-5.6M160.82 106.6v-5.6M227.15 106.6v-5.6M293.48 106.6v-5.6M359.8 106.6v-5.6M94.5 199.81h-5.6M94.5 181.17h-5.6M94.5 162.53h-5.6M94.5 143.89h-5.6M94.5 125.24h-5.6" stroke="#000" stroke-width="1.4"/><text transform="translate(94.5,92) scale(0.94,1)" font-family="'DejaVu Serif', serif" font-size="20.8" text-anchor="middle">1</text><text transform="translate(160.82,92) scale(0.94,1)" font-family="'DejaVu Serif', serif" font-size="20.8" text-anchor="middle">2</text><text transform="translate(227.15,92) scale(0.94,1)" font-family="'DejaVu Serif', serif" font-size="20.8" text-anchor="middle">3</text><text transform="translate(293.48,92) scale(0.94,1)" font-family="'DejaVu Serif', serif" font-size="20.8" text-anchor="middle">4</text><text transform="translate(359.8,92) scale(0.94,1)" font-family="'DejaVu Serif', serif" font-size="20.8" text-anchor="middle">5</text><text transform="translate(81.8,208.11) scale(0.94,1)" font-family="'DejaVu Serif', serif" font-size="20.8" text-anchor="end">0.8</text><text transform="translate(81.8,189.47) scale(0.94,1)" font-family="'DejaVu Serif', serif" font-size="20.8" text-anchor="end">1.2</text><text transform="translate(81.8,170.83) scale(0.94,1)" font-family="'DejaVu Serif', serif" font-size="20.8" text-anchor="end">1.6</text><text transform="translate(81.8,152.19) scale(0.94,1)" font-family="'DejaVu Serif', serif" font-size="20.8" text-anchor="end">2.0</text><text transform="translate(81.8,133.54) scale(0.94,1)" font-family="'DejaVu Serif', serif" font-size="20.8" text-anchor="end">2.4</text><text transform="translate(37.0,174.5) rotate(-90)" font-family="'DejaVu Serif', serif" font-size="29" text-anchor="middle">g(r)</text><g clip-path="url(#cm11)"><path d="M119.7 509.3L122.4 509.3L125 509.3L127.7 509.3L130.3 509.3L133 509.3L135.6 509.3L138.3 509.3L140.9 509.3L143.6 509.3L146.2 509.3L148.9 509.3L151.5 509.3L154.2 509.3L156.8 509.3L159.5 509.3L162.2 509.3L164.8 509.3L167.5 509.3L170.1 509.3L172.8 509.3L175.4 509.3L178.1 509.3L180.7 509.3L183.4 509.3L184.5 509.3L183.9 506.6L183.4 505.4L183.1 503.9L183.4 502.4L184.5 501.3L185.7 498.6L185.4 495.9L186 495L188.5 493.3L186.8 490.6L186 488.3L185.9 487.9L186 487.1L188.7 486.8L189.2 485.3L189 482.6L188.7 481.9L186 480.6L185.4 479.9L186 479.2L188 477.3L188.7 474.6L188.7 474.6L189.3 471.9L188.7 469.7L186 470.5L183.5 469.3L183.4 467.5L183.4 466.6L183.4 466.6L186 466.4L186.2 466.6L188.7 469.1L191.3 466.9L191.4 466.6L191.3 466.4L189.6 463.9L188.7 461.3L188.7 461.3L187.2 458.6L188.7 457.9L190.4 455.9L191.3 453.8L191.8 453.3L191.3 452.7L189.2 450.6L190.7 447.9L190.7 445.3L188.7 442.9L188.3 442.6L188.2 439.9L188.1 437.3L187.8 434.6L188.1 431.9L187.6 429.3L188 426.6L188.5 423.9L188.3 421.3L188.3 418.6L186.2 415.9L186 415.7L184.1 413.3L185.1 410.6L186 409.4L187.6 407.9L186 406.5L184.4 405.3L183.8 402.6L183.4 400.9L183.1 399.9L183.4 399.5L185.3 397.3L183.4 396.1L181.5 394.6L180.7 393.4L179 391.9L180.7 391.2L183.2 389.3L182.8 386.6L180.7 384.1L180.4 383.9L178.5 381.3L178.2 378.6L178.1 378.2L176.6 375.9L175.4 374.6L174.3 373.2L175.3 370.6L175.4 369.6L176.4 367.9L175.4 367.8L174.5 367.9L172.8 368.4L171.7 370.6L170.6 373.2L171.3 375.9L170.2 378.6L170.1 379.9L169.8 381.3L167.5 382.1L165.2 381.3L165.6 378.6L164.8 377.7L164.2 378.6L164.5 381.3L162.2 382.2L160.3 383.9L159.5 386L159.3 386.6L158.9 389.3L158.6 391.9L159 394.6L156.8 396.6L156.5 397.3L156.3 399.9L154.4 402.6L154.2 403L152.7 405.3L152.4 407.9L151.8 410.6L151.5 411L149.6 413.3L149 415.9L148.9 416.4L148.3 418.6L147 421.3L146.2 422.3L145.3 423.9L144.4 426.6L144.3 429.3L143.6 431.6L143.4 431.9L143.1 434.6L142.2 437.3L141 439.9L140.9 440.6L140.5 442.6L140.4 445.3L139 447.9L138.3 448.6L136.9 450.6L136.6 453.3L136.2 455.9L135.6 457.1L134.7 458.6L133.6 461.3L133 463.1L132.5 463.9L131.7 466.6L131 469.3L130.3 470.2L129 471.9L128.7 474.6L128.6 477.3L128 479.9L127.7 480.9L126.6 482.6L126 485.3L126.1 487.9L125.4 490.6L125 492.6L124.8 493.3L123.1 495.9L122.4 498.6L122.4 498.9L120.7 501.3L120.4 503.9L119.8 506.6L119.7 507L118.2 509.3ZM185.9 450.6L186 449.5L187.7 450.6L186 451.1ZM294.8 509.3L297.1 509.3L297.5 507.9L300.1 508.8L302.5 506.6L302.8 506.2L304 503.9L305.4 502.8L308.1 502.1L310.7 503.3L313.4 503.3L316 502.3L316.7 501.3L318.7 499.1L319.1 498.6L318.7 498L316 496.3L315.9 495.9L316 495.5L318.1 493.3L316.8 490.6L316 489.9L314.7 487.9L316 485.9L318.7 486.2L320.1 485.3L321.3 483.4L324 483.7L325.7 482.6L324 480.8L321.3 482L319.1 479.9L319.5 477.3L320.4 474.6L320 471.9L321.3 471.5L323.9 469.3L322.2 466.6L321.3 465.4L319.9 463.9L320.1 461.3L321.3 459.7L322.2 458.6L322.5 455.9L323.6 453.3L321.3 451L321.1 450.6L321.3 447.9L321.3 447.3L324 447L325.3 445.3L326.2 442.6L326.6 441.5L327.3 439.9L326.6 438.3L324 438L323.5 437.3L324 436.3L326.6 436.2L329.3 436.2L330.1 434.6L330.5 431.9L329.7 429.3L329.3 428.4L328.7 429.3L326.6 430.6L324 430.7L322.2 429.3L323.2 426.6L322.8 423.9L321.3 422.5L319.1 421.3L318.7 420.1L318.6 418.6L317.9 415.9L318.7 414L321.3 413.6L321.9 413.3L321.3 412.2L318.7 411.1L316 410.9L315.6 410.6L314.7 407.9L313.4 405.8L313.1 405.3L312.3 402.6L313.4 401.5L315 402.6L316 404.1L316.4 405.3L317.1 407.9L318.7 410.2L320.5 407.9L321.3 407.2L322.6 405.3L321.3 403.7L319.8 402.6L320.2 399.9L319 397.3L318.7 396.8L316.8 394.6L316.5 391.9L316.8 389.3L316.6 386.6L316 385.8L313.4 384.1L313 383.9L310.8 381.3L310.7 381.2L310.7 381.3L310 383.9L308.1 385.2L305.4 386.5L304.8 383.9L304.5 381.3L305.4 379.3L308.1 378.9L308.5 378.6L308.1 378.3L305.8 375.9L305.4 375.3L304.6 375.9L303.9 378.6L302.8 378.9L300.1 380.9L299.4 381.3L297.5 381.8L295.6 381.3L294.8 380.9L292.8 381.3L292.1 381.7L292 381.3L289.5 378.6L289.5 378.6L289.5 378.6L286.8 379L284.2 378.8L281.5 379.6L279.2 381.3L280.9 383.9L278.9 385L276.3 386.6L276.2 386.7L273.6 386.8L271.4 389.3L270.9 390.2L269.9 391.9L270 394.6L270.9 395.6L272.5 397.3L270.9 399.4L269.7 399.9L269.5 402.6L270.1 405.3L268.3 407.1L267.2 407.9L266.5 410.6L265.6 412.6L265.3 413.3L264.7 415.9L265.6 417.1L268.3 417.3L269.8 418.6L270.9 420.3L271.8 418.6L272.4 415.9L273.6 414.7L275.3 415.9L276.2 417.6L276.5 418.6L278.9 420.7L280.9 421.3L278.9 421.9L276.2 421.3L273.6 423.4L272.7 423.9L273.6 425.6L273.9 426.6L274.1 429.3L273.6 430.1L270.9 431.1L270.4 431.9L269.8 434.6L270.6 437.3L270.9 438L273.6 437.4L275.1 439.9L273.6 441.5L273.1 442.6L272.3 445.3L273.6 446.5L276 447.9L276.2 448.4L276.8 450.6L276.9 453.3L278.9 455.2L279.5 455.9L278.9 456.9L277.7 458.6L278.3 461.3L278.9 462.7L279 463.9L279.7 466.6L278.9 467.5L276.6 469.3L277.9 471.9L278.9 473.7L281.5 473.8L282.2 474.6L281.5 475L280.1 477.3L281.5 479.1L284.2 479.3L286.8 479.5L287.1 479.9L286.8 482.3L286.7 482.6L284.8 485.3L285.2 487.9L286.2 490.6L286.8 493.3L286.5 495.9L286.8 496L289.5 497.3L291 498.6L290.9 501.3L292.1 502.1L293.8 503.9L294.8 505.3L297.1 506.6L294.8 507.9L292.9 509.3ZM318.1 445.3L318.7 443.3L321.1 445.3L318.7 445.7ZM315.3 423.9L316 423.3L318.1 423.9L316 424.4ZM313 397.3L313.4 395.8L315.7 397.3L313.4 398.1ZM282.9 391.9L284.2 391.1L286.8 391.8L286.9 391.9L286.8 392L284.2 392.8ZM307.4 391.9L305.4 390L304.2 389.3L305.4 386.8L308.1 388.2L309.5 389.3L308.8 391.9L308.1 392.6ZM300.1 389.3L297.5 386.6L297.4 386.6L297.5 386.6L300.1 386.5L300.2 386.6L300.2 389.3L300.1 389.3ZM286.1 386.6L286.7 383.9L286.8 383.9L287 383.9L288 386.6L286.8 387.3ZM292 386.6L292.1 386.4L292.2 386.6L292.1 386.6ZM324 474.8L325.3 474.6L324 474.2L323.6 474.6ZM339.9 474.8L342.6 475.6L345.2 476.3L347.1 474.6L347.4 471.9L347.9 471.1L348.1 471.9L349.6 474.6L350.5 475.4L353.2 476.3L355.8 475.1L356.5 474.6L357.3 471.9L358.5 471L358.5 469.3L358.5 468.5L355.8 466.8L355.8 466.6L355.8 466.3L356.4 463.9L358.5 463.3L358.5 461.3L358.5 458.6L358.5 455.9L358.5 453.3L358.5 450.6L358.5 447.9L358.5 445.3L358.5 442.6L358.5 440.9L357.8 439.9L355.8 439.1L354.2 439.9L353.2 440.6L351.9 439.9L351.7 437.3L352.5 434.6L352 431.9L351 429.3L351.9 426.6L353.2 424.3L353.3 423.9L353.2 423.8L350.5 422.3L349.1 423.9L349.9 426.6L349.2 429.3L349.1 431.9L348.1 434.6L347.9 435.7L346.4 434.6L345.2 434.2L344.7 434.6L342.9 437.3L344.1 439.9L342.6 441.5L339.9 442.3L339.7 442.6L339.2 445.3L337.2 447.6L334.6 446.2L331.9 446.9L330.6 447.9L331.4 450.6L331.9 451.2L334.6 451.6L335.4 450.6L337.2 448.6L339.1 450.6L338.2 453.3L337.2 455L334.6 455.1L334.2 455.9L334.6 457.3L336.5 458.6L336.6 461.3L337.2 461.6L339.9 463.7L340.2 463.9L342.6 465.9L345.2 466.4L345.8 466.6L345.2 467.5L344.7 469.3L343.4 471.9L342.6 472.5L339.9 474.5L339.6 474.6ZM344.9 447.9L345.2 447.7L345.2 447.9L345.2 448ZM326.6 469.9L327.5 469.3L327.9 466.6L326.6 465.7L326.2 466.6L324.6 469.3ZM331.9 469.8L332.3 469.3L331.9 468.6L331.1 469.3ZM329.3 462.5L330.6 461.3L329.3 460.3L327.2 461.3ZM358.5 433L358.5 431.9L358.5 430.3L357.9 431.9ZM339.9 430.7L342.6 429.6L345.2 429.3L345.2 429.3L345.2 429.3L342.6 429L339.9 427.5L338.7 429.3ZM268.3 427.9L270.9 426.7L271.3 426.6L270.9 426.4L268.3 425.4L266.7 426.6ZM188.7 406.4L189.1 405.3L188.7 404L187.6 405.3ZM265.6 401.3L267.7 399.9L266.9 397.3L265.6 396.2L264.4 397.3L264.1 399.9ZM188.7 384.3L189.2 383.9L188.7 383.5L188.2 383.9ZM273.6 382.5L276.2 382.8L278.8 381.3L278.1 378.6L276.2 377.6L273.6 376.9L271.9 378.6L272.5 381.3ZM167.5 373.4L167.8 373.2L167.5 373.2L167.4 373.2ZM228.5 295.9L231.1 296.4L231.5 295.9L231.2 293.2L231.1 292.9L229.9 290.6L229 287.9L228.5 287.4L226.8 287.9L227.9 290.6L227.9 293.2L228.5 295.9ZM231.1 285.6L231.7 285.2L232.1 282.6L232.3 279.9L233.8 278.3L234.6 277.2L236.4 276.4L238.2 274.6L237.9 271.9L237.6 269.2L237.6 266.6L238.6 263.9L237.9 261.2L237.8 258.6L237.6 255.9L239.1 254.6L239.9 253.2L239.1 252.2L238.1 250.6L236.6 247.9L239.1 245.5L239.3 245.2L239.1 245.2L236.4 245.2L233.8 245.2L231.1 245.2L228.5 245.2L225.8 245.2L225.2 245.2L223.8 247.9L223.7 250.6L223.2 252.6L223 253.2L222.9 255.9L223.2 256.2L225.4 258.6L225.2 261.2L225.8 262.7L228.5 263.2L229 263.9L228.5 266.5L228.4 266.6L225.8 269.1L223.6 269.2L223.7 271.9L224.4 274.6L225.8 276.3L227.7 277.2L228.5 279.1L228.9 279.9L230 282.6L230.8 285.2ZM228 258.6L228.5 258.4L228.6 258.6L228.5 258.7Z" fill="#ffffcd"/><path d="M122.4 509.3L125 509.3L127.7 509.3L130.3 509.3L133 509.3L135.6 509.3L138.3 509.3L140.9 509.3L143.6 509.3L146.2 509.3L148.9 509.3L151.5 509.3L154.2 509.3L156.8 509.3L159.5 509.3L162.2 509.3L164.8 509.3L167.5 509.3L169.1 509.3L170.1 508.1L171.1 506.6L172.8 504.3L175.4 504.3L177.4 503.9L175.4 503.5L172.8 502.9L172.4 501.3L172.6 498.6L172.8 497.3L173.2 495.9L172.8 493.3L172.8 493.3L171.9 490.6L171.7 487.9L172.8 486.9L174.4 485.3L175.4 483.2L175.8 482.6L175.4 482.3L174.4 479.9L174.1 477.3L175.1 474.6L174.5 471.9L174.8 469.3L173.5 466.6L173.7 463.9L174.3 461.3L172.8 459.9L172.3 458.6L172.8 456.7L174.5 455.9L175.4 455.6L176.6 453.3L177 450.6L178.1 448.1L178.2 447.9L178.1 447.5L177.7 445.3L176.9 442.6L175.4 440.5L174.8 439.9L175.4 438.7L176.5 437.3L175.4 436L172.8 435.2L172.4 434.6L172.8 434.3L175.4 433.1L175.9 431.9L175.4 430.3L175.2 429.3L175.4 427.3L175.6 426.6L175.4 426.5L172.8 424.7L171.8 423.9L171.1 421.3L170.1 418.9L169.9 418.6L167.5 416.9L164.8 415.9L164.8 415.9L164.8 415.9L167.5 415.1L169.5 413.3L170.1 411.1L170.3 410.6L170.1 410L168.2 407.9L170.1 405.9L170.4 405.3L170.1 403.6L167.5 404.1L166.4 402.6L164.8 401.3L162.2 401.3L161.2 402.6L162.2 403.2L164.8 404.5L165.9 405.3L164.8 406.3L162.9 407.9L162.2 408.1L161.8 407.9L159.5 406.6L156.8 407.7L156.7 407.9L156.8 409.3L156.9 410.6L158.6 413.3L156.8 415.5L154.2 414.6L153.3 415.9L152.4 418.6L151.7 421.3L151.5 422.4L150.9 423.9L148.9 425.2L147.8 426.6L147.2 429.3L146.3 431.9L146.5 434.6L147.1 437.3L147 439.9L146.3 442.6L146.2 442.7L143.6 444.5L143.4 445.3L143.6 446L144.5 447.9L143.6 448.5L141.7 450.6L141.4 453.3L140.9 454.7L140.6 455.9L138.3 457.9L137.7 458.6L136.8 461.3L136.2 463.9L135.7 466.6L136.2 469.3L135.6 470L133 471.8L132.9 471.9L133 472.5L133.2 474.6L133.4 477.3L133 477.6L130.9 479.9L130.4 482.6L130.7 485.3L130.4 487.9L130.3 488.5L129.1 490.6L127.9 493.3L127.7 493.7L126.1 495.9L125 497.9L124.5 498.6L123.5 501.3L123.5 503.9L122.5 506.6L122.4 507.2L121.6 509.3ZM178.1 476.2L179.1 474.6L178.1 473.8L176.8 474.6ZM294.8 465.3L297.5 465.3L299.6 463.9L297.5 461.5L294.8 462.4L293.8 463.9ZM178.1 463.5L180 461.3L178.9 458.6L178.4 455.9L178.1 455.5L176.4 455.9L176.6 458.6L175.9 461.3ZM302.8 456.2L305.4 456.8L306.2 455.9L305.4 454L302.8 455.5L302.6 455.9ZM300.1 448.4L302.8 448L302.8 447.9L302.8 447.8L300.1 447.3L299.9 447.9ZM300.1 438.4L302.8 438.7L303.8 437.3L302.8 435.2L300.1 436.6L299.2 437.3ZM292.1 419.9L294.8 419.9L296.9 418.6L297.5 416.8L297.8 415.9L297.5 415L294.8 414.2L292.6 415.9L292.1 416.4L289.7 418.6ZM300.1 408.2L302.8 409.1L304.2 407.9L302.8 406.3L300.1 407.3L299.8 407.9Z" fill="#ffff5c"/><path d="M125 509.3L127.7 509.3L130.3 509.3L133 509.3L135.6 509.3L138.3 509.3L140.9 509.3L143.6 509.3L146.2 509.3L148.9 509.3L151.5 509.3L154.2 509.3L156.8 509.3L159.5 509.3L162.2 509.3L164.8 509.3L165.2 509.3L167.5 507.5L168.3 506.6L170 503.9L168.3 501.3L167.5 500.4L165 501.3L164.8 501.5L164.8 501.3L164.5 498.6L163.7 495.9L164.8 494.9L167.5 493.9L168.7 493.3L167.5 492.3L164.8 490.9L164.6 490.6L164.8 490.4L167.5 489.1L168.2 487.9L169.5 485.3L170.1 482.6L170.1 482.5L172.2 479.9L172.3 477.3L172.8 476.1L173.4 474.6L172.8 472.9L171.8 471.9L171.4 469.3L170.8 466.6L170.8 463.9L170.1 462.4L169.5 463.9L167.5 465.8L165.9 463.9L167 461.3L167.5 458.7L170.1 459L170.2 458.6L170.1 458.3L168.9 455.9L170.1 454.1L172.8 453.5L173 453.3L173.7 450.6L172.8 449.3L170.9 450.6L170.1 451.6L168.6 450.6L167.8 447.9L167.5 447.5L166.7 445.3L167.5 443.1L167.8 442.6L167.5 442L166.9 439.9L164.8 437.6L163.6 437.3L164.8 435.9L165.3 434.6L167.3 431.9L167.5 431.9L167.7 431.9L170.1 432.9L171.6 431.9L172.6 429.3L172.3 426.6L170.1 424.6L167.5 424L167.4 423.9L167.5 423.8L168.2 421.3L167.5 420.4L165.3 418.6L164.8 418.3L162.2 417.5L161.1 418.6L159.5 419.9L156.8 419.6L154.2 419.1L153.3 421.3L154.2 423.1L156.8 423.9L156.8 424L157.5 426.6L156.8 427.2L154.2 428.3L152.5 429.3L151.5 429.8L150 429.3L148.9 428.8L148.7 429.3L147.7 431.9L148.3 434.6L148.9 435.5L151.5 436.5L152.4 437.3L151.5 439.1L151.2 439.9L149.1 442.6L148.9 442.7L146.3 445.3L147.2 447.9L146.2 448.9L144.1 450.6L144.3 453.3L143.6 454.3L142.5 455.9L140.9 457.4L139.6 458.6L138.8 461.3L138.3 462.9L138.1 463.9L137.3 466.6L138.3 468.6L138.5 469.3L138.3 470.1L136.9 471.9L135.6 473.9L135.4 474.6L135.6 475.4L136 477.3L135.6 477.8L133.1 479.9L133 480.1L132 482.6L132.3 485.3L131.3 487.9L131.1 490.6L130.3 491.6L129.2 493.3L127.7 495.9L127.7 496L125.9 498.6L125.3 501.3L125.2 503.9L125 504.7L124.2 506.6L124.4 509.3ZM162 434.6L162.2 434.5L162.4 434.6L162.2 434.8ZM163.6 426.6L164.8 425.1L165.7 426.6L164.8 428.6ZM175.4 448.7L175.9 447.9L175.5 445.3L175.4 445L175.1 445.3L174.3 447.9ZM172.8 442.9L173 442.6L172.8 442.3L172.4 442.6ZM170.1 439L171.1 437.3L170.1 435.8L169 437.3Z" fill="#fffc03"/><path d="M127.7 509.3L130.3 509.3L133 509.3L135.6 509.3L138.3 509.3L140.9 509.3L143.6 509.3L146.2 509.3L148.9 509.3L151.5 509.3L154.2 509.3L156.8 509.3L159.5 509.3L161.9 509.3L160.9 506.6L159.5 506.1L156.8 506L155.6 503.9L156.8 503.3L159.5 502.4L161.9 501.3L162.2 501.1L163.2 498.6L162.2 496.9L161.5 495.9L162 493.3L161.8 490.6L162.2 490.4L164.8 488.4L165.4 487.9L164.8 486.6L164.1 485.3L164.8 484.7L167.3 485.3L167.5 485.3L167.5 485.3L168.7 482.6L170 479.9L170.1 479.7L170.9 477.3L170.1 474.6L170 474.6L169.3 471.9L167.5 470.2L165.4 469.3L166 466.6L164.8 465.1L164 463.9L164.8 463.3L166 461.3L165.8 458.6L164.8 456.6L162.2 456.7L161.6 455.9L162.2 455.3L164.8 455.3L166.2 453.3L164.8 451.8L162.2 451.7L161.5 450.6L161.2 447.9L162.2 447.1L164.6 445.3L164.8 444.9L166 442.6L164.8 440L164.6 439.9L162.2 439.2L160.7 437.3L159.5 436L157.4 434.6L156.8 432.2L156.6 431.9L154.2 431.4L153.3 431.9L153.4 434.6L154.2 435.2L155 437.3L155 439.9L154.2 440.7L151.5 441.8L150.9 442.6L148.9 443.9L147.6 445.3L148.7 447.9L146.3 450.6L146.2 451.4L146.1 453.3L145 455.9L143.6 456.3L141.2 458.6L141.9 461.3L143.6 462.6L144.4 463.9L143.6 464.4L140.9 465.3L139.3 466.6L139.4 469.3L138.9 471.9L138.3 473.7L137.6 474.6L137.2 477.3L135.6 479.5L135.1 479.9L133.5 482.6L133.8 485.3L133 486.2L132.1 487.9L132.7 490.6L130.5 493.3L130.3 493.6L129.1 495.9L127.7 497.8L127.1 498.6L127.6 501.3L126.3 503.9L125.3 506.6L125.8 509.3ZM161.8 479.9L162.2 478.9L162.8 479.9L162.2 481.2ZM163.5 477.3L164.8 476.8L167 477.3L164.8 478.1ZM153.7 445.3L154.2 444.8L154.8 445.3L154.2 446ZM159.5 430.5L162.2 429.9L162.5 429.3L162.2 428.7L159.5 427.5L157.9 429.3ZM167.5 429.5L170.1 430L170.7 429.3L170.8 426.6L170.1 426L168.2 426.6L167.5 428.2L167.2 429.3Z" fill="#ffec13"/><path d="M127.7 509.3L130.3 509.3L133 509.3L135.6 509.3L138.3 509.3L140.9 509.3L143.6 509.3L146.2 509.3L148.9 509.3L151.5 509.3L154.2 509.3L156.8 509.3L159.5 509.3L160.7 509.3L159.5 507.8L156.8 507.7L155.9 506.6L154.2 504.6L151.8 503.9L154.2 503.4L156.8 501.7L157.8 501.3L159.5 500.4L161.7 498.6L159.9 495.9L159.9 493.3L159.5 490.9L158.5 490.6L159.5 490.3L162.2 488.8L163.3 487.9L162.2 486.3L161.4 485.3L161.1 482.6L160.5 479.9L160.5 477.3L162.2 476.4L164.8 475.6L166.2 474.6L167.5 472.8L168 471.9L167.5 471.4L164.8 470L163.9 469.3L164.3 466.6L162.2 464.1L160.3 466.6L159.5 468.6L158.2 466.6L159.3 463.9L159.5 463.5L162.2 463.7L164.8 461.8L165.1 461.3L164.8 460.1L162.2 458.9L159.5 459.9L157.4 458.6L159.5 456.4L159.8 455.9L162 453.3L160.4 450.6L159.5 448L159.3 447.9L159.5 447.9L162.2 445.8L162.8 445.3L164.6 442.6L162.2 440.6L159.9 439.9L159.5 439.2L157.5 437.3L156.8 436.9L156.7 437.3L156.6 439.9L154.2 442.4L153.8 442.6L154.2 442.8L156.8 445.2L157 445.3L156.8 446.1L156.1 447.9L155 450.6L155.9 453.3L154.2 454.9L153.2 455.9L152.9 458.6L151.5 458.8L150.9 458.6L149.9 455.9L151.1 453.3L151.5 452.4L153.3 450.6L151.5 449.4L148.9 449.7L148 450.6L147.5 453.3L147.8 455.9L146.2 457.2L143.6 457.4L142.3 458.6L143.6 460.3L144.4 461.3L146.2 463.8L148.9 463.7L149.2 463.9L148.9 464.5L146.2 464L143.6 465.5L141.7 466.6L140.9 467.7L140.4 469.3L140.1 471.9L140.9 473.7L141.3 474.6L140.9 475.1L138.4 477.3L138.3 477.4L136.6 479.9L135.6 481.8L135.1 482.6L135.4 485.3L133 487.9L132.9 487.9L133 488L135.6 490L135.9 490.6L135.7 493.3L135.9 495.9L135.6 496.4L134.6 495.9L135.1 493.3L133 492.2L132.1 493.3L130.5 495.9L130.3 496L128.2 498.6L128.9 501.3L127.7 503.5L127.5 503.9L125.9 506.6L126.7 509.3ZM154 498.6L154.2 498.1L154.5 498.6L154.2 498.8ZM167.5 482.1L168.4 479.9L167.5 478.9L165.5 479.9ZM148.9 445.5L151.1 445.3L148.9 445.1L148.8 445.3Z" fill="#ffda25"/><path d="M127.7 509.3L130.3 509.3L133 509.3L135.6 509.3L138.3 509.3L140.9 509.3L143.6 509.3L146.2 509.3L148.9 509.3L151.5 509.3L154.2 509.3L156.8 509.3L159.2 509.3L156.8 508.9L154.8 506.6L154.2 505.9L151.5 505.5L150.7 503.9L151.5 503.3L154.2 502.5L155.9 501.3L154.2 499.8L153.1 498.6L152.6 495.9L154.2 495.4L156.4 495.9L156.5 498.6L156.8 499.1L159.5 498.7L159.7 498.6L159.5 498.3L157 495.9L156.8 494.4L156.7 493.3L155.6 490.6L156.8 488.3L157.2 487.9L159.5 485.4L159.6 485.3L159.6 482.6L159.5 482L159.3 479.9L159 477.3L158.8 474.6L159.5 472.8L161.6 474.6L162.2 474.9L163.9 474.6L164.8 474.3L166.4 471.9L164.8 471L162.7 469.3L163.3 466.6L162.2 465.3L161.1 466.6L161 469.3L159.5 470.9L158.6 469.3L156.9 466.6L158.3 463.9L158.8 461.3L156.8 460L154.8 461.3L154.2 462.1L154 461.3L151.5 459.6L149 458.6L148.9 458.2L148.2 458.6L146.2 459.9L145.9 461.3L146.2 461.7L148.9 462.9L150.2 463.9L148.9 466.2L146.2 464.8L143.6 466.6L143.6 466.6L141.4 469.3L141.1 471.9L142.2 474.6L140.9 476.4L139.9 477.3L138.3 479.6L138.1 479.9L138.3 480.4L138.8 482.6L138.5 485.3L138.3 485.8L135.6 486.8L134.6 487.9L135.6 488.7L136.6 490.6L136.1 493.3L136.3 495.9L135.6 497.4L133 496.1L130.3 497.3L129.2 498.6L130.1 501.3L128.4 503.9L127.7 504.7L126.4 506.6L127.6 509.3ZM151.4 471.9L151.5 471.8L151.7 471.9L151.5 472ZM162.2 462.6L163.8 461.3L162.2 460L160 461.3ZM143.6 458.7L144.3 458.6L143.6 458.5L143.5 458.6ZM159.5 454.8L160.9 453.3L159.5 450.9L157.7 453.3ZM159.5 446.2L160.7 445.3L162.2 444.3L163.4 442.6L162.2 441.6L159.5 440.5L156.8 441.3L155.6 442.6L156.8 443.8L158.6 445.3Z" fill="#ffc837"/><path d="M127.7 508.1L128.7 509.3L130.3 509.3L133 509.3L135.6 509.3L138.3 509.3L140.9 509.3L143.6 509.3L146.2 509.3L148.9 509.3L150.7 509.3L151.3 506.6L149.8 503.9L151.5 502.7L154.2 501.6L154.6 501.3L154.2 500.9L152.1 498.6L151.5 497.5L148.9 496L148.8 495.9L148.9 495.9L151.5 495.3L154.2 493.6L154.6 493.3L154.3 490.6L156 487.9L156.8 486.1L157.7 485.3L157.4 482.6L158.3 479.9L158.2 477.3L158.1 474.6L158.9 471.9L157.2 469.3L156.8 468.7L155.6 466.6L154.2 464.8L152.7 463.9L152.9 461.3L151.5 460.3L148.9 459.9L147.4 461.3L148.9 462.1L151.1 463.9L149.3 466.6L150.1 469.3L151.5 470.6L153.8 471.9L151.5 473.1L150.1 471.9L148.9 470.7L147.8 469.3L147.8 466.6L146.2 465.6L144.8 466.6L143.6 467.8L142.4 469.3L141.6 471.9L143.1 474.6L141.2 477.3L140.9 477.5L138.9 479.9L139.6 482.6L139.3 485.3L138.3 487.3L136.9 487.9L137.2 490.6L136.4 493.3L136.8 495.9L135.6 498.4L133 497L130.3 498.5L130.3 498.6L130.3 498.8L133 501.2L133.4 501.3L133 501.6L130.3 502.3L129.2 503.9L127.7 505.6L127 506.6ZM136.4 501.3L138.3 500.1L140.2 501.3L138.3 501.9ZM154.2 509.3L154.9 509.3L154.2 508.3L153.5 509.3ZM162.2 473.7L164.8 471.9L162.2 469.9L160.2 471.9ZM162.2 467.3L162.3 466.6L162.2 466.4L162 466.6ZM156.8 464.7L157.3 463.9L156.8 462.3L155.7 463.9ZM162.2 461.5L162.4 461.3L162.2 461.1L161.8 461.3ZM159.5 453.5L159.7 453.3L159.5 452.9L159.2 453.3ZM159.5 444.8L162.2 442.7L162.3 442.6L162.2 442.5L159.5 441.1L157 442.6Z" fill="#ffb649"/><path d="M127.7 506.8L129.8 509.3L130.3 509.3L133 509.3L135.6 509.3L138.3 509.3L140.9 509.3L143.6 509.3L146.2 509.3L148.9 509.3L149.5 509.3L150.6 506.6L149 503.9L151.5 502.1L153.3 501.3L151.5 499.3L151.1 498.6L148.9 496.8L147.1 495.9L148.9 495.4L151.5 494.6L153.4 493.3L151.5 491.3L150.6 490.6L151.5 489.4L154.2 489.3L155.1 487.9L156.5 485.3L156.3 482.6L156.8 480.9L157.3 479.9L157.5 477.3L157.4 474.6L157.8 471.9L156.8 470.4L155.8 469.3L154.2 466.6L154.2 466.6L151.5 464.4L149.9 466.6L151.4 469.3L151.5 469.4L154.2 470.9L155.4 471.9L154.2 473.9L151.5 474.3L148.9 472L148.7 471.9L146.7 469.3L146.5 466.6L146.2 466.5L146 466.6L143.6 469L143.3 469.3L142.1 471.9L143.6 474.2L144.7 474.6L143.6 475.3L142.3 477.3L140.9 478.3L139.5 479.9L140.3 482.6L140.2 485.3L138.9 487.9L138.3 489.2L137.9 490.6L136.8 493.3L137.3 495.9L137.9 498.6L138.3 498.8L140.9 499.7L141.3 501.3L140.9 502.4L138.3 502.8L135.6 502L133.6 503.9L133 504.5L131.3 503.9L130.3 503.5L130.1 503.9L127.7 506.4L127.6 506.6ZM142.8 482.6L143.6 482.1L144.1 482.6L143.6 483ZM147.9 482.6L148.9 481.7L149.9 482.6L148.9 483.6ZM151.3 479.9L151.5 478.1L151.7 477.3L154.2 475.2L155.6 477.3L155.4 479.9L154.2 480.2L151.5 480.2ZM133 499.7L134.3 498.6L133 497.9L131.8 498.6ZM162.2 472.7L163.2 471.9L162.2 471.1L161.3 471.9ZM151.5 462.2L151.9 461.3L151.5 461L149 461.3ZM159.5 443.8L161.1 442.6L159.5 441.8L158.1 442.6Z" fill="#ffa45b"/><path d="M130.3 508.9L130.9 509.3L133 509.3L135.6 509.3L138.3 509.3L140.9 509.3L143.6 509.3L146.2 509.3L148.6 509.3L148.9 508.5L149.8 506.6L148.9 505L148.2 503.9L148.9 501.8L151.5 501.4L151.9 501.3L151.5 500.9L150 498.6L148.9 497.7L146.2 496.1L145.5 495.9L146.2 495.6L148.9 494.9L151.5 493.9L152.4 493.3L151.5 492.3L149 490.6L151.1 487.9L151.5 487.8L154.2 487.9L156 485.3L155.6 482.6L154.2 481L151.5 481.8L151 482.6L148.9 484.6L146.8 482.6L148.9 480.7L150 479.9L151.1 477.3L150.9 474.6L148.9 472.9L147.6 471.9L146.2 470.1L143.6 470.1L142.7 471.9L143.6 473.4L146.2 473.9L146.7 474.6L146.2 475.9L143.6 477L143.4 477.3L140.9 479.1L140.2 479.9L140.9 482.1L143.6 480.6L145.5 482.6L143.6 484.2L141.1 485.3L140.9 485.4L140 487.9L139 490.6L138.3 490.9L137.2 493.3L137.8 495.9L138.3 497.4L140.9 498.2L141.1 498.6L141.8 501.3L140.9 503.9L138.3 503.6L135.6 503.2L134.8 503.9L133 505.7L130.3 504.4L128.2 506.6ZM138.3 506.6L138.3 506.5L138.3 506.6L138.3 506.6ZM154.2 469.5L154.5 469.3L154.2 468.8L153.3 466.6L151.5 465.2L150.5 466.6L151.5 468.4L153.7 469.3ZM159.5 442.9L159.9 442.6L159.5 442.4L159.2 442.6Z" fill="#ff926d"/><path d="M130.3 508.3L132.1 509.3L133 509.3L135.6 509.3L138.3 509.3L140.9 509.3L143.6 509.3L146.2 509.3L148.2 509.3L148.9 507L149.1 506.6L148.9 506.2L147.5 503.9L148.2 501.3L148.9 498.6L148.9 498.6L148.9 498.6L146.2 496.6L143.9 495.9L146.2 494.8L148.9 494.4L151.5 493.3L148.9 491.3L147.5 490.6L148.8 487.9L148.3 485.3L146.2 483.3L143.7 485.3L143.6 485.3L141 487.9L140.9 490.6L140.9 490.6L138.3 491.7L137.6 493.3L138.2 495.9L138.3 496.1L140.9 497.5L141.5 498.6L142.3 501.3L142.6 503.9L140.9 504.6L138.9 506.6L138.3 507.2L136.9 506.6L135.6 504.6L133.4 506.6L133 507.1L132.8 506.6L130.3 505L128.7 506.6ZM143.3 493.3L143.6 492.6L143.9 493.3L143.6 494.7ZM151.5 486.9L154.2 487.1L155.5 485.3L154.9 482.6L154.2 481.8L152.5 482.6L151.5 483.2L149.4 485.3ZM140.9 480L141.2 479.9L140.9 479.9L140.9 479.9ZM146.2 481.6L148.3 479.9L148.9 479.8L150.5 477.3L149.9 474.6L148.9 473.7L147.7 474.6L146.6 477.3L146.2 478.3L144.7 479.9ZM143.6 472.5L146.2 472.3L146.5 471.9L146.2 471.5L143.6 471.2L143.2 471.9ZM151.5 467.4L152.3 466.6L151.5 466L151.1 466.6Z" fill="#ff827d"/><path d="M130.3 507.6L131.9 506.6L130.3 505.6L129.3 506.6ZM135.6 509.3L138.3 509.3L140.9 509.3L143.6 509.3L146.2 509.3L147.7 509.3L148.5 506.6L146.8 503.9L147.2 501.3L148.3 498.6L146.2 497L143.6 496.3L142.5 495.9L142.4 493.3L140.9 491.6L138.3 492.6L138 493.3L138.3 494.5L139.5 495.9L140.9 496.8L141.8 498.6L142.9 501.3L143.6 503.3L144.5 503.9L143.6 504.2L140.9 505.2L139.5 506.6L138.3 507.8L135.6 506.7L133.3 509.3ZM146.2 494.1L148.9 493.9L150.4 493.3L148.9 492.2L146.2 491.1L145 493.3ZM143.6 490.4L146.2 490.4L148.1 487.9L146.9 485.3L146.2 484.6L145.4 485.3L143.6 485.9L141.6 487.9ZM151.5 485.9L154.2 486.4L155 485.3L154.2 482.7L151.5 484.4L150.6 485.3ZM148.9 479L150 477.3L149 474.6L148.9 474.5L148.8 474.6L147.3 477.3Z" fill="#ff708f"/><path d="M130.3 507L130.9 506.6L130.3 506.2L129.9 506.6ZM135.6 509.3L138.3 509.3L140.9 509.3L143.6 509.3L146.2 509.3L147.2 509.3L148 506.6L146.2 504L143.6 504.9L140.9 505.8L140.2 506.6L138.3 508.4L135.6 507.9L134.4 509.3ZM143.6 501.8L146.2 502.4L146.3 501.3L147.8 498.6L146.2 497.4L143.6 496.8L142.2 498.6L143.4 501.3ZM140.9 496L141.1 495.9L141.5 493.3L140.9 492.6L139 493.3L140.8 495.9ZM146.2 493.3L148.9 493.4L149.3 493.3L148.9 493L146.2 493.1L146.2 493.3ZM143.6 489.6L146.2 489.3L147.3 487.9L146.2 486L143.6 486.6L142.3 487.9ZM154.2 485.7L154.5 485.3L154.2 484.3L152.3 485.3ZM148.9 478.2L149.5 477.3L148.9 475.7L148 477.3Z" fill="#ff5ea1"/><path d="M135.6 509.3L138.3 509.3L140.9 509.3L143.6 509.3L146.2 509.3L146.8 509.3L147.5 506.6L146.2 504.8L143.6 505.5L140.9 506.5L140.8 506.6L138.3 509.1L135.6 509.1L135.4 509.3ZM143.6 500.8L146.2 500.3L147.2 498.6L146.2 497.9L143.6 497.3L142.6 498.6ZM143.6 488.8L146.2 488.3L146.5 487.9L146.2 487.4L143.6 487.3L142.9 487.9ZM148.9 477.4L149 477.3L148.9 477L148.7 477.3Z" fill="#fe4cb3"/><path d="M140.9 509.3L143.6 509.3L146.2 509.3L146.3 509.3L146.9 506.6L146.2 505.6L143.6 506.1L142.3 506.6L140.9 507L138.6 509.3ZM143.6 500L146.2 499.3L146.6 498.6L146.2 498.3L143.6 497.7L142.9 498.6ZM143.6 488L143.7 487.9L143.6 487.9L143.6 487.9Z" fill="#e23ac5"/><path d="M140.9 509.3L143.6 509.3L145.8 509.3L146.2 507.3L146.4 506.6L146.2 506.4L144.8 506.6L143.6 506.7L140.9 507.5L139.1 509.3ZM143.6 499.2L145.5 498.6L143.6 498.2L143.3 498.6Z" fill="#c628d7"/><path d="M140.9 509.3L143.6 509.3L145.3 509.3L143.6 507.3L140.9 507.9L139.6 509.3Z" fill="#ad18e7"/><path d="M140.9 509.3L143.6 509.3L144.8 509.3L143.6 507.9L140.9 508.4L140.1 509.3Z" fill="#9106f9"/><path d="M140.9 509.3L143.6 509.3L144.3 509.3L143.6 508.4L140.9 508.9L140.5 509.3Z" fill="#7400ff"/><path d="M143.6 509.3L143.9 509.3L143.6 509L141.6 509.3Z" fill="#5800ff"/></g><path d="M160.82 243.9V510.6M227.15 243.9V510.6M293.48 243.9V510.6" stroke="#a8a8a8" stroke-opacity="0.62" stroke-width="1.15" fill="none"/><path d="M94.5 466.15H359.8M94.5 421.7H359.8M94.5 377.25H359.8M94.5 332.8H359.8M94.5 288.35H359.8" stroke="#a8a8a8" stroke-opacity="0.62" stroke-width="1.15" fill="none"/><g clip-path="url(#cm11)" stroke="#000" stroke-width="2.45" stroke-dasharray="9 3.9"><line x1="193.99" y1="243.9" x2="193.99" y2="510.6"/><line x1="94.5" y1="377.25" x2="359.8" y2="377.25" stroke-dashoffset="2.56"/></g><rect x="94.5" y="243.9" width="265.3" height="266.7" fill="none" stroke="#000" stroke-width="1.4"/><path d="M94.5 510.6v5.6M160.82 510.6v5.6M227.15 510.6v5.6M293.48 510.6v5.6M359.8 510.6v5.6M94.5 466.15h-5.6M94.5 421.7h-5.6M94.5 377.25h-5.6M94.5 332.8h-5.6M94.5 288.35h-5.6M94.5 243.9h-5.6" stroke="#000" stroke-width="1.4"/><text transform="translate(94.5,538.2) scale(0.94,1)" font-family="'DejaVu Serif', serif" font-size="20.8" text-anchor="middle">1</text><text transform="translate(160.82,538.2) scale(0.94,1)" font-family="'DejaVu Serif', serif" font-size="20.8" text-anchor="middle">2</text><text transform="translate(227.15,538.2) scale(0.94,1)" font-family="'DejaVu Serif', serif" font-size="20.8" text-anchor="middle">3</text><text transform="translate(293.48,538.2) scale(0.94,1)" font-family="'DejaVu Serif', serif" font-size="20.8" text-anchor="middle">4</text><text transform="translate(359.8,538.2) scale(0.94,1)" font-family="'DejaVu Serif', serif" font-size="20.8" text-anchor="middle">5</text><text transform="translate(81.8,474.45) scale(0.94,1)" font-family="'DejaVu Serif', serif" font-size="20.8" text-anchor="end">15</text><text transform="translate(81.8,430) scale(0.94,1)" font-family="'DejaVu Serif', serif" font-size="20.8" text-anchor="end">30</text><text transform="translate(81.8,385.55) scale(0.94,1)" font-family="'DejaVu Serif', serif" font-size="20.8" text-anchor="end">45</text><text transform="translate(81.8,341.1) scale(0.94,1)" font-family="'DejaVu Serif', serif" font-size="20.8" text-anchor="end">60</text><text transform="translate(81.8,296.65) scale(0.94,1)" font-family="'DejaVu Serif', serif" font-size="20.8" text-anchor="end">75</text><text transform="translate(81.8,252.2) scale(0.94,1)" font-family="'DejaVu Serif', serif" font-size="20.8" text-anchor="end">90</text><text x="227.5" y="575.5" font-family="'DejaVu Serif', serif" font-size="29" text-anchor="middle">distance (<tspan font-family="'DejaVu Sans', sans-serif" font-style="italic">Å</tspan>)</text><text transform="translate(44.6,523.3) rotate(-90)" font-family="'DejaVu Sans', sans-serif" font-size="24.5" textLength="295" lengthAdjust="spacingAndGlyphs">∠<tspan font-style="italic">C</tspan><tspan font-size="17" dy="4">2</tspan><tspan dy="-4"> = (</tspan><tspan font-style="italic">O</tspan><tspan font-size="17" dy="4">2</tspan><tspan dy="-4">)⋯(</tspan><tspan font-style="italic">D</tspan><tspan font-size="17" dy="4">2</tspan><tspan dy="-4">)</tspan><tspan font-style="italic">O</tspan><tspan font-family="'DejaVu Serif', serif" font-size="24.5"> (deg)</tspan></text><path d="M392.42 243.9V510.6M444.06 243.9V510.6" stroke="#a8a8a8" stroke-opacity="0.62" stroke-width="1.15" fill="none"/><path d="M366.6 466.15H495.7M366.6 421.7H495.7M366.6 377.25H495.7M366.6 332.8H495.7M366.6 288.35H495.7" stroke="#a8a8a8" stroke-opacity="0.62" stroke-width="1.15" fill="none"/><g clip-path="url(#cr11)"><polyline points="366.75,243.62 366.75,246.69 366.75,249.76 366.75,252.83 366.75,255.89 366.75,258.96 366.75,262.03 366.75,265.1 366.75,268.17 366.75,271.24 366.75,274.31 366.75,277.38 366.75,280.45 366.75,283.52 366.75,286.58 366.75,289.65 366.75,292.72 366.75,295.79 366.75,298.86 366.75,301.93 366.75,305 366.75,308.07 366.75,311.14 366.75,314.2 366.75,317.27 366.75,320.34 366.75,323.41 366.75,326.48 366.75,329.55 366.75,332.62 366.75,335.69 366.75,338.76 366.75,341.83 366.75,344.89 366.75,347.96 366.75,351.03 366.75,354.1 366.75,357.17 366.75,360.24 366.75,363.31 366.75,366.38 366.75,369.45 366.75,372.51 366.75,376.87 368.95,379.05 371.43,380.98 373.34,383.4 372.69,386.5 370.07,389.93 368.41,393.2 366.75,396.47 367.86,399.37 368.96,402.27 370.07,405.17 370.16,409.86 372.25,413.88 375.26,417.38 377.69,420.42 379.3,422.73 381.6,424.41 384.22,426.95 385.86,430.43 388.58,433.48 392.65,436.28 396.2,437.83 397.97,440.89 398.38,444.37 400.27,447.3 401.64,450.9 404.95,453.32 408.17,456.34 410.6,458.89 414.71,461.78 419.02,463.47 421.24,466.14 425.59,469.4 425.59,472.67 429.72,474.96 433.21,477.03 428.79,478.18 425.59,479.2 424.5,482.47 426.85,485.63 428.86,486.82 432.83,488.43 436.48,490.09 441,491.26 443.01,492.27 448.06,493.63 449.54,495.53 448.45,499.89 450.63,505.33 453.38,505.3 456.12,506.54 460.43,507.07 463.74,507.1 465.93,506.84 470.43,508.16 473.78,508.68 475.67,507.94 479.09,507.72 480.25,507.83 485.28,508.8 488.3,508.01 493.21,509.6 495.7,509.25" fill="none" stroke="#000" stroke-width="3.9" stroke-linejoin="round" stroke-dasharray="14.8 6.4"/></g><rect x="366.6" y="243.9" width="129.1" height="266.7" fill="none" stroke="#000" stroke-width="1.4"/><path d="M392.42 510.6v5.6M444.06 510.6v5.6M495.7 510.6v5.6M495.7 466.15h5.6M495.7 421.7h5.6M495.7 377.25h5.6M495.7 332.8h5.6M495.7 288.35h5.6M495.7 243.9h5.6" stroke="#000" stroke-width="1.4"/><text transform="translate(392.42,538.2) scale(0.94,1)" font-family="'DejaVu Serif', serif" font-size="20.8" text-anchor="middle">0.2</text><text transform="translate(444.06,538.2) scale(0.94,1)" font-family="'DejaVu Serif', serif" font-size="20.8" text-anchor="middle">0.6</text><text transform="translate(495.7,538.2) scale(0.94,1)" font-family="'DejaVu Serif', serif" font-size="20.8" text-anchor="middle">1.0</text><text transform="translate(507.4,474.25) scale(0.94,1)" font-family="'DejaVu Serif', serif" font-size="20.8" text-anchor="start">15</text><text transform="translate(507.4,429.8) scale(0.94,1)" font-family="'DejaVu Serif', serif" font-size="20.8" text-anchor="start">30</text><text transform="translate(507.4,385.35) scale(0.94,1)" font-family="'DejaVu Serif', serif" font-size="20.8" text-anchor="start">45</text><text transform="translate(507.4,340.9) scale(0.94,1)" font-family="'DejaVu Serif', serif" font-size="20.8" text-anchor="start">60</text><text transform="translate(507.4,296.45) scale(0.94,1)" font-family="'DejaVu Serif', serif" font-size="20.8" text-anchor="start">75</text><text transform="translate(507.4,252) scale(0.94,1)" font-family="'DejaVu Serif', serif" font-size="20.8" text-anchor="start">90</text><text x="431.4" y="581.2" font-family="'DejaVu Sans', sans-serif" font-size="29.5" text-anchor="middle"><tspan font-style="italic">g</tspan>(<tspan font-style="italic">θ</tspan>)</text><rect x="564.6" y="557.36" width="6.4" height="11.56" fill="#ffffcd"/><rect x="564.6" y="546.51" width="6.4" height="11.56" fill="#ffff5c"/><rect x="564.6" y="535.65" width="6.4" height="11.56" fill="#fffc03"/><rect x="564.6" y="524.8" width="6.4" height="11.56" fill="#ffec13"/><rect x="564.6" y="513.94" width="6.4" height="11.56" fill="#ffda25"/><rect x="564.6" y="503.08" width="6.4" height="11.56" fill="#ffc837"/><rect x="564.6" y="492.23" width="6.4" height="11.56" fill="#ffb649"/><rect x="564.6" y="481.37" width="6.4" height="11.56" fill="#ffa45b"/><rect x="564.6" y="470.52" width="6.4" height="11.56" fill="#ff926d"/><rect x="564.6" y="459.66" width="6.4" height="11.56" fill="#ff827d"/><rect x="564.6" y="448.81" width="6.4" height="11.56" fill="#ff708f"/><rect x="564.6" y="437.95" width="6.4" height="11.56" fill="#ff5ea1"/><rect x="564.6" y="427.09" width="6.4" height="11.56" fill="#fe4cb3"/><rect x="564.6" y="416.24" width="6.4" height="11.56" fill="#e23ac5"/><rect x="564.6" y="405.38" width="6.4" height="11.56" fill="#c628d7"/><rect x="564.6" y="394.53" width="6.4" height="11.56" fill="#ad18e7"/><rect x="564.6" y="383.67" width="6.4" height="11.56" fill="#9106f9"/><rect x="564.6" y="372.81" width="6.4" height="11.56" fill="#7400ff"/><rect x="564.6" y="361.96" width="6.4" height="11.56" fill="#5800ff"/><rect x="564.6" y="351.1" width="6.4" height="11.56" fill="#3c00ff"/><rect x="564.6" y="340.25" width="6.4" height="11.56" fill="#2300ff"/><rect x="564.6" y="329.39" width="6.4" height="11.56" fill="#0700ff"/><rect x="564.6" y="318.54" width="6.4" height="11.56" fill="#0000e4"/><rect x="564.6" y="307.68" width="6.4" height="11.56" fill="#0000c0"/><rect x="564.6" y="296.82" width="6.4" height="11.56" fill="#00009c"/><rect x="564.6" y="285.97" width="6.4" height="11.56" fill="#000078"/><rect x="564.6" y="275.11" width="6.4" height="11.56" fill="#000058"/><rect x="564.6" y="264.26" width="6.4" height="11.56" fill="#000034"/><rect x="564.6" y="253.4" width="6.4" height="11.56" fill="#000010"/><rect x="564.6" y="253.4" width="6.4" height="314.7" fill="none" stroke="#000" stroke-width="1.1"/><path d="M571 539.6h5.6M571 507.8h5.6M571 476h5.6M571 444.2h5.6M571 412.4h5.6M571 380.6h5.6M571 348.8h5.6M571 317h5.6M571 285.2h5.6M571 253.4h5.6" stroke="#000" stroke-width="1.4"/><text transform="translate(582.3,547.5) scale(0.94,1)" font-family="'DejaVu Serif', serif" font-size="20.8" text-anchor="start">0.1</text><text transform="translate(582.3,515.7) scale(0.94,1)" font-family="'DejaVu Serif', serif" font-size="20.8" text-anchor="start">0.2</text><text transform="translate(582.3,483.9) scale(0.94,1)" font-family="'DejaVu Serif', serif" font-size="20.8" text-anchor="start">0.3</text><text transform="translate(582.3,452.1) scale(0.94,1)" font-family="'DejaVu Serif', serif" font-size="20.8" text-anchor="start">0.4</text><text transform="translate(582.3,420.3) scale(0.94,1)" font-family="'DejaVu Serif', serif" font-size="20.8" text-anchor="start">0.5</text><text transform="translate(582.3,388.5) scale(0.94,1)" font-family="'DejaVu Serif', serif" font-size="20.8" text-anchor="start">0.6</text><text transform="translate(582.3,356.7) scale(0.94,1)" font-family="'DejaVu Serif', serif" font-size="20.8" text-anchor="start">0.7</text><text transform="translate(582.3,324.9) scale(0.94,1)" font-family="'DejaVu Serif', serif" font-size="20.8" text-anchor="start">0.8</text><text transform="translate(582.3,293.1) scale(0.94,1)" font-family="'DejaVu Serif', serif" font-size="20.8" text-anchor="start">0.9</text><text transform="translate(582.3,261.3) scale(0.94,1)" font-family="'DejaVu Serif', serif" font-size="20.8" text-anchor="start">1.0</text><text transform="translate(639.1,411.7) rotate(-90)" font-family="'DejaVu Serif', serif" font-size="24.7" text-anchor="middle">probability</text><text x="326.85" y="49.9" font-family="'Liberation Serif', serif" font-size="44" text-anchor="middle" textLength="175.6" lengthAdjust="spacingAndGlyphs">3.0 Å, 30°</text></g><g transform="translate(1407.1,657.3)"><clipPath id="ct21"><rect x="94.5" y="106.6" width="265.3" height="130.5"/></clipPath><clipPath id="cm21"><rect x="94.5" y="243.9" width="265.3" height="266.7"/></clipPath><clipPath id="cr21"><rect x="366.6" y="243.9" width="129.1" height="266.7"/></clipPath></g><g transform="translate(1407.1,657.3)"><path d="M160.82 106.6V237.1M227.15 106.6V237.1M293.48 106.6V237.1" stroke="#b0b0b0" stroke-opacity="0.55" stroke-width="1.15" fill="none"/><path d="M94.5 199.81H359.8M94.5 181.17H359.8M94.5 162.53H359.8M94.5 143.89H359.8M94.5 125.24H359.8" stroke="#b0b0b0" stroke-opacity="0.55" stroke-width="1.15" fill="none"/><g clip-path="url(#ct21)" fill="none" stroke-linejoin="round"><polyline points="94.78,235.82 120.83,235.6 124.15,233.83 126.93,229.39 129.14,221.63 131.36,211.66 133.58,197.25 135.24,183.94 136.9,168.43 138.56,154.02 140.23,140.71 141.89,129.63 143.55,124.64 145.77,122.42 147.99,124.64 149.65,130.74 151.31,140.71 152.97,151.8 154.64,162.88 156.3,175.08 157.96,187.27 160.18,200.57 162.4,211.66 165.17,221.63 168.49,228.28 172.93,232.72 177.36,234.38 181.79,235.16 184.57,235.04 187.34,234.93 190.11,234.66 192.88,234.38 196.2,234.1 199.53,233.83 202.86,233.3 206.18,233.27 209.51,231.69 212.83,232.16 215.6,232.69 218.37,231.61 222.81,231.05 220.9,232.73 224.23,230.51 227.55,224.97 230.32,218.32 233.09,208.34 236.42,201.69 239.19,195.04 240.85,192.26 245.29,192.82 248.61,195.59 251.39,200.58 254.71,207.78 258.04,212.22 261.36,216.1 265.24,217.76 268.01,219.55 270.79,217.76 274.11,218.87 276.88,219.43 279.65,219.42 282.98,217.76 287.41,216.65 290.19,216.87 292.96,215.54 295.73,216.04 298.5,214.99 302.93,216.1 306.26,218.27 309.59,219.42 314.02,217.21 318.45,216.1 321.22,215.77 324,214.44 328.43,213.88 331.76,211.66 335.08,208.89 339.52,208.89 342.84,207.78 347.28,204.46 351.71,203.9 356.14,202.8 359.47,201.69 362.24,201.13" stroke="#ff0000" stroke-width="4.0"/><polyline points="94.78,235.82 120.83,235.6 124.15,233.83 126.93,229.39 129.14,221.63 131.36,211.66 133.58,197.25 135.24,183.94 136.9,168.43 138.56,154.02 140.23,140.71 141.89,129.63 143.55,124.64 145.77,122.42 147.99,124.64 149.65,130.74 151.31,140.71 152.97,151.8 154.64,162.88 156.3,175.08 157.96,187.27 160.18,200.57 162.4,211.66 165.17,221.63 168.49,228.28 172.93,232.72 177.36,234.38 181.79,235.16 190.66,235.82 201.75,235.82 362.8,235.82" stroke="#000" stroke-width="4.0" stroke-dasharray="14.8 6.4"/><line x1="193.99" y1="142.15" x2="361.8" y2="142.15" stroke="#000" stroke-width="3.3" stroke-dasharray="3.3 5.4"/><polyline points="132.47,233.27 136.9,225.51 139.67,217.75 141.89,208.88 144.11,200.57 146.32,192.81 147.99,184.5 150.2,176.18 152.42,167.32 155.19,160.11 160.18,152.35 166.28,146.81 174.59,144.04 182.9,143.48 191.22,142.38 200.08,141.6 208.4,140.16 216.71,137.39 224.47,133.51 224.23,133.51 229.77,126.86 232.87,119.1 235.31,110.56 236.97,104.13 237.53,100.81" stroke="#ff0000" stroke-width="3.3" stroke-dasharray="3.3 5.4"/></g><rect x="94.5" y="106.6" width="265.3" height="130.5" fill="none" stroke="#000" stroke-width="1.4"/><path d="M94.5 106.6v-5.6M160.82 106.6v-5.6M227.15 106.6v-5.6M293.48 106.6v-5.6M359.8 106.6v-5.6M94.5 199.81h-5.6M94.5 181.17h-5.6M94.5 162.53h-5.6M94.5 143.89h-5.6M94.5 125.24h-5.6" stroke="#000" stroke-width="1.4"/><text transform="translate(94.5,92) scale(0.94,1)" font-family="'DejaVu Serif', serif" font-size="20.8" text-anchor="middle">1</text><text transform="translate(160.82,92) scale(0.94,1)" font-family="'DejaVu Serif', serif" font-size="20.8" text-anchor="middle">2</text><text transform="translate(227.15,92) scale(0.94,1)" font-family="'DejaVu Serif', serif" font-size="20.8" text-anchor="middle">3</text><text transform="translate(293.48,92) scale(0.94,1)" font-family="'DejaVu Serif', serif" font-size="20.8" text-anchor="middle">4</text><text transform="translate(359.8,92) scale(0.94,1)" font-family="'DejaVu Serif', serif" font-size="20.8" text-anchor="middle">5</text><text transform="translate(81.8,208.11) scale(0.94,1)" font-family="'DejaVu Serif', serif" font-size="20.8" text-anchor="end">0.8</text><text transform="translate(81.8,189.47) scale(0.94,1)" font-family="'DejaVu Serif', serif" font-size="20.8" text-anchor="end">1.2</text><text transform="translate(81.8,170.83) scale(0.94,1)" font-family="'DejaVu Serif', serif" font-size="20.8" text-anchor="end">1.6</text><text transform="translate(81.8,152.19) scale(0.94,1)" font-family="'DejaVu Serif', serif" font-size="20.8" text-anchor="end">2.0</text><text transform="translate(81.8,133.54) scale(0.94,1)" font-family="'DejaVu Serif', serif" font-size="20.8" text-anchor="end">2.4</text><text transform="translate(37.0,174.5) rotate(-90)" font-family="'DejaVu Serif', serif" font-size="29" text-anchor="middle">g(r)</text><g clip-path="url(#cm21)"><path d="M125 509.3L127.7 509.3L130.3 509.3L133 509.3L135.6 509.3L138.3 509.3L140.9 509.3L143.6 509.3L146.2 509.3L148.9 509.3L151.5 509.3L154.2 509.3L156.8 509.3L159.5 509.3L162.2 509.3L164.8 509.3L167.5 509.3L170.1 509.3L172.8 509.3L175.4 509.3L178.1 509.3L180.7 509.3L181.9 509.3L182.3 506.6L180.7 504.8L180.2 503.9L178.6 501.3L179.9 498.6L179 495.9L179 493.3L179.2 490.6L179.8 487.9L178.1 486L176.9 485.3L177.4 482.6L175.4 481.1L172.8 480L172.8 479.9L170.9 477.3L171.1 474.6L170.1 473L167.5 473.6L166.4 471.9L165.6 469.3L164.8 468.4L162.2 467.1L159.5 466.8L159.4 466.6L159.5 465.9L160.5 463.9L159.5 463L157 461.3L156.8 461.2L156.7 461.3L154.2 463L152.5 463.9L151.5 464.1L150.2 463.9L148.9 463.3L146.2 462.3L143.6 463L140.9 462.8L139.6 463.9L139.8 466.6L138.4 469.3L138.3 469.6L135.6 471.3L135.1 471.9L133.7 474.6L133 475.4L131.6 477.3L131.5 479.9L130.3 482.5L130.2 482.6L128 485.3L127.7 487.6L127.6 487.9L127 490.6L125.5 493.3L125.3 495.9L125.5 498.6L125 501.1L124.9 501.3L124.8 503.9L123.5 506.6L123.1 509.3Z" fill="#ffffcd"/><path d="M127.7 509.3L130.3 509.3L133 509.3L135.6 509.3L138.3 509.3L140.9 509.3L143.6 509.3L146.2 509.3L148.9 509.3L151.5 509.3L154.2 509.3L156.8 509.3L159.5 509.3L162.2 509.3L164.8 509.3L167.5 509.3L170.1 509.3L171.2 509.3L170.1 506.9L169.9 506.6L170.1 505.3L170.9 503.9L170.1 503.4L169.9 501.3L170.1 499.8L170.6 498.6L170.9 495.9L171.8 493.3L170.1 491.2L168.9 490.6L167.5 489.2L166.7 487.9L167.4 485.3L167.5 485L167.8 482.6L167.5 482.2L165.1 479.9L164.8 479.7L162.2 477.9L161.7 477.3L159.5 474.9L159.4 474.6L156.8 473L155.7 471.9L154.2 470.2L151.5 469.8L148.9 469.7L146.2 471.1L143.6 471.6L142.9 471.9L141.9 474.6L140.9 474.8L138.3 475.5L135.8 477.3L135.6 477.8L134.8 479.9L134.1 482.6L133.3 485.3L133 485.9L131.7 487.9L130.9 490.6L130.3 492.9L130.1 493.3L129.1 495.9L129.1 498.6L128.1 501.3L127.7 503.3L127.5 503.9L126.6 506.6L126.3 509.3Z" fill="#ffff5c"/><path d="M130.3 509.3L133 509.3L135.6 509.3L138.3 509.3L140.9 509.3L143.6 509.3L146.2 509.3L148.9 509.3L151.5 509.3L154.2 509.3L156.8 509.3L159.5 509.3L162.2 509.3L164.8 509.3L167 509.3L165.4 506.6L167.5 505.4L168.7 503.9L168.4 501.3L168.1 498.6L167.5 497.5L166.4 495.9L165.8 493.3L164.8 492.5L163.9 490.6L163 487.9L162.2 486.5L161.6 485.3L159.8 482.6L159.5 482.3L156.8 481.3L154.6 479.9L154.2 479.4L153.5 477.3L154.2 475.2L154.6 474.6L154.2 474.2L151.5 473.8L150.4 474.6L148.9 475.2L146.2 475.8L143.6 476.8L140.9 476.6L138.3 477.1L138.1 477.3L136.6 479.9L135.9 482.6L136 485.3L135.6 487.9L135.6 488L133 489.5L132.4 490.6L131.1 493.3L130.7 495.9L130.6 498.6L130.3 499.7L129.5 501.3L128.4 503.9L127.9 506.6L127.8 509.3Z" fill="#fffc03"/><path d="M130.3 509.3L133 509.3L135.6 509.3L138.3 509.3L140.9 509.3L143.6 509.3L146.2 509.3L148.9 509.3L151.5 509.3L154.2 509.3L156.8 509.3L159.5 509.3L162.2 509.3L164.8 509.3L165.3 509.3L164.8 508.6L162.9 506.6L164.8 505.5L167.2 503.9L166.3 501.3L164.8 499.3L164.5 498.6L164.4 495.9L164.1 493.3L162.2 490.6L162.2 490.4L161.5 487.9L159.5 485.3L159.5 485.2L156.8 483.2L155 482.6L154.2 482L153 479.9L151.5 477.4L148.9 477.5L146.2 477.4L143.6 479.1L140.9 479.1L138.3 479.8L138.2 479.9L137.7 482.6L138.3 483.7L139.1 485.3L138.3 486.3L137.3 487.9L135.8 490.6L135.6 490.8L133 491.4L131.9 493.3L131.4 495.9L131.2 498.6L130.5 501.3L130.3 501.8L129.1 503.9L128.5 506.6L128.4 509.3Z" fill="#ffec13"/><path d="M130.3 509.3L133 509.3L135.6 509.3L138.3 509.3L140.9 509.3L143.6 509.3L146.2 509.3L148.9 509.3L151.5 509.3L154.2 509.3L156.8 509.3L159.5 509.3L162.2 509.3L163.4 509.3L162.2 507.9L161.7 506.6L162.2 504.4L164.8 504.1L165.1 503.9L164.8 503.4L162.2 501.3L162.1 501.3L162.2 501.2L162.3 498.6L163.4 495.9L163.2 493.3L162.2 491.8L161.1 490.6L160.6 487.9L159.5 486.4L158 485.3L156.8 484.4L154.2 483.8L153.1 482.6L151.6 479.9L151.5 479.8L148.9 478.8L146.2 478.9L144.8 479.9L146 482.6L143.6 483.2L141.2 485.3L140.9 485.3L138.6 487.9L138.3 488.5L136.9 490.6L135.6 491.6L133 492.7L132.7 493.3L132.1 495.9L131.8 498.6L131 501.3L130.3 503.2L129.9 503.9L129 506.6L129 509.3Z" fill="#ffda25"/><path d="M130.3 509.3L133 509.3L135.6 509.3L138.3 509.3L140.9 509.3L143.6 509.3L146.2 509.3L148.9 509.3L151.5 509.3L154.2 509.3L156.8 509.3L159.5 509.3L161.8 509.3L161.1 506.6L161.3 503.9L161.4 501.3L161.3 498.6L162.2 496.3L162.3 495.9L162.3 493.3L162.2 493.1L160 490.6L159.7 487.9L159.5 487.6L156.8 485.6L154.6 487.9L155.4 490.6L154.2 491.1L153.9 490.6L153.5 487.9L154.1 485.3L151.7 482.6L151.5 482.3L150.7 482.6L148.9 482.8L146.2 485.1L143.6 485.2L143.5 485.3L140.9 486.2L139.3 487.9L138.3 490L137.9 490.6L135.6 492.5L134 493.3L133 495.4L132.9 495.9L132.4 498.6L131.5 501.3L130.6 503.9L130.3 504.6L129.5 506.6L129.6 509.3Z" fill="#ffc837"/><path d="M130.3 509.3L133 509.3L135.6 509.3L138.3 509.3L140.9 509.3L143.6 509.3L146.2 509.3L148.9 509.3L151.5 509.3L154.2 509.3L156.8 509.3L159.5 509.3L160.9 509.3L160.4 506.6L160.3 503.9L160.7 501.3L160.4 498.6L160.4 495.9L161.1 493.3L159.5 491.4L157.2 493.3L157.7 495.9L156.8 496.4L156.6 495.9L156.3 493.3L154.2 492.2L153.2 490.6L151.5 488.1L151.5 487.9L151.5 486.4L151.8 485.3L151.5 484.9L148.9 484L147.5 485.3L146.2 486.2L143.6 485.8L140.9 487L140.1 487.9L139 490.6L138.3 490.9L135.6 493.3L135.9 495.9L135.6 496.8L133.3 498.6L133 498.7L132 501.3L131.2 503.9L130.3 506L130.1 506.6L130.3 509.3ZM156.8 489.5L158.2 487.9L156.8 487L155.9 487.9Z" fill="#ffb649"/><path d="M133 509.3L135.6 509.3L138.3 509.3L140.9 509.3L143.6 509.3L146.2 509.3L148.9 509.3L151.5 509.3L154.2 509.3L156.8 509.3L159.5 509.3L160 509.3L159.8 506.6L159.5 504.6L159.4 503.9L159.5 503.4L159.9 501.3L159.5 498.8L156.8 498.6L156.8 498.6L155.3 495.9L154.2 493.6L154.1 493.3L152.5 490.6L151.5 489.1L151 487.9L149.1 485.3L148.9 485.2L148.8 485.3L146.2 487.2L143.6 486.4L140.9 487.8L140.8 487.9L140.2 490.6L138.3 491.5L136.3 493.3L136.6 495.9L135.8 498.6L135.6 498.7L133 500.1L132.5 501.3L131.7 503.9L130.7 506.6L130.8 509.3ZM159.5 494.3L159.9 493.3L159.5 492.8L158.9 493.3Z" fill="#ffa45b"/><path d="M133 509.3L135.6 509.3L138.3 509.3L140.9 509.3L143.6 509.3L146.2 509.3L148.9 509.3L151.5 509.3L154.2 509.3L156.8 509.3L159.1 509.3L159.1 506.6L158.5 503.9L159.3 501.3L156.8 499L156.2 498.6L154.2 496.1L154.1 495.9L153.2 493.3L151.9 490.6L151.5 490.1L150.5 487.9L148.9 485.8L146.5 487.9L146.2 488.5L145.8 487.9L143.6 486.9L141.8 487.9L141.5 490.6L141.1 493.3L140.9 493.4L140.8 493.3L138.3 492.1L136.9 493.3L137.3 495.9L136.9 498.6L135.6 499.2L133 501.3L133 501.5L132.3 503.9L131.4 506.6L131.3 509.3Z" fill="#ff926d"/><path d="M133 509.3L135.6 509.3L138.3 509.3L140.9 509.3L143.6 509.3L146.2 509.3L148.9 509.3L151.5 509.3L154.2 509.3L156.8 509.3L158.2 509.3L158.3 506.6L157.7 503.9L158.8 501.3L156.8 499.5L155.6 498.6L154.2 496.9L153.6 495.9L152.3 493.3L151.5 491.7L151.3 490.6L150 487.9L148.9 486.5L147.2 487.9L146.2 490.4L144.6 487.9L143.6 487.5L142.8 487.9L143 490.6L142.8 493.3L140.9 494.4L139.6 493.3L138.3 492.6L137.5 493.3L138.1 495.9L138 498.6L135.6 499.6L133.6 501.3L133 503.7L132.9 503.9L132.2 506.6L131.8 509.3Z" fill="#ff827d"/><path d="M133 509.3L135.6 509.3L138.3 509.3L140.9 509.3L143.6 509.3L146.2 509.3L148.9 509.3L151.5 509.3L154.2 509.3L156.8 509.3L157.3 509.3L157.6 506.6L156.9 503.9L158.4 501.3L156.8 499.9L155 498.6L154.2 497.6L153.1 495.9L151.5 493.4L151.4 493.3L151 490.6L149.5 487.9L148.9 487.1L147.9 487.9L146.6 490.6L146.4 493.3L146.2 493.5L143.6 494.6L140.9 495.5L139.9 495.9L138.7 498.6L138.3 499.2L135.6 500.1L134.2 501.3L133.4 503.9L133 506.3L132.9 506.6L132.3 509.3ZM138.3 493.7L138.4 493.3L138.3 493.2L138.2 493.3Z" fill="#ff708f"/><path d="M133 509.3L135.6 509.3L138.3 509.3L140.9 509.3L143.6 509.3L146.2 509.3L148.9 509.3L151.5 509.3L154.2 509.3L155.9 509.3L154.2 507.4L154.1 506.6L154.2 505L154.8 503.9L156.8 503.1L157.9 501.3L156.8 500.3L154.3 498.6L154.2 498.4L152.6 495.9L151.5 494.2L151 493.3L150.6 490.6L149 487.9L148.9 487.7L148.7 487.9L147 490.6L146.9 493.3L146.2 494L143.9 495.9L143.6 496.2L140.9 496.4L139.2 498.6L138.3 500.1L135.6 500.6L134.8 501.3L133.9 503.9L133.3 506.6L133 508.8L132.9 509.3Z" fill="#ff5ea1"/><path d="M135.6 509.3L138.3 509.3L140.9 509.3L143.6 509.3L146.2 509.3L148.9 509.3L151.5 509.3L154.1 509.3L153.8 506.6L154 503.9L154.2 503.6L156.8 502.3L157.4 501.3L156.8 500.7L154.2 498.9L153.8 498.6L152.1 495.9L151.5 495L150.5 493.3L150.2 490.6L148.9 488.4L147.4 490.6L147.3 493.3L146.2 494.6L144.5 495.9L143.6 496.7L140.9 497.1L139.8 498.6L138.3 500.9L135.6 501.1L135.4 501.3L134.4 503.9L133.8 506.6L133.4 509.3Z" fill="#fe4cb3"/><path d="M135.6 509.3L138.3 509.3L140.9 509.3L143.6 509.3L146.2 509.3L148.9 509.3L151.5 509.3L153.6 509.3L153.6 506.6L153.6 503.9L154.2 503.2L156.8 501.5L157 501.3L156.8 501.1L154.2 499.4L153.2 498.6L151.6 495.9L151.5 495.8L150.1 493.3L149.8 490.6L148.9 489L147.8 490.6L147.7 493.3L146.2 495.1L145.2 495.9L143.6 497.3L140.9 497.8L140.3 498.6L138.6 501.3L138.3 501.6L135.6 502L134.8 503.9L134.2 506.6L133.9 509.3Z" fill="#e23ac5"/><path d="M135.6 509.3L138.3 509.3L140.9 509.3L143.6 509.3L146.2 509.3L148.9 509.3L151.5 509.3L153.1 509.3L153.3 506.6L153.3 503.9L154.2 502.8L156.4 501.3L154.2 499.8L152.6 498.6L151.5 496.8L150.5 495.9L149.7 493.3L149.5 490.6L148.9 489.6L148.2 490.6L148.2 493.3L146.2 495.6L145.9 495.9L143.6 497.9L140.9 498.6L140.9 498.6L139.2 501.3L138.3 502.2L135.6 503.2L135.3 503.9L134.6 506.6L134.5 509.3Z" fill="#c628d7"/><path d="M135.6 509.3L138.3 509.3L140.9 509.3L143.6 509.3L146.2 509.3L148.9 509.3L151.5 509.3L152.6 509.3L153 506.6L153 503.9L154.2 502.3L155.8 501.3L154.2 500.2L152 498.6L151.5 497.8L149.2 495.9L149.2 493.3L149.1 490.6L148.9 490.3L148.7 490.6L148.6 493.3L147.8 495.9L146.2 496.3L143.6 498.4L143 498.6L140.9 499.4L139.7 501.3L138.3 502.8L136.1 503.9L135.6 504.5L135 506.6L135 509.3ZM145.9 501.3L146.2 501.2L148.9 501L149.2 501.3L148.9 501.5L146.2 501.4Z" fill="#ad18e7"/><path d="M135.6 509.3L138.3 509.3L140.9 509.3L143.6 509.3L146.2 509.3L148.9 509.3L151.5 509.3L152.1 509.3L152.8 506.6L152.6 503.9L154.2 501.9L155.1 501.3L154.2 500.6L151.5 498.7L151.4 498.6L148.9 496.4L146.2 497.1L144.3 498.6L146.2 500.2L148.9 500.5L149.7 501.3L148.9 501.9L146.2 502.1L143.6 501.3L143.5 501.3L140.9 500.3L140.3 501.3L138.3 503.5L137.3 503.9L135.6 506L135.5 506.6L135.5 509.3Z" fill="#9106f9"/><path d="M138.3 509.3L140.9 509.3L143.6 509.3L146.2 509.3L148.9 509.3L151.5 509.3L151.6 509.3L152.5 506.6L152.3 503.9L154.2 501.5L154.5 501.3L154.2 501.1L151.5 499.4L150.7 498.6L148.9 497L146.2 497.9L145.4 498.6L146.2 499.3L148.9 500L150.2 501.3L148.9 502.2L146.2 502.9L143.6 501.6L141.1 501.3L140.9 501.2L140.9 501.3L138.6 503.9L138.3 504.1L136 506.6L136.1 509.3Z" fill="#7400ff"/><path d="M138.3 509.3L140.9 509.3L143.6 509.3L146.2 509.3L148.9 509.3L149.9 509.3L151.5 508.6L152.3 506.6L152 503.9L153.6 501.3L151.5 500L150.6 501.3L148.9 502.6L146.2 503.6L143.6 502L140.9 502.9L140 503.9L138.3 504.8L136.7 506.6L136.6 509.3ZM148.9 499.5L150.1 498.6L148.9 497.5L146.5 498.6Z" fill="#5800ff"/><path d="M138.3 509.3L140.9 509.3L143.6 509.3L146.2 509.3L148.7 509.3L148.9 508.7L151.5 507.9L152 506.6L151.6 503.9L152.5 501.3L151.5 500.7L151.1 501.3L148.9 503L146.7 503.9L146.2 504.2L145.9 503.9L143.6 502.4L141.1 503.9L140.9 504.2L138.3 505.5L137.3 506.6L137.2 509.3ZM148.9 499L149.4 498.6L148.9 498.1L147.8 498.6Z" fill="#3c00ff"/><path d="M138.3 509.3L140 509.3L140.9 508.9L142.5 509.3L143.6 509.3L146.2 509.3L148.3 509.3L148.9 507.4L151.5 507.2L151.7 506.6L151.5 505.3L150.7 503.9L148.9 503.4L147.6 503.9L146.2 504.7L145.3 503.9L143.6 502.8L141.7 503.9L140.9 504.9L138.3 506.2L138 506.6L137.8 509.3Z" fill="#2300ff"/><path d="M140.9 508L143.6 508.6L144 509.3L146.2 509.3L147.8 509.3L148.5 506.6L148.9 505.5L149.5 503.9L148.9 503.7L148.4 503.9L146.2 505.2L144.8 503.9L143.6 503.1L142.3 503.9L140.9 505.5L138.9 506.6Z" fill="#0700ff"/><path d="M140.9 507.1L143.6 507.7L144.6 509.3L146.2 509.3L147.4 509.3L147.7 506.6L146.2 505.7L144.2 503.9L143.6 503.5L142.9 503.9L140.9 506.2L140.2 506.6Z" fill="#0000e4"/><path d="M143.6 506.8L145.2 509.3L146.2 509.3L146.9 509.3L146.9 506.6L146.2 506.2L143.7 503.9L143.6 503.9L143.5 503.9L142.8 506.6Z" fill="#0000c0"/><path d="M146.2 509.3L146.5 509.3L146.2 507.2L145.9 509.3Z" fill="#00009c"/></g><path d="M160.82 243.9V510.6M227.15 243.9V510.6M293.48 243.9V510.6" stroke="#a8a8a8" stroke-opacity="0.62" stroke-width="1.15" fill="none"/><path d="M94.5 466.15H359.8M94.5 421.7H359.8M94.5 377.25H359.8M94.5 332.8H359.8M94.5 288.35H359.8" stroke="#a8a8a8" stroke-opacity="0.62" stroke-width="1.15" fill="none"/><g clip-path="url(#cm21)" stroke="#000" stroke-width="2.45" stroke-dasharray="9 3.9"><line x1="193.99" y1="243.9" x2="193.99" y2="510.6"/><line x1="94.5" y1="377.25" x2="359.8" y2="377.25" stroke-dashoffset="2.56"/></g><rect x="94.5" y="243.9" width="265.3" height="266.7" fill="none" stroke="#000" stroke-width="1.4"/><path d="M94.5 510.6v5.6M160.82 510.6v5.6M227.15 510.6v5.6M293.48 510.6v5.6M359.8 510.6v5.6M94.5 466.15h-5.6M94.5 421.7h-5.6M94.5 377.25h-5.6M94.5 332.8h-5.6M94.5 288.35h-5.6M94.5 243.9h-5.6" stroke="#000" stroke-width="1.4"/><text transform="translate(94.5,538.2) scale(0.94,1)" font-family="'DejaVu Serif', serif" font-size="20.8" text-anchor="middle">1</text><text transform="translate(160.82,538.2) scale(0.94,1)" font-family="'DejaVu Serif', serif" font-size="20.8" text-anchor="middle">2</text><text transform="translate(227.15,538.2) scale(0.94,1)" font-family="'DejaVu Serif', serif" font-size="20.8" text-anchor="middle">3</text><text transform="translate(293.48,538.2) scale(0.94,1)" font-family="'DejaVu Serif', serif" font-size="20.8" text-anchor="middle">4</text><text transform="translate(359.8,538.2) scale(0.94,1)" font-family="'DejaVu Serif', serif" font-size="20.8" text-anchor="middle">5</text><text transform="translate(81.8,474.45) scale(0.94,1)" font-family="'DejaVu Serif', serif" font-size="20.8" text-anchor="end">15</text><text transform="translate(81.8,430) scale(0.94,1)" font-family="'DejaVu Serif', serif" font-size="20.8" text-anchor="end">30</text><text transform="translate(81.8,385.55) scale(0.94,1)" font-family="'DejaVu Serif', serif" font-size="20.8" text-anchor="end">45</text><text transform="translate(81.8,341.1) scale(0.94,1)" font-family="'DejaVu Serif', serif" font-size="20.8" text-anchor="end">60</text><text transform="translate(81.8,296.65) scale(0.94,1)" font-family="'DejaVu Serif', serif" font-size="20.8" text-anchor="end">75</text><text transform="translate(81.8,252.2) scale(0.94,1)" font-family="'DejaVu Serif', serif" font-size="20.8" text-anchor="end">90</text><text x="227.5" y="575.5" font-family="'DejaVu Serif', serif" font-size="29" text-anchor="middle">distance (<tspan font-family="'DejaVu Sans', sans-serif" font-style="italic">Å</tspan>)</text><text transform="translate(44.6,523.3) rotate(-90)" font-family="'DejaVu Sans', sans-serif" font-size="24.5" textLength="295" lengthAdjust="spacingAndGlyphs">∠<tspan font-style="italic">C</tspan><tspan font-size="17" dy="4">2</tspan><tspan dy="-4"> = (</tspan><tspan font-style="italic">O</tspan><tspan font-size="17" dy="4">2</tspan><tspan dy="-4">)⋯(</tspan><tspan font-style="italic">D</tspan><tspan font-size="17" dy="4">2</tspan><tspan dy="-4">)</tspan><tspan font-style="italic">O</tspan><tspan font-family="'DejaVu Serif', serif" font-size="24.5"> (deg)</tspan></text><path d="M392.42 243.9V510.6M444.06 243.9V510.6" stroke="#a8a8a8" stroke-opacity="0.62" stroke-width="1.15" fill="none"/><path d="M366.6 466.15H495.7M366.6 421.7H495.7M366.6 377.25H495.7M366.6 332.8H495.7M366.6 288.35H495.7" stroke="#a8a8a8" stroke-opacity="0.62" stroke-width="1.15" fill="none"/><g clip-path="url(#cr21)"><polyline points="366.75,243.62 366.75,246.64 366.75,249.66 366.75,252.67 366.75,255.69 366.75,258.71 366.75,261.73 366.75,264.75 366.75,267.77 366.75,270.78 366.75,273.8 366.75,276.82 366.75,279.84 366.75,282.86 366.75,285.88 366.75,288.89 366.75,291.91 366.75,294.93 366.75,297.95 366.75,300.97 366.75,303.99 366.75,307.01 366.75,310.02 366.75,313.04 366.75,316.06 366.75,319.08 366.75,322.1 366.75,325.12 366.75,328.13 366.75,331.15 366.75,334.17 366.75,337.19 366.75,340.21 366.75,343.23 366.75,346.24 366.75,349.26 366.75,352.28 366.75,355.3 366.75,358.32 366.75,361.34 366.75,364.35 366.75,367.37 366.75,370.39 366.75,373.41 366.75,376.43 366.75,379.45 366.75,382.46 366.75,385.48 366.75,388.5 366.75,391.52 366.75,394.54 366.75,397.56 366.75,400.58 366.75,403.59 366.75,406.61 366.75,409.63 366.75,412.65 366.75,415.67 366.75,418.69 366.75,421.7 366.75,424.72 366.75,427.74 366.75,430.76 366.75,433.78 366.75,436.8 366.75,439.81 366.75,442.83 366.75,445.85 366.75,448.87 366.75,451.89 366.75,454.91 366.75,457.92 366.75,460.94 366.75,463.96 369.43,468.32 372.63,470.77 373.79,472.67 375.45,474.29 380.32,474.85 382.4,475.98 386.81,477.63 389.03,479.2 392.48,480.31 393.77,481.16 397.74,483.56 401.07,484.13 403.61,485.65 406.45,486.82 408.47,488.26 413.72,488.56 417.33,490.09 421.07,491.18 424.19,491.62 428.22,492.27 432.68,492.59 434.19,493.31 437.61,494.27 441.28,494.44 445.04,495 446.83,495.47 451.18,495.23 454.35,495.53 459.13,496.49 462.3,496.28 465.23,496.62 468.02,496.97 472.85,497.71 473.94,500.98 476.12,504.24 479.69,505.99 482.65,506.42 485.9,505.83 489.18,505.33 493.54,508.6 496.15,509.25" fill="none" stroke="#000" stroke-width="3.9" stroke-linejoin="round" stroke-dasharray="14.8 6.4"/></g><rect x="366.6" y="243.9" width="129.1" height="266.7" fill="none" stroke="#000" stroke-width="1.4"/><path d="M392.42 510.6v5.6M444.06 510.6v5.6M495.7 510.6v5.6M495.7 466.15h5.6M495.7 421.7h5.6M495.7 377.25h5.6M495.7 332.8h5.6M495.7 288.35h5.6M495.7 243.9h5.6" stroke="#000" stroke-width="1.4"/><text transform="translate(392.42,538.2) scale(0.94,1)" font-family="'DejaVu Serif', serif" font-size="20.8" text-anchor="middle">0.2</text><text transform="translate(444.06,538.2) scale(0.94,1)" font-family="'DejaVu Serif', serif" font-size="20.8" text-anchor="middle">0.6</text><text transform="translate(495.7,538.2) scale(0.94,1)" font-family="'DejaVu Serif', serif" font-size="20.8" text-anchor="middle">1.0</text><text transform="translate(507.4,474.25) scale(0.94,1)" font-family="'DejaVu Serif', serif" font-size="20.8" text-anchor="start">15</text><text transform="translate(507.4,429.8) scale(0.94,1)" font-family="'DejaVu Serif', serif" font-size="20.8" text-anchor="start">30</text><text transform="translate(507.4,385.35) scale(0.94,1)" font-family="'DejaVu Serif', serif" font-size="20.8" text-anchor="start">45</text><text transform="translate(507.4,340.9) scale(0.94,1)" font-family="'DejaVu Serif', serif" font-size="20.8" text-anchor="start">60</text><text transform="translate(507.4,296.45) scale(0.94,1)" font-family="'DejaVu Serif', serif" font-size="20.8" text-anchor="start">75</text><text transform="translate(507.4,252) scale(0.94,1)" font-family="'DejaVu Serif', serif" font-size="20.8" text-anchor="start">90</text><text x="431.4" y="581.2" font-family="'DejaVu Sans', sans-serif" font-size="29.5" text-anchor="middle"><tspan font-style="italic">g</tspan>(<tspan font-style="italic">θ</tspan>)</text><rect x="564.6" y="557.36" width="6.4" height="11.56" fill="#ffffcd"/><rect x="564.6" y="546.51" width="6.4" height="11.56" fill="#ffff5c"/><rect x="564.6" y="535.65" width="6.4" height="11.56" fill="#fffc03"/><rect x="564.6" y="524.8" width="6.4" height="11.56" fill="#ffec13"/><rect x="564.6" y="513.94" width="6.4" height="11.56" fill="#ffda25"/><rect x="564.6" y="503.08" width="6.4" height="11.56" fill="#ffc837"/><rect x="564.6" y="492.23" width="6.4" height="11.56" fill="#ffb649"/><rect x="564.6" y="481.37" width="6.4" height="11.56" fill="#ffa45b"/><rect x="564.6" y="470.52" width="6.4" height="11.56" fill="#ff926d"/><rect x="564.6" y="459.66" width="6.4" height="11.56" fill="#ff827d"/><rect x="564.6" y="448.81" width="6.4" height="11.56" fill="#ff708f"/><rect x="564.6" y="437.95" width="6.4" height="11.56" fill="#ff5ea1"/><rect x="564.6" y="427.09" width="6.4" height="11.56" fill="#fe4cb3"/><rect x="564.6" y="416.24" width="6.4" height="11.56" fill="#e23ac5"/><rect x="564.6" y="405.38" width="6.4" height="11.56" fill="#c628d7"/><rect x="564.6" y="394.53" width="6.4" height="11.56" fill="#ad18e7"/><rect x="564.6" y="383.67" width="6.4" height="11.56" fill="#9106f9"/><rect x="564.6" y="372.81" width="6.4" height="11.56" fill="#7400ff"/><rect x="564.6" y="361.96" width="6.4" height="11.56" fill="#5800ff"/><rect x="564.6" y="351.1" width="6.4" height="11.56" fill="#3c00ff"/><rect x="564.6" y="340.25" width="6.4" height="11.56" fill="#2300ff"/><rect x="564.6" y="329.39" width="6.4" height="11.56" fill="#0700ff"/><rect x="564.6" y="318.54" width="6.4" height="11.56" fill="#0000e4"/><rect x="564.6" y="307.68" width="6.4" height="11.56" fill="#0000c0"/><rect x="564.6" y="296.82" width="6.4" height="11.56" fill="#00009c"/><rect x="564.6" y="285.97" width="6.4" height="11.56" fill="#000078"/><rect x="564.6" y="275.11" width="6.4" height="11.56" fill="#000058"/><rect x="564.6" y="264.26" width="6.4" height="11.56" fill="#000034"/><rect x="564.6" y="253.4" width="6.4" height="11.56" fill="#000010"/><rect x="564.6" y="253.4" width="6.4" height="314.7" fill="none" stroke="#000" stroke-width="1.1"/><path d="M571 539.6h5.6M571 507.8h5.6M571 476h5.6M571 444.2h5.6M571 412.4h5.6M571 380.6h5.6M571 348.8h5.6M571 317h5.6M571 285.2h5.6M571 253.4h5.6" stroke="#000" stroke-width="1.4"/><text transform="translate(582.3,547.5) scale(0.94,1)" font-family="'DejaVu Serif', serif" font-size="20.8" text-anchor="start">0.1</text><text transform="translate(582.3,515.7) scale(0.94,1)" font-family="'DejaVu Serif', serif" font-size="20.8" text-anchor="start">0.2</text><text transform="translate(582.3,483.9) scale(0.94,1)" font-family="'DejaVu Serif', serif" font-size="20.8" text-anchor="start">0.3</text><text transform="translate(582.3,452.1) scale(0.94,1)" font-family="'DejaVu Serif', serif" font-size="20.8" text-anchor="start">0.4</text><text transform="translate(582.3,420.3) scale(0.94,1)" font-family="'DejaVu Serif', serif" font-size="20.8" text-anchor="start">0.5</text><text transform="translate(582.3,388.5) scale(0.94,1)" font-family="'DejaVu Serif', serif" font-size="20.8" text-anchor="start">0.6</text><text transform="translate(582.3,356.7) scale(0.94,1)" font-family="'DejaVu Serif', serif" font-size="20.8" text-anchor="start">0.7</text><text transform="translate(582.3,324.9) scale(0.94,1)" font-family="'DejaVu Serif', serif" font-size="20.8" text-anchor="start">0.8</text><text transform="translate(582.3,293.1) scale(0.94,1)" font-family="'DejaVu Serif', serif" font-size="20.8" text-anchor="start">0.9</text><text transform="translate(582.3,261.3) scale(0.94,1)" font-family="'DejaVu Serif', serif" font-size="20.8" text-anchor="start">1.0</text><text transform="translate(639.1,411.7) rotate(-90)" font-family="'DejaVu Serif', serif" font-size="24.7" text-anchor="middle">probability</text><text x="327.3" y="49.6" font-family="'Liberation Serif', serif" font-size="44" text-anchor="middle" textLength="327.8" lengthAdjust="spacingAndGlyphs">2.6 Å, 0°; 2.6 Å,0°</text></g></svg></body></html>
